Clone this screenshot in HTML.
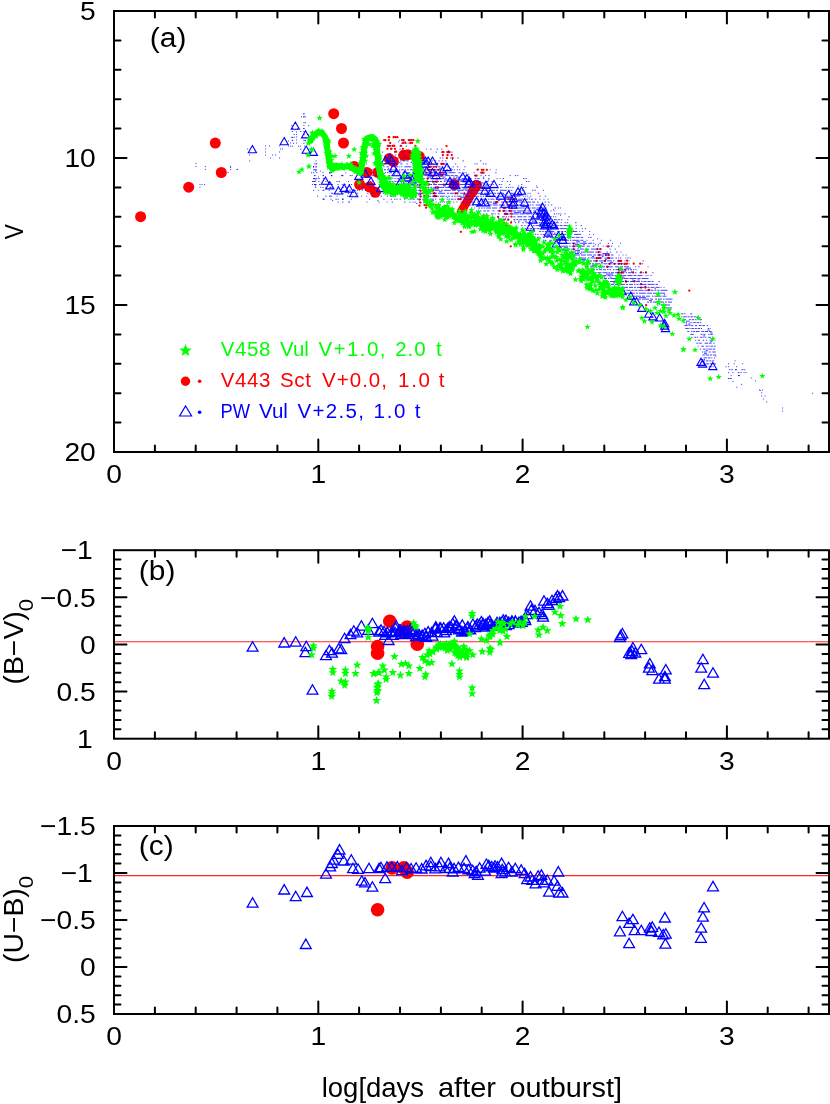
<!DOCTYPE html>
<html><head><meta charset="utf-8"><title>Nova light curves</title>
<style>html,body{margin:0;padding:0;background:#fff}svg{display:block;will-change:transform;transform:translateZ(0)}</style></head><body>
<svg width="830" height="1104" viewBox="0 0 830 1104">
<rect width="830" height="1104" fill="#fff"/>
<path d="M397.3 137.2h.1M410.2 142.9h.1M411.4 140.1h.1M392.6 145.8h.1M389.2 137.2h.1M412 142.9h.1M402 140.1h.1M403.6 140.1h.1M395.4 137.2h.1M401 145.8h.1M402.7 140.1h.1M388.7 137.2h.1M390.1 142.9h.1M394.3 145.8h.1M394.9 148.8h.1M415.3 145.8h.1M384.1 140.1h.1M408.7 140.1h.1M393.2 145.8h.1M387.4 148.8h.1M389.8 145.8h.1M391.4 148.8h.1M403.1 142.9h.1M409.8 140.1h.1M387.8 145.8h.1M390.9 148.8h.1M405.4 142.9h.1M402.8 148.8h.1M413.3 140.1h.1M385.3 140.1h.1M393.6 137.2h.1M388.8 140.1h.1M401.6 151.7h.1M401.5 151.7h.1M402.3 151.7h.1M395.2 151.7h.1M396.2 151.7h.1M403.5 151.7h.1M402.4 151.7h.1M410.2 151.7h.1M443.2 152.1h.1M449.5 152.1h.1M447.2 152.1h.1M448.5 152.1h.1M446.9 158h.1M452.6 158h.1M447.6 155.1h.1M449 152.1h.1M442.8 155.1h.1M451.7 155.1h.1M443.4 152.1h.1M442.8 152.1h.1M446.5 146h.1M420.3 179h.1M419.5 181.9h.1M420.2 184.9h.1M420.5 187.8h.1M420.5 190.8h.1M420.6 193.7h.1M420.5 196.6h.1M419.7 199.6h.1M420.4 202.5h.1M419.4 205.5h.1M426 207.7h.1M440.8 172.7h.1M428.8 184.5h.1M428.9 169.8h.1M428.7 166.8h.1M437 181.5h.1M443.8 184.5h.1M435.8 172.7h.1M427.5 178.6h.1M440.6 175.6h.1M437 178.6h.1M436.2 166.8h.1M436.9 163.9h.1M435.7 181.5h.1M443.7 163.9h.1M441.3 163.9h.1M441.8 175.6h.1M427.3 181.5h.1M428.3 184.5h.1M438.3 169.8h.1M434.3 169.8h.1M431.5 175.6h.1M431.5 172.7h.1M426.1 172.7h.1M429.6 163.9h.1M425 184.5h.1M441.9 163.9h.1M427.3 181.5h.1M443.1 172.7h.1M430.7 166.8h.1M431.3 169.8h.1M433.2 175.6h.1M432.7 181.5h.1M433.8 166.8h.1M428 169.8h.1M429.3 190.3h.1M426.4 205h.1M424.5 205h.1M430.3 202.1h.1M427.9 196.2h.1M433.3 190.3h.1M432.5 190.3h.1M435.9 187.4h.1M437.9 187.4h.1M427.3 196.2h.1M439.4 205h.1M424.2 196.2h.1M433.4 193.3h.1M436.2 205h.1M435.2 196.2h.1M434.6 193.3h.1M434.7 196.2h.1M435.8 196.2h.1M434.2 196.2h.1M434.2 193.3h.1M434.1 193.3h.1M483.5 172.7h.1M481.8 169.8h.1M483.4 169.8h.1M476.6 175.6h.1M482.3 172.7h.1M481.6 172.7h.1M486.8 169.8h.1M477.8 169.5h.1M482 172.8h.1M475.4 175.5h.1M511.8 208h.1M506 225.6h.1M509.5 210.9h.1M497.3 202.1h.1M506.8 213.9h.1M498.1 216.8h.1M503.9 219.7h.1M508.6 199.2h.1M514.6 199.2h.1M512.4 199.2h.1M506.6 202.1h.1M499.7 210.9h.1M510.6 210.9h.1M502.7 205h.1M503.8 222.7h.1M505.1 213.9h.1M505.3 213.9h.1M509.3 205h.1M504.8 199.2h.1M504.2 208h.1M503.7 210.9h.1M496 202.1h.1M507.8 225.6h.1M499.3 222.7h.1M511.7 202.1h.1M493.1 219.7h.1M499.6 219.7h.1M504.5 208h.1M508.1 219.7h.1M500.3 219.7h.1M460.5 199.2h.1M469.8 190.3h.1M468.8 187.4h.1M468.8 187.4h.1M457.3 193.3h.1M468.9 187.4h.1M458.2 199.2h.1M464.3 193.3h.1M455.4 193.3h.1M468.8 193.3h.1M511.4 213.7h.1M511.4 216.6h.1M511 222.5h.1M510.7 246.3h.1M510.7 246.3h.1M460.8 231.8h.1M510.7 246.3h.1M573.7 243.5h.1M573.7 246.4h.1M573.7 249.3h.1M600 258h.1M599.3 255h.1M598.8 252.1h.1M597.4 249.1h.1M598.4 258h.1M598.4 258h.1M600.5 249.1h.1M596.5 260.9h.1M596.6 258h.1M607.7 246.4h.1M608.3 246.3h.1M609.4 263.8h.1M607.4 266.8h.1M608.4 255h.1M607.2 266.8h.1M605 260.9h.1M608.1 258h.1M609.2 258h.1M605.7 255h.1M618.8 263.8h.1M620.4 260.9h.1M624.4 263.8h.1M614.4 263.8h.1M621.5 263.8h.1M625.5 263.8h.1M626.5 263.8h.1M618.5 260.9h.1M621.5 263.8h.1M621 260.9h.1M620.7 275.6h.1M622.6 272.7h.1M619.7 281.5h.1M619.1 272.7h.1M625.2 269.7h.1M621.8 278.5h.1M625.9 281.5h.1M618.1 272.7h.1M620.3 269.7h.1M618.9 269.7h.1M619.3 272.7h.1M621.8 272.7h.1M633.7 263.7h.1M640.2 263.7h.1M633 272.4h.1M641 272.4h.1M646 272.4h.1M625.8 281h.1M634.5 281h.1M641 284h.1M645.3 286.9h.1M649 289.8h.1M646 305h.1M626 281.7h.1M634.3 281.3h.1M641 284h.1M641 287.6h.1M645.3 287.6h.1M648.7 290h.1M689.2 290.5h.1M627 260.7h.1M627 263.6h.1" stroke="#f00" stroke-width="2.25" stroke-linecap="round" fill="none"/>
<g fill="#f00"><circle cx="140.6" cy="216.7" r="5.5"/><circle cx="188.7" cy="187.2" r="5.5"/><circle cx="215.3" cy="143.1" r="5.5"/><circle cx="221.3" cy="172.5" r="5.5"/><circle cx="333.7" cy="113.7" r="5.5"/><circle cx="341.5" cy="128.5" r="5.5"/><circle cx="343.5" cy="143" r="5.5"/><circle cx="354.2" cy="166.4" r="5.5"/><circle cx="366.9" cy="172.4" r="5.5"/><circle cx="377.7" cy="172.4" r="5.5"/><circle cx="359.6" cy="184.5" r="5.5"/><circle cx="369.3" cy="186.9" r="5.5"/><circle cx="375.3" cy="192.3" r="5.5"/><circle cx="389.2" cy="158.6" r="5.5"/><circle cx="393.4" cy="161.5" r="5.5"/><circle cx="403.7" cy="155.3" r="5.5"/><circle cx="407.9" cy="154.7" r="5.5"/><circle cx="419.3" cy="156.5" r="5.5"/><circle cx="454.3" cy="184.5" r="5.5"/></g>
<g fill="#f00"><circle cx="476.3" cy="185.4" r="5.6"/><circle cx="474.8" cy="188" r="5.3"/><circle cx="473.3" cy="190.6" r="5"/><circle cx="471.8" cy="193.2" r="4.7"/><circle cx="470.3" cy="195.8" r="4.4"/><circle cx="468.8" cy="198.4" r="4.4"/><circle cx="467.2" cy="201.1" r="4.4"/><circle cx="465.7" cy="203.7" r="4.4"/><circle cx="464.2" cy="206.3" r="4.4"/><circle cx="462.7" cy="208.9" r="4.4"/><circle cx="461.2" cy="211.5" r="4.4"/></g>
<path d="M301 116.8h1M305 116.8h1M308 125.7h1.2M297 128.6h1.4M303.4 128.6h1M300 131.5h1.2M296 134.5h1M303 134.5h1.4M307.4 134.5h1.2M305 137.4h1.2M309.2 137.4h1.4M309 140.4h1.2M399.2 140.4h1M398 141.8h1.2M404.2 141.8h1.2M293 143.3h1.2M401.2 143.3h1.4M407.6 143.3h1M298 146.2h1.2M300.2 146.2h1M304.2 146.2h1M388.2 146.2h1M390.2 146.2h1.2M399.4 146.2h1.2M405.6 146.2h1.4M300 149.2h1.4M399.4 149.2h1.4M411.8 149.2h1M415.8 149.2h1.4M426.2 149.2h1M430.2 149.2h1.4M436.6 149.2h1.4M441 149.2h1.4M448 150.7h1M382 152.1h1.2M394.2 152.1h1.2M401.4 152.1h1.4M404.8 152.1h1M408.8 152.1h1.4M415.2 152.1h1.4M417.6 152.1h1M435.6 152.1h1.2M440.8 152.1h1.4M448.2 152.1h1.2M451.4 152.1h1.2M310 155.1h1M388 155.1h1M395 155.1h1.2M398.2 155.1h1M403.2 155.1h1.2M417.4 155.1h1M446.4 155.1h1M405 156.5h1.2M388 158h1.2M390.2 158h1M397.2 158h1.4M400.6 158h1.2M402.8 158h1M404.8 158h1.4M407.2 158h1.4M410.6 158h1M412.6 158h1.2M416.8 158h1.2M423 158h1.2M425.2 158h1.4M427.6 158h1M431.6 158h1M439.6 158h1.4M442 158h1.4M450.4 158h1M457.4 158h1.2M452 159.5h1M390 160.9h1.2M393.2 160.9h2M396.2 160.9h1M400.2 160.9h1.5M402.7 160.9h2.5M406.2 160.9h2.5M414.7 160.9h1M416.7 160.9h1.4M421.1 160.9h1.4M431.5 160.9h1.4M434.9 160.9h1.4M438.3 160.9h1.4M441.7 160.9h1.4M445.1 160.9h1.4M462.5 160.9h1.4M479.9 160.9h1.4M399 162.4h1.5M410.5 162.4h1.5M366 163.9h1M384 163.9h1.4M388.4 163.9h2.5M392.9 163.9h2M395.9 163.9h2.5M400.4 163.9h2M406.4 163.9h1.5M411.9 163.9h2M416.9 163.9h1.2M419.1 163.9h1.5M422.6 163.9h2.5M431.1 163.9h1.2M433.3 163.9h1M437.3 163.9h1.2M441.5 163.9h1.4M444.9 163.9h1M446.9 163.9h1M454.9 163.9h1.4M474.3 163.9h1M476.3 163.9h1.4M482.7 163.9h1.4M485.1 163.9h1.4M383 165.3h1.2M427.2 165.3h1.5M436.7 165.3h1M313 166.8h1M327 166.8h1.4M377.4 166.8h1.2M383.6 166.8h1M386.6 166.8h2M391.6 166.8h1.5M394.1 166.8h1.2M396.3 166.8h2M399.3 166.8h1M401.3 166.8h1M404.3 166.8h7M415.3 166.8h7M424.3 166.8h2M429.3 166.8h1.2M431.5 166.8h1M435.5 166.8h1.5M438 166.8h2.5M441.5 166.8h1.5M445 166.8h1.2M447.2 166.8h2.5M452.7 166.8h1.2M456.9 166.8h1.4M464.3 166.8h1.4M388 168.3h1.2M422.2 168.3h2M439.2 168.3h2M449.2 168.3h2.5M313 169.8h1.2M315.2 169.8h1.4M343.6 169.8h1.4M354 169.8h1.2M371.2 169.8h1.2M376.4 169.8h1.4M380.8 169.8h1.2M384 169.8h2M387 169.8h2.5M390.5 169.8h2M393.5 169.8h1M395.5 169.8h1.5M399 169.8h1.2M401.2 169.8h2.5M404.7 169.8h1.5M407.2 169.8h1.5M409.7 169.8h4M414.7 169.8h7M422.7 169.8h4M427.7 169.8h5M433.7 169.8h7M442.7 169.8h1.5M446.2 169.8h2M450.2 169.8h2.5M453.7 169.8h1.2M456.9 169.8h1.2M459.1 169.8h1.2M463.3 169.8h1.2M476.5 169.8h1.2M489.7 169.8h1M495.7 169.8h1M315 171.2h1.2M320.2 171.2h1M397.2 171.2h2.5M422.7 171.2h3M311 172.7h1.2M345.2 172.7h1M354.2 172.7h1.2M371.4 172.7h1.4M375.8 172.7h1M378.8 172.7h1M384.8 172.7h1.2M387 172.7h1.5M389.5 172.7h2.5M394 172.7h2M397 172.7h1.5M399.5 172.7h1M402.5 172.7h2.5M406 172.7h4M412 172.7h2M415 172.7h1.5M417.5 172.7h7M425.5 172.7h7M433.5 172.7h4M438.5 172.7h3M443.5 172.7h4M448.5 172.7h7M458.5 172.7h2M463.5 172.7h1M465.5 172.7h1.2M473.7 172.7h1.2M479.9 172.7h1.4M495.3 172.7h1.2M394 174.2h1.2M439.2 174.2h2M468.2 174.2h1M323 175.6h1M331 175.6h1.4M351.4 175.6h1.4M359.8 175.6h1.2M372 175.6h1.2M375.2 175.6h1.4M381.6 175.6h1.2M383.8 175.6h1.5M388.3 175.6h2M391.3 175.6h1.2M393.5 175.6h1M396.5 175.6h2.5M400 175.6h1.5M402.5 175.6h1.2M404.7 175.6h3M408.7 175.6h4M413.7 175.6h3M417.7 175.6h1.5M420.2 175.6h3M424.2 175.6h4M430.2 175.6h1.5M432.7 175.6h7M441.7 175.6h2M444.7 175.6h5M450.7 175.6h3M454.7 175.6h3M460.7 175.6h2M465.7 175.6h1.5M474.2 175.6h1.4M480.6 175.6h1.2M484.8 175.6h1.4M488.2 175.6h1.4M509.6 175.6h1.2M514.8 175.6h1.4M517.2 175.6h1.2M318 177.1h1M377 177.1h1.4M408.4 177.1h3M427.4 177.1h4M442.4 177.1h3M453.4 177.1h1.5M455.9 177.1h4M482.9 177.1h1.4M313 178.6h1.4M318.4 178.6h1.4M322.8 178.6h1.4M377.2 178.6h1.2M380.4 178.6h1.2M382.6 178.6h1.4M386 178.6h1M388 178.6h2.5M391.5 178.6h1M393.5 178.6h1M395.5 178.6h1M397.5 178.6h1.5M400 178.6h1.2M402.2 178.6h2M405.2 178.6h7M413.2 178.6h2M416.2 178.6h3M420.2 178.6h5M427.2 178.6h2M430.2 178.6h4M435.2 178.6h3M439.2 178.6h5M445.2 178.6h1.5M449.7 178.6h2M452.7 178.6h4M457.7 178.6h2M461.7 178.6h5M467.7 178.6h1.5M470.2 178.6h1.5M474.7 178.6h1.5M477.2 178.6h2.5M482.7 178.6h1.5M488.2 178.6h1.4M496.6 178.6h1M499.6 178.6h1M502.6 178.6h1.4M523 178.6h1.4M525.4 178.6h1.4M315 180h1.4M381.4 180h1M398.4 180h2.5M443.9 180h7M456.9 180h2M487.9 180h1.2M312 181.5h1.2M318.2 181.5h1.2M325.4 181.5h1M336.4 181.5h1.2M338.6 181.5h1.4M348 181.5h1M357 181.5h1M363 181.5h1M370 181.5h1.4M372.4 181.5h1.4M379.8 181.5h1.4M383.2 181.5h1M385.2 181.5h2.5M388.7 181.5h2.5M392.2 181.5h1.2M394.4 181.5h2M397.4 181.5h1M399.4 181.5h2M402.4 181.5h1.5M404.9 181.5h3M408.9 181.5h7M416.9 181.5h2M419.9 181.5h3M423.9 181.5h1.5M426.4 181.5h5M432.4 181.5h4M437.4 181.5h1.5M439.9 181.5h2M443.9 181.5h1.5M447.4 181.5h7M456.4 181.5h3M460.4 181.5h2M463.4 181.5h3M467.4 181.5h5M473.4 181.5h1.5M475.9 181.5h5M485.9 181.5h2.5M491.4 181.5h1.2M501.6 181.5h1.2M506.8 181.5h1.2M510 181.5h1M526 181.5h1.2M528.2 181.5h1.2M414 183h2M420 183h5M433 183h2M472 183h3M478 183h7M312 184.5h1M319 184.5h1.4M325.4 184.5h1M328.4 184.5h1.2M331.6 184.5h1.2M341.8 184.5h1M344.8 184.5h1M348.8 184.5h1.2M351 184.5h1.2M357.2 184.5h1M360.2 184.5h1M367.2 184.5h1.4M378.6 184.5h1M380.6 184.5h1.4M383 184.5h1.4M385.4 184.5h2.5M388.9 184.5h1.2M391.1 184.5h2M395.1 184.5h2.5M399.6 184.5h1M401.6 184.5h2M404.6 184.5h5M410.6 184.5h5M416.6 184.5h2M419.6 184.5h1.5M422.1 184.5h4M427.1 184.5h2M430.1 184.5h2M433.1 184.5h4M438.1 184.5h5M444.1 184.5h3M448.1 184.5h3M452.1 184.5h7M460.1 184.5h7M468.1 184.5h2M471.1 184.5h5M477.1 184.5h2M480.1 184.5h1.5M483.6 184.5h1.5M486.1 184.5h1.5M488.6 184.5h1M490.6 184.5h1M492.6 184.5h1.2M498.8 184.5h1.4M501.2 184.5h1M509.2 184.5h1M521.2 184.5h1M315 185.9h1M390 185.9h1M415 185.9h5M443 185.9h3M469 185.9h7M485 185.9h4M518 185.9h1.2M536.2 185.9h1M315 187.4h1.2M320.2 187.4h1.2M325.4 187.4h1M332.4 187.4h1M342.4 187.4h1.4M346.8 187.4h1.4M358.2 187.4h1.2M362.4 187.4h1.2M369.6 187.4h1.2M373.8 187.4h1.4M379.2 187.4h1M381.2 187.4h1M384.2 187.4h2M387.2 187.4h2M391.2 187.4h2.5M395.7 187.4h1M398.7 187.4h1M400.7 187.4h2.5M404.2 187.4h1.5M407.7 187.4h2M410.7 187.4h5M416.7 187.4h7M424.7 187.4h1.5M427.2 187.4h2M430.2 187.4h2M433.2 187.4h3M437.2 187.4h7M445.2 187.4h3M449.2 187.4h4M454.2 187.4h4M459.2 187.4h1.5M461.7 187.4h7M469.7 187.4h1.5M473.2 187.4h3M477.2 187.4h7M485.2 187.4h4M491.2 187.4h5M500.2 187.4h1.5M505.7 187.4h1.4M508.1 187.4h1.2M510.3 187.4h1M512.3 187.4h1.2M520.5 187.4h1.4M522.9 187.4h1.4M525.3 187.4h1.2M536.5 187.4h1.4M362 188.9h1.4M373.4 188.9h1.2M384.6 188.9h2M393.6 188.9h1.5M400.1 188.9h1M404.1 188.9h3M428.1 188.9h1.5M431.6 188.9h7M462.6 188.9h5M519.6 188.9h1M313 190.3h1.2M318.2 190.3h1M322.2 190.3h1.4M328.6 190.3h1.2M345.8 190.3h1.4M349.2 190.3h1.4M354.6 190.3h1.2M356.8 190.3h1.2M359 190.3h1M362 190.3h1M365 190.3h1M377 190.3h1.2M384.2 190.3h1.2M386.4 190.3h2M389.4 190.3h1.5M392.9 190.3h2M397.9 190.3h1.5M401.4 190.3h2.5M405.9 190.3h7M413.9 190.3h3M417.9 190.3h3M421.9 190.3h4M426.9 190.3h7M434.9 190.3h5M440.9 190.3h2M443.9 190.3h7M451.9 190.3h4M456.9 190.3h7M464.9 190.3h5M470.9 190.3h7M478.9 190.3h7M486.9 190.3h2M491.9 190.3h3M495.9 190.3h2M499.9 190.3h7M508.9 190.3h1M510.9 190.3h1.5M519.4 190.3h1.4M521.8 190.3h1.2M532 190.3h1.4M534.4 190.3h1.4M542.8 190.3h1.2M439 191.8h3M458 191.8h1.5M467.5 191.8h3M332 193.3h1.4M342.4 193.3h1.4M347.8 193.3h1.4M357.2 193.3h1M367.2 193.3h1.2M372.4 193.3h1.2M379.6 193.3h1.2M382.8 193.3h1M385.8 193.3h2.5M389.3 193.3h1.5M391.8 193.3h1M393.8 193.3h1.5M397.3 193.3h1.2M399.5 193.3h1M403.5 193.3h5M411.5 193.3h3M416.5 193.3h4M421.5 193.3h1.5M425 193.3h7M433 193.3h4M438 193.3h7M447 193.3h2M450 193.3h4M455 193.3h2M460 193.3h3M464 193.3h1.5M466.5 193.3h3M470.5 193.3h1.5M473 193.3h1.5M476.5 193.3h4M481.5 193.3h1.5M484 193.3h4M489 193.3h7M497 193.3h2M500 193.3h4M506 193.3h2M511 193.3h2M514 193.3h2M517 193.3h2.5M523.5 193.3h1M527.5 193.3h1M529.5 193.3h1.2M537.7 193.3h1.4M400 194.8h2.5M403.5 194.8h1.5M412 194.8h5M418 194.8h3M463 194.8h5M485 194.8h5M502 194.8h4M517 194.8h5M317 196.2h1.2M325.2 196.2h1.4M336.6 196.2h1M351.6 196.2h1.4M355 196.2h1.2M361.2 196.2h1M366.2 196.2h1M372.2 196.2h1.4M380.6 196.2h1.4M387 196.2h1M390 196.2h2M393 196.2h1M403 196.2h2.5M407.5 196.2h1M411.5 196.2h1.2M413.7 196.2h2M419.7 196.2h2M423.7 196.2h7M431.7 196.2h7M439.7 196.2h5M445.7 196.2h1.5M448.2 196.2h1.5M451.7 196.2h1.5M454.2 196.2h1.5M456.7 196.2h5M462.7 196.2h2M465.7 196.2h5M471.7 196.2h1.5M474.2 196.2h5M480.2 196.2h1.5M482.7 196.2h1.5M485.2 196.2h1.5M488.7 196.2h5M494.7 196.2h1.5M497.2 196.2h7M505.2 196.2h7M513.2 196.2h7M523.2 196.2h1M525.2 196.2h1M527.2 196.2h1M530.2 196.2h1.2M539.4 196.2h1.4M544.8 196.2h1.4M415 197.7h1.2M447.2 197.7h1M460.2 197.7h5M495.2 197.7h4M510.2 197.7h1.5M528.7 197.7h1M323 199.2h1.4M335.4 199.2h1.4M350.8 199.2h1.2M369 199.2h1.2M383.2 199.2h1.4M390.6 199.2h1.4M394 199.2h1.4M396.4 199.2h1.2M399.6 199.2h1.4M404 199.2h1.4M408.4 199.2h1.2M410.6 199.2h1.2M412.8 199.2h2M416.8 199.2h2.5M420.3 199.2h1M422.3 199.2h2.5M425.8 199.2h1.5M428.3 199.2h1.2M431.5 199.2h2.5M435 199.2h1.2M439.2 199.2h1M442.2 199.2h1.5M446.7 199.2h1M448.7 199.2h1.2M450.9 199.2h2.5M454.4 199.2h1.5M458.9 199.2h2.5M464.4 199.2h3M468.4 199.2h5M474.4 199.2h2M477.4 199.2h1.5M479.9 199.2h7M487.9 199.2h1.5M490.4 199.2h4M496.4 199.2h1.5M498.9 199.2h4M503.9 199.2h4M508.9 199.2h3M512.9 199.2h4M517.9 199.2h5M523.9 199.2h4M528.9 199.2h1M530.9 199.2h2M534.9 199.2h1.4M539.3 199.2h1.2M543.5 199.2h1M547.5 199.2h1M332 200.6h1.2M377.2 200.6h1.2M423.4 200.6h1.5M431.9 200.6h2M497.9 200.6h2M517.9 200.6h4M342 202.1h1.4M366.4 202.1h1M378.4 202.1h1.2M386.6 202.1h1M391.6 202.1h1.4M404 202.1h1.4M409.4 202.1h1.2M412.6 202.1h1M414.6 202.1h1.2M418.8 202.1h1.2M423 202.1h1.4M425.4 202.1h1.2M431.6 202.1h1M435.6 202.1h1M439.6 202.1h1.4M442 202.1h1M444 202.1h1.2M446.2 202.1h1.2M453.4 202.1h1M456.4 202.1h1M460.4 202.1h1.2M462.6 202.1h1.5M465.1 202.1h1.5M467.6 202.1h1.5M470.1 202.1h5M477.1 202.1h3M481.1 202.1h5M487.1 202.1h5M493.1 202.1h4M501.1 202.1h3M505.1 202.1h7M513.1 202.1h5M519.1 202.1h3M523.1 202.1h2M526.1 202.1h5M532.1 202.1h3M537.1 202.1h1.5M544.6 202.1h1.4M548 202.1h1.4M416 203.6h1.4M486.4 203.6h1.5M492.9 203.6h4M510.9 203.6h1.5M465 205h1.2M469.2 205h1.5M471.7 205h2M475.7 205h2M478.7 205h3M484.7 205h2M487.7 205h4M492.7 205h5M498.7 205h4M503.7 205h1.5M506.2 205h3M510.2 205h4M515.2 205h2M518.2 205h7M527.2 205h1.5M529.7 205h1.5M532.2 205h1.5M535.7 205h7M544.7 205h1.4M548.1 205h1M551.1 205h1.2M476 206.5h1.5M507.5 206.5h2M510.5 206.5h5M521.5 206.5h7M471 208h1.2M474.2 208h1M478.2 208h2M481.2 208h1.5M483.7 208h1.5M486.2 208h5M492.2 208h5M499.2 208h2M502.2 208h5M508.2 208h2M511.2 208h1.5M513.7 208h3M517.7 208h7M526.7 208h4M531.7 208h4M536.7 208h5M542.7 208h2M545.7 208h1M554.7 208h1.4M558.1 208h1M560.1 208h1M536 209.4h2M553 209.4h1M476 210.9h1M478 210.9h1.2M480.2 210.9h1.2M483.4 210.9h2.5M486.9 210.9h2.5M492.4 210.9h2M497.4 210.9h2M502.4 210.9h5M508.4 210.9h1.5M510.9 210.9h5M516.9 210.9h7M524.9 210.9h1.5M527.4 210.9h4M533.4 210.9h3M537.4 210.9h2M540.4 210.9h2M543.4 210.9h4M550.4 210.9h1.2M553.6 210.9h1M514 212.4h7M533 212.4h2M480 213.9h1M486 213.9h1M491 213.9h2.5M494.5 213.9h1.2M497.7 213.9h2M503.7 213.9h7M511.7 213.9h7M519.7 213.9h5M525.7 213.9h4M530.7 213.9h2M534.7 213.9h7M542.7 213.9h5M553.7 213.9h1.4M556.1 213.9h1M558.1 213.9h1.4M560.5 213.9h1M564.5 213.9h1.2M538 215.3h4M560 215.3h1M497 216.8h1.2M502.2 216.8h2.5M505.7 216.8h1.5M508.2 216.8h1.2M513.4 216.8h2M517.4 216.8h5M523.4 216.8h3M528.4 216.8h3M532.4 216.8h1.5M536.9 216.8h4M541.9 216.8h2M544.9 216.8h7M552.9 216.8h1.2M555.1 216.8h1.2M568.3 216.8h1.4M498 218.3h1M505 218.3h1M505 219.7h1.2M508.2 219.7h1.2M513.4 219.7h2M516.4 219.7h2M519.4 219.7h2.5M522.9 219.7h4M527.9 219.7h2M530.9 219.7h3M535.9 219.7h5M541.9 219.7h2M544.9 219.7h2M547.9 219.7h5M553.9 219.7h3M557.9 219.7h2M560.9 219.7h1.4M567.3 219.7h1M511 221.2h1M514 221.2h1.2M518.2 221.2h1.5M524.7 221.2h2M531.7 221.2h5M556.7 221.2h1M515 222.7h1M518 222.7h1.2M522.2 222.7h1.5M525.7 222.7h7M533.7 222.7h4M538.7 222.7h2M541.7 222.7h4M546.7 222.7h4M552.7 222.7h2M555.7 222.7h3M560.7 222.7h1M564.7 222.7h1M566.7 222.7h1.4M575.1 222.7h1.4M539 224.2h4M521 225.6h1.4M524.4 225.6h1.2M527.6 225.6h2.5M533.1 225.6h1.5M535.6 225.6h7M543.6 225.6h7M551.6 225.6h7M559.6 225.6h3M563.6 225.6h4M568.6 225.6h1M575.6 225.6h1M580.6 225.6h1.4M544 227.1h2M525 228.6h1.2M527.2 228.6h1.4M529.6 228.6h2.5M534.1 228.6h1.5M536.6 228.6h3M540.6 228.6h1.5M543.1 228.6h1.5M545.6 228.6h3M549.6 228.6h4M554.6 228.6h4M559.6 228.6h7M567.6 228.6h5M575.6 228.6h1.2M581.8 228.6h1M584.8 228.6h1.2M550 230h1.5M572.5 230h1.2M532 231.5h1M534 231.5h1.2M539.2 231.5h2M542.2 231.5h1.5M544.7 231.5h1.5M547.2 231.5h7M557.2 231.5h3M561.2 231.5h2M564.2 231.5h2M567.2 231.5h2M570.2 231.5h7M579.2 231.5h1M582.2 231.5h1M589.2 231.5h1M546 233h7M554 233h1.5M570.5 233h2M535 234.4h1.2M537.2 234.4h1.2M540.4 234.4h1.2M542.6 234.4h3M546.6 234.4h4M552.6 234.4h5M558.6 234.4h1.5M561.1 234.4h5M567.1 234.4h5M574.1 234.4h7M589.1 234.4h1M593.1 234.4h1M547 235.9h3M537 237.4h1.2M539.2 237.4h1.4M542.6 237.4h2.5M546.1 237.4h2.5M549.6 237.4h5M555.6 237.4h7M563.6 237.4h2M566.6 237.4h4M571.6 237.4h3M575.6 237.4h4M580.6 237.4h2.5M588.1 237.4h1.2M590.3 237.4h1.4M597 238.8h1M543 240.3h1M545 240.3h1.4M549.4 240.3h2.5M552.9 240.3h2M555.9 240.3h5M561.9 240.3h3M565.9 240.3h3M569.9 240.3h1.5M572.4 240.3h7M580.4 240.3h3M586.4 240.3h1.2M592.6 240.3h1.2M600.8 240.3h1M609.8 240.3h1.4M549 241.8h2M555 241.8h2M576 241.8h4M583 241.8h3M547 243.3h1.2M552.2 243.3h1M555.2 243.3h1M557.2 243.3h1.5M559.7 243.3h3M563.7 243.3h7M571.7 243.3h4M576.7 243.3h1.5M580.2 243.3h7M588.2 243.3h4M593.2 243.3h1.2M599.4 243.3h1.4M607.8 243.3h1.2M612 243.3h1M620 243.3h1M575 244.7h5M583 244.7h2M595 244.7h1M598 244.7h1M557 246.2h1.2M561.2 246.2h7M569.2 246.2h1.5M571.7 246.2h7M579.7 246.2h5M586.7 246.2h3M592.7 246.2h2M597.7 246.2h1M602.7 246.2h1M605.7 246.2h1M608.7 246.2h1.2M610.9 246.2h1.4M618.3 246.2h1M560 247.7h2M564 247.7h4M559 249.1h1.4M561.4 249.1h1.5M563.9 249.1h1.5M566.4 249.1h4M571.4 249.1h4M577.4 249.1h1.5M579.9 249.1h4M584.9 249.1h4M590.9 249.1h7M598.9 249.1h1.5M609.4 249.1h1.2M614.6 249.1h1.2M562 250.6h5M575 250.6h5M564 252.1h4M569 252.1h7M577 252.1h3M581 252.1h5M587 252.1h7M595 252.1h4M600 252.1h1.5M606.5 252.1h1.4M609.9 252.1h1.2M616.1 252.1h1.4M620.5 252.1h1M575 253.5h4M580 253.5h1.5M602.5 253.5h7M568 255h4M573 255h7M581 255h5M587 255h5M593 255h3M597 255h7M605 255h5M611 255h2.5M618.5 255h1M622.5 255h1M625.5 255h1M592 256.5h2M602 256.5h1.5M573 258h4M579 258h7M588 258h1.5M590.5 258h5M596.5 258h2M599.5 258h3M604.5 258h5M610.5 258h3M615.5 258h1.5M618 258h1M620 258h1.4M625.4 258h1M627.4 258h1.2M629.6 258h1.2M581 259.4h5M605 259.4h2M578 260.9h2M582 260.9h3M586 260.9h3M590 260.9h2M593 260.9h5M599 260.9h7M607 260.9h5M613 260.9h1.5M617.5 260.9h3M624.5 260.9h1M628.5 260.9h1M642.5 260.9h1.4M601 262.4h2M610 262.4h3M582 263.8h3M586 263.8h5M592 263.8h2M595 263.8h5M601 263.8h1.5M603.5 263.8h4M608.5 263.8h4M613.5 263.8h3M617.5 263.8h5M628.5 263.8h1.2M641.7 263.8h1.4M585 265.3h1.5M591.5 265.3h5M586 266.8h2M590 266.8h4M595 266.8h2M598 266.8h7M606 266.8h7M615 266.8h4M620 266.8h3M624 266.8h5M635 266.8h1.2M638.2 266.8h1.4M647.6 266.8h1M618 268.2h2M626 268.2h5M591 269.7h4M596 269.7h2M599 269.7h3M603 269.7h3M607 269.7h1.5M609.5 269.7h1.5M613 269.7h1.5M615.5 269.7h4M620.5 269.7h3M624.5 269.7h2M627.5 269.7h1.5M630 269.7h2M633 269.7h1.4M635.4 269.7h1.2M621 271.2h5M631 271.2h1M595 272.7h1.5M597.5 272.7h4M602.5 272.7h5M608.5 272.7h1.5M611 272.7h3M615 272.7h4M620 272.7h2M623 272.7h1.5M625.5 272.7h1.5M628 272.7h4M633 272.7h1M635 272.7h1.5M639.5 272.7h1.2M642.7 272.7h1.4M645.1 272.7h1.2M652.3 272.7h1.2M606 274.1h7M600 275.6h1.5M602.5 275.6h4M607.5 275.6h3M611.5 275.6h2M614.5 275.6h2M617.5 275.6h4M622.5 275.6h4M627.5 275.6h5M633.5 275.6h3M637.5 275.6h5M645.5 275.6h1M647.5 275.6h1M650.5 275.6h1.2M604 277.1h1.5M609.5 277.1h2M616.5 277.1h3M621.5 277.1h3M604 278.5h3M608 278.5h1.5M610.5 278.5h7M618.5 278.5h4M623.5 278.5h5M629.5 278.5h7M637.5 278.5h3M641.5 278.5h7M632 280h1.5M637.5 280h2M607 281.5h2M610 281.5h5M616 281.5h2M620 281.5h4M625 281.5h4M630 281.5h5M636 281.5h4M641 281.5h1.5M643.5 281.5h3M647.5 281.5h3M651.5 281.5h2M658.5 281.5h1.4M613 282.9h2M611 284.4h3M615 284.4h3M620 284.4h5M626 284.4h2M629 284.4h4M634 284.4h1.5M636.5 284.4h2M639.5 284.4h7M647.5 284.4h7M655.5 284.4h2.5M615 287.4h5M621 287.4h7M629 287.4h4M634 287.4h2M637 287.4h7M645 287.4h1.5M647.5 287.4h2M650.5 287.4h4M655.5 287.4h4M660.5 287.4h1M663.5 287.4h1M623 288.8h1.5M654.5 288.8h1.5M618 290.3h2M621 290.3h1.5M623.5 290.3h2M626.5 290.3h4M631.5 290.3h2M634.5 290.3h3M638.5 290.3h5M644.5 290.3h5M650.5 290.3h3M654.5 290.3h2M657.5 290.3h2M660.5 290.3h7M624 293.2h5M630 293.2h5M636 293.2h2M639 293.2h7M647 293.2h5M653 293.2h4M658 293.2h7M664 294.7h1M631 296.2h2M634 296.2h7M642 296.2h3M646 296.2h4M652 296.2h1.5M654.5 296.2h7M662.5 296.2h4M639 297.6h7M638 299.1h3M642 299.1h7M650 299.1h3M655 299.1h2M658 299.1h4M663 299.1h1.5M665.5 299.1h7M649 300.6h3M647 302.1h2M650 302.1h2M653 302.1h4M658 302.1h2M661 302.1h3M665 302.1h2M668 302.1h4M657 305h1.5M660.5 305h1.5M663 305h7M665 307.9h7M670 309.4h1.2M681.3 313.8h2M684.1 313.8h1.3M690.2 313.8h2.1M681.5 316.8h1M683.3 316.8h3.5M687.6 316.8h2M690.4 316.8h2.6M693.8 316.8h2M696.6 316.8h2.2M698.1 318.2h2M683.5 319.7h2.6M688.9 319.7h2M691.7 319.7h2.6M695.1 319.7h1.3M698.2 319.7h1M700 319.7h2M686 321.2h3.5M683.4 322.6h1.3M685.5 322.6h1.3M689.6 322.6h1M691.4 322.6h1M693.2 322.6h2.6M696.6 322.6h2.6M700 322.6h1.3M685.8 324.1h1.3M687.9 324.1h2.6M684.3 325.6h3.5M688.6 325.6h1.3M690.7 325.6h2.6M695.1 325.6h2M698.9 325.6h2.6M702.3 325.6h2.6M706.7 325.6h1.3M685.3 328.5h3.5M689.6 328.5h1M691.4 328.5h2.6M694.8 328.5h2M697.6 328.5h2.6M701 328.5h1M707.8 328.5h1.3M709.9 328.5h.8M707.3 330h2.6M687.3 331.5h2M691.1 331.5h1.3M693.2 331.5h2M696 331.5h3.5M701.3 331.5h2.6M704.7 331.5h3.5M709 331.5h2.6M710.3 332.9h2.3M690.3 334.4h3.5M700.6 334.4h2M703.4 334.4h2M708.2 334.4h1.3M710.3 334.4h2.6M703.2 335.9h2M691.2 337.3h1.3M694.3 337.3h2M697.1 337.3h1M699.9 337.3h2.6M703.3 337.3h1M705.1 337.3h1.3M708.2 337.3h2.6M712.6 337.3h1M695.2 340.3h1M698 340.3h2M702.8 340.3h1.3M705.9 340.3h1M709.7 340.3h3.5M715 340.3h.5M710.3 341.8h2M696.4 343.2h2M699.2 343.2h2.6M704.6 343.2h3.5M708.9 343.2h2.6M713.3 343.2h1.3M697.6 346.2h1M701.4 346.2h2.6M705.8 346.2h2M708.6 346.2h1M710.4 346.2h2.6M713.8 346.2h1.9M699.8 349.1h1.3M702.9 349.1h2.6M706.3 349.1h1.3M708.4 349.1h3.5M712.7 349.1h2.6M705.9 350.6h2M702 352h1.3M704.1 352h2.6M708.5 352h2M712.3 352h3.5M704.2 353.5h2.6M702.3 355h2.6M705.7 355h3.5M710 355h2M712.8 355h3.4M715.4 356.4h.8M703.6 357.9h3.5M707.9 357.9h2.6M711.3 357.9h1M714.1 357.9h1M703.7 359.4h1.3M703.9 360.9h1.3M706 360.9h2.6M709.4 360.9h2M712.2 360.9h2M705.8 363.8h3.5M710.1 363.8h2.6M713.5 363.8h2.6M708.7 366.7h1.3M710.8 366.7h1M712.6 366.7h1M741.1 384.4h1.1M729.8 378.5h1.1M741.4 369.7h1.1M725.5 366.7h1.1M734.5 360.9h1.1M728 372.6h1.1M730.8 378.5h1.1M736 366.7h1.1M730.6 369.7h1.1M738.5 372.6h1.1M728 363.8h1.1M738.9 375.6h1.1M742.1 363.8h1.1M728.8 369.7h1.1M740.7 372.6h1.1M735.6 369.7h1.1M736.3 387.3h1.1M732.4 372.6h1.1M737.6 372.6h1.1M744.2 369.7h1.1M727.9 378.5h1.1M735.1 369.7h1.1M738 375.6h1.1M745.5 372.6h1.1M728.3 378.5h1.1M735.6 369.7h1.1M738.1 375.6h1.1M743.5 372.6h1.1M742.4 369.7h1.1M728.1 366.7h1.1M733.8 363.8h1.1M730.6 375.6h1.1M731.8 369.7h1.1M732.4 381.4h1.1M750.7 378h1.1M755 381h1.1M759.7 390.5h1.1M759 390h1.1M762 390h1.1M761 393h1.1M761 396h1.1M764.5 396h1.1M763 399h1.1M766 402h1.1M782 408h1.1M782 411h1.1M812 393.3h1.1M195.4 163.4h1.1M195.4 166.6h1.1M204.8 166.6h1.1M204.8 169.4h1.1M199.4 184.6h1.1M201.5 184.6h1.1M204 184.6h1.1M199.4 187.4h1.1M191.5 187.2h1.1M227.5 172.5h1.1M222 172.5h1.1M230 166.6h1.1M230 169.4h1.1M237 169.4h1.1M230 167.5h1.1M236.5 169.5h1.1M247 149h1.1M249 155h1.1M249 161h1.1M265 146h1.1M265 149h1.1M265 152h1.1M265 155h1.1M269 146h1.1M272 155h1.1M275 155h1.1M270 158h1.1M279 146h1.1M279 152h1.1M280 149h1.1M282 149h1.1M279 158h1.1M288 146h1.1M288 141h1.1M290 143h1.1M290 146h1.1M296 132h1.1M296 137h1.1M296 140h1.1M296 143h1.1M291.9 146.2h1.2M291.9 137.4h1.2M291.3 125.7h1.2M291.9 140.4h1.2M291.9 131.5h1.2M291.3 128.6h1.2M291.3 128.6h1.2M291.9 128.6h1.2M291.9 140.4h1.2M291.3 137.4h1.2M293.6 134.5h1.2M293.6 137.4h1.2M303.3 131.5h1.2M303.3 134.5h1.2M303.3 122.7h1.2M303.3 116.8h1.2M303.3 113.9h1.2M303.3 140.4h1.2M303.3 128.6h1.2M304.8 140.4h1.2M304.8 122.7h1.2M303.3 125.7h1.2M303.3 143.3h1.2M304.8 140.4h1.2M303.3 113.9h1.2M303.3 116.8h1.2M316.1 163.9h1.2M316.1 172.7h1.2M313 172.7h1.2M314.2 184.5h1.2M315.5 163.9h1.2M313 178.6h1.2M314.2 184.5h1.2M316.1 178.6h1.2M314.2 184.5h1.2M314.2 163.9h1.2M313 166.8h1.2M315.5 166.8h1.2M315.5 169.8h1.2M314.2 178.6h1.2M315.5 160.9h1.2M314.2 181.5h1.2M314.2 169.8h1.2M314.2 184.5h1.2M313 166.8h1.2M315.5 184.5h1.2M314.2 181.5h1.2M315.5 166.8h1.2M314.2 175.6h1.2M313 181.5h1.2M314.2 175.6h1.2M314.2 178.6h1.2M323.3 184.5h1.2M329.7 172.7h1.2M329.7 184.5h1.2M329 172.7h1.2M329.7 187.4h1.2M330.4 169.8h1.2M330.9 196.2h1.2M330.9 175.6h1.2M330.4 172.7h1.2M330.4 172.7h1.2M330.9 184.5h1.2M330.9 193.3h1.2M322.5 187.4h1.2M329.7 187.4h1.2M323.3 190.3h1.2M330.9 175.6h1.2M330.4 187.4h1.2M329.7 196.2h1.2M329 196.2h1.2M323.3 199.2h1.2M322.5 199.2h1.2M330.4 169.8h1.2M322.5 172.7h1.2M330.4 199.2h1.2M322.5 175.6h1.2M329 172.7h1.2M347 196.2h1.2M342.2 175.6h1.2M342.2 199.2h1.2M341.5 175.6h1.2M337.5 199.2h1.2M349.7 175.6h1.2M342.2 199.2h1.2M337.5 193.3h1.2M348.5 202.1h1.2M341.5 175.6h1.2M348.5 196.2h1.2M337.5 202.1h1.2M342.2 199.2h1.2M341.5 175.6h1.2M348.5 202.1h1.2M337.5 184.5h1.2" stroke="#00f" stroke-width=".95" stroke-opacity=".78" fill="none"/>
<path d="M252.4 145.6l4.1 7.2h-8.2zM284.2 137.6l4.1 7.2h-8.2zM295.3 122.1l4.1 7.2h-8.2zM305.6 130.7l4.1 7.2h-8.2zM306.2 146l4.1 7.2h-8.2zM313.4 148.2l4.1 7.2h-8.2zM325.4 177.1l4.1 7.2h-8.2zM329.8 181.7l4.1 7.2h-8.2zM338.4 186.8l4.1 7.2h-8.2zM344.2 184.2l4.1 7.2h-8.2zM349.3 184.9l4.1 7.2h-8.2zM353.7 189.5l4.1 7.2h-8.2zM358.8 172.2l4.1 7.2h-8.2zM365.3 170l4.1 7.2h-8.2zM371 177.2l4.1 7.2h-8.2zM380.5 184.4l4.1 7.2h-8.2zM385.5 156.4l4.1 7.2h-8.2zM390 154.1l4.1 7.2h-8.2zM393.5 164.2l4.1 7.2h-8.2zM396.4 168.6l4.1 7.2h-8.2zM400.7 177.2l4.1 7.2h-8.2zM405 170.7l4.1 7.2h-8.2zM408 173.6l4.1 7.2h-8.2zM412.3 175.8l4.1 7.2h-8.2zM425.3 159.9l4.1 7.2h-8.2zM428.2 157l4.1 7.2h-8.2zM432.5 157l4.1 7.2h-8.2zM426.7 167.1l4.1 7.2h-8.2zM432.5 168.6l4.1 7.2h-8.2zM436.1 171.4l4.1 7.2h-8.2zM442.6 167.1l4.1 7.2h-8.2zM447 163.4l4.1 7.2h-8.2zM449.9 177.2l4.1 7.2h-8.2zM452.8 180.1l4.1 7.2h-8.2zM455.7 181.6l4.1 7.2h-8.2zM391.6 156.4l4.1 7.2h-8.2zM413.9 172.8l4.1 7.2h-8.2zM425.4 157.1l4.1 7.2h-8.2zM462.7 172.8l4.1 7.2h-8.2zM466.9 174.6l4.1 7.2h-8.2zM469.3 177l4.1 7.2h-8.2zM476.6 197.5l4.1 7.2h-8.2zM481.4 198.7l4.1 7.2h-8.2zM485.5 198.7l4.1 7.2h-8.2zM468.8 179.8l4.1 7.2h-8.2zM486 181.2l4.1 7.2h-8.2zM494 180.4l4.1 7.2h-8.2zM484.7 187l4.1 7.2h-8.2zM490.5 189.2l4.1 7.2h-8.2zM500.6 192.1l4.1 7.2h-8.2zM508.6 190.6l4.1 7.2h-8.2zM513.6 194.2l4.1 7.2h-8.2zM518 187.7l4.1 7.2h-8.2zM521.6 187l4.1 7.2h-8.2zM505 200l4.1 7.2h-8.2zM513.6 198.6l4.1 7.2h-8.2zM524.5 198.6l4.1 7.2h-8.2zM527.3 205.8l4.1 7.2h-8.2zM535.3 211.6l4.1 7.2h-8.2zM542.5 202.9l4.1 7.2h-8.2zM544 208.7l4.1 7.2h-8.2zM546.9 211.6l4.1 7.2h-8.2zM544 218.8l4.1 7.2h-8.2zM546.9 220.3l4.1 7.2h-8.2zM530.2 223.1l4.1 7.2h-8.2zM554.1 221.7l4.1 7.2h-8.2zM548.3 228.9l4.1 7.2h-8.2zM558.4 231.8l4.1 7.2h-8.2zM562.8 236.2l4.1 7.2h-8.2zM513 200.9l4.1 7.2h-8.2zM541.3 206.8l4.1 7.2h-8.2zM532.9 216l4.1 7.2h-8.2zM547.2 216.4l4.1 7.2h-8.2zM552.3 220.2l4.1 7.2h-8.2zM541 210.1l4.1 7.2h-8.2zM544.7 213l4.1 7.2h-8.2zM544.7 221.7l4.1 7.2h-8.2zM556.3 239.8l4.1 7.2h-8.2zM562.2 232.7l4.1 7.2h-8.2zM622.2 287.6l4.1 7.2h-8.2zM630.8 291.9l4.1 7.2h-8.2zM633.7 297.7l4.1 7.2h-8.2zM636.6 297.7l4.1 7.2h-8.2zM641.7 304.2l4.1 7.2h-8.2zM648.7 310.1l4.1 7.2h-8.2zM652.9 312.7l4.1 7.2h-8.2zM659.6 313.8l4.1 7.2h-8.2zM664.7 319.4l4.1 7.2h-8.2zM664.7 321.9l4.1 7.2h-8.2zM665.5 324.4l4.1 7.2h-8.2zM701 358.2l4.1 7.2h-8.2zM702.6 359.9l4.1 7.2h-8.2zM712.8 362.4l4.1 7.2h-8.2z" fill="none" stroke="#00f" stroke-width="1.1"/>
<polyline points="310.6,141 313.5,135.5 318,132.2 322.3,133.2 325.3,137.5 327.1,146.5 328.3,156.1 330.1,165.8 332.5,169.4 336.1,165.5 339.8,166.4 343.4,167 348.2,166 351.8,168.2 356.6,170.6 360.2,173 362,165.8 363.3,156.1 365.1,144.1 367.5,138.1 372.3,136.9 375.3,139.3 377.1,150.1 378.3,162.2 380.1,174.2 383.1,182.7 386.7,187.5 394,190.5 400,190.3 409,192 413.5,192" fill="none" stroke="#0f0" stroke-width="5.8" stroke-linejoin="round" stroke-linecap="round"/>
<polyline points="415.5,152 416.5,160 417.5,168 419,176" fill="none" stroke="#0f0" stroke-width="7" stroke-linejoin="round" stroke-linecap="round"/>
<path d="M308.3 140.1l.8 2.2l2.3 .1l-1.8 1.4l.6 2.2l-1.9 -1.3l-1.9 1.3l.6 -2.2l-1.8 -1.4l2.3 -.1zM309.1 135.3l.8 2.2l2.3 .1l-1.8 1.4l.6 2.2l-1.9 -1.3l-1.9 1.3l.6 -2.2l-1.8 -1.4l2.3 -.1zM311.3 136.4l.8 2.2l2.3 .1l-1.8 1.4l.6 2.2l-1.9 -1.3l-1.9 1.3l.6 -2.2l-1.8 -1.4l2.3 -.1zM312.6 134.8l.8 2.2l2.3 .1l-1.8 1.4l.6 2.2l-1.9 -1.3l-1.9 1.3l.6 -2.2l-1.8 -1.4l2.3 -.1zM309.9 136.6l.8 2.2l2.3 .1l-1.8 1.4l.6 2.2l-1.9 -1.3l-1.9 1.3l.6 -2.2l-1.8 -1.4l2.3 -.1zM316.2 133.2l.8 2.2l2.3 .1l-1.8 1.4l.6 2.2l-1.9 -1.3l-1.9 1.3l.6 -2.2l-1.8 -1.4l2.3 -.1zM313.7 134.5l.8 2.2l2.3 .1l-1.8 1.4l.6 2.2l-1.9 -1.3l-1.9 1.3l.6 -2.2l-1.8 -1.4l2.3 -.1zM312.3 130.2l.8 2.2l2.3 .1l-1.8 1.4l.6 2.2l-1.9 -1.3l-1.9 1.3l.6 -2.2l-1.8 -1.4l2.3 -.1zM315.6 130.7l.8 2.2l2.3 .1l-1.8 1.4l.6 2.2l-1.9 -1.3l-1.9 1.3l.6 -2.2l-1.8 -1.4l2.3 -.1zM312.5 129.4l.8 2.2l2.3 .1l-1.8 1.4l.6 2.2l-1.9 -1.3l-1.9 1.3l.6 -2.2l-1.8 -1.4l2.3 -.1zM317.1 130.2l.8 2.2l2.3 .1l-1.8 1.4l.6 2.2l-1.9 -1.3l-1.9 1.3l.6 -2.2l-1.8 -1.4l2.3 -.1zM318.6 127.2l.8 2.2l2.3 .1l-1.8 1.4l.6 2.2l-1.9 -1.3l-1.9 1.3l.6 -2.2l-1.8 -1.4l2.3 -.1zM316.6 131.2l.8 2.2l2.3 .1l-1.8 1.4l.6 2.2l-1.9 -1.3l-1.9 1.3l.6 -2.2l-1.8 -1.4l2.3 -.1zM322.7 130.8l.8 2.2l2.3 .1l-1.8 1.4l.6 2.2l-1.9 -1.3l-1.9 1.3l.6 -2.2l-1.8 -1.4l2.3 -.1zM319.4 128.3l.8 2.2l2.3 .1l-1.8 1.4l.6 2.2l-1.9 -1.3l-1.9 1.3l.6 -2.2l-1.8 -1.4l2.3 -.1zM321.3 130.5l.8 2.2l2.3 .1l-1.8 1.4l.6 2.2l-1.9 -1.3l-1.9 1.3l.6 -2.2l-1.8 -1.4l2.3 -.1zM322.1 127.7l.8 2.2l2.3 .1l-1.8 1.4l.6 2.2l-1.9 -1.3l-1.9 1.3l.6 -2.2l-1.8 -1.4l2.3 -.1zM321.4 129.8l.8 2.2l2.3 .1l-1.8 1.4l.6 2.2l-1.9 -1.3l-1.9 1.3l.6 -2.2l-1.8 -1.4l2.3 -.1zM324.6 132.7l.8 2.2l2.3 .1l-1.8 1.4l.6 2.2l-1.9 -1.3l-1.9 1.3l.6 -2.2l-1.8 -1.4l2.3 -.1zM323.8 132.6l.8 2.2l2.3 .1l-1.8 1.4l.6 2.2l-1.9 -1.3l-1.9 1.3l.6 -2.2l-1.8 -1.4l2.3 -.1zM324.8 134.5l.8 2.2l2.3 .1l-1.8 1.4l.6 2.2l-1.9 -1.3l-1.9 1.3l.6 -2.2l-1.8 -1.4l2.3 -.1zM324.4 132.1l.8 2.2l2.3 .1l-1.8 1.4l.6 2.2l-1.9 -1.3l-1.9 1.3l.6 -2.2l-1.8 -1.4l2.3 -.1zM326.4 135.4l.8 2.2l2.3 .1l-1.8 1.4l.6 2.2l-1.9 -1.3l-1.9 1.3l.6 -2.2l-1.8 -1.4l2.3 -.1zM326.6 137.1l.8 2.2l2.3 .1l-1.8 1.4l.6 2.2l-1.9 -1.3l-1.9 1.3l.6 -2.2l-1.8 -1.4l2.3 -.1zM324.9 135.2l.8 2.2l2.3 .1l-1.8 1.4l.6 2.2l-1.9 -1.3l-1.9 1.3l.6 -2.2l-1.8 -1.4l2.3 -.1zM324.6 137.4l.8 2.2l2.3 .1l-1.8 1.4l.6 2.2l-1.9 -1.3l-1.9 1.3l.6 -2.2l-1.8 -1.4l2.3 -.1zM328.8 137.4l.8 2.2l2.3 .1l-1.8 1.4l.6 2.2l-1.9 -1.3l-1.9 1.3l.6 -2.2l-1.8 -1.4l2.3 -.1zM327.7 139.9l.8 2.2l2.3 .1l-1.8 1.4l.6 2.2l-1.9 -1.3l-1.9 1.3l.6 -2.2l-1.8 -1.4l2.3 -.1zM326.8 141.1l.8 2.2l2.3 .1l-1.8 1.4l.6 2.2l-1.9 -1.3l-1.9 1.3l.6 -2.2l-1.8 -1.4l2.3 -.1zM326.5 142.1l.8 2.2l2.3 .1l-1.8 1.4l.6 2.2l-1.9 -1.3l-1.9 1.3l.6 -2.2l-1.8 -1.4l2.3 -.1zM328.3 139.8l.8 2.2l2.3 .1l-1.8 1.4l.6 2.2l-1.9 -1.3l-1.9 1.3l.6 -2.2l-1.8 -1.4l2.3 -.1zM326 144.4l.8 2.2l2.3 .1l-1.8 1.4l.6 2.2l-1.9 -1.3l-1.9 1.3l.6 -2.2l-1.8 -1.4l2.3 -.1zM325.7 142.6l.8 2.2l2.3 .1l-1.8 1.4l.6 2.2l-1.9 -1.3l-1.9 1.3l.6 -2.2l-1.8 -1.4l2.3 -.1zM327.9 145l.8 2.2l2.3 .1l-1.8 1.4l.6 2.2l-1.9 -1.3l-1.9 1.3l.6 -2.2l-1.8 -1.4l2.3 -.1zM329.8 148.2l.8 2.2l2.3 .1l-1.8 1.4l.6 2.2l-1.9 -1.3l-1.9 1.3l.6 -2.2l-1.8 -1.4l2.3 -.1zM329.1 148.2l.8 2.2l2.3 .1l-1.8 1.4l.6 2.2l-1.9 -1.3l-1.9 1.3l.6 -2.2l-1.8 -1.4l2.3 -.1zM327.3 146.2l.8 2.2l2.3 .1l-1.8 1.4l.6 2.2l-1.9 -1.3l-1.9 1.3l.6 -2.2l-1.8 -1.4l2.3 -.1zM328.4 150.5l.8 2.2l2.3 .1l-1.8 1.4l.6 2.2l-1.9 -1.3l-1.9 1.3l.6 -2.2l-1.8 -1.4l2.3 -.1zM326.4 149.6l.8 2.2l2.3 .1l-1.8 1.4l.6 2.2l-1.9 -1.3l-1.9 1.3l.6 -2.2l-1.8 -1.4l2.3 -.1zM327.4 152l.8 2.2l2.3 .1l-1.8 1.4l.6 2.2l-1.9 -1.3l-1.9 1.3l.6 -2.2l-1.8 -1.4l2.3 -.1zM328.5 152.5l.8 2.2l2.3 .1l-1.8 1.4l.6 2.2l-1.9 -1.3l-1.9 1.3l.6 -2.2l-1.8 -1.4l2.3 -.1zM329.8 154.1l.8 2.2l2.3 .1l-1.8 1.4l.6 2.2l-1.9 -1.3l-1.9 1.3l.6 -2.2l-1.8 -1.4l2.3 -.1zM332 153l.8 2.2l2.3 .1l-1.8 1.4l.6 2.2l-1.9 -1.3l-1.9 1.3l.6 -2.2l-1.8 -1.4l2.3 -.1zM329.5 152.5l.8 2.2l2.3 .1l-1.8 1.4l.6 2.2l-1.9 -1.3l-1.9 1.3l.6 -2.2l-1.8 -1.4l2.3 -.1zM329 154.9l.8 2.2l2.3 .1l-1.8 1.4l.6 2.2l-1.9 -1.3l-1.9 1.3l.6 -2.2l-1.8 -1.4l2.3 -.1zM327.7 155.6l.8 2.2l2.3 .1l-1.8 1.4l.6 2.2l-1.9 -1.3l-1.9 1.3l.6 -2.2l-1.8 -1.4l2.3 -.1zM329.4 159.5l.8 2.2l2.3 .1l-1.8 1.4l.6 2.2l-1.9 -1.3l-1.9 1.3l.6 -2.2l-1.8 -1.4l2.3 -.1zM329.2 159l.8 2.2l2.3 .1l-1.8 1.4l.6 2.2l-1.9 -1.3l-1.9 1.3l.6 -2.2l-1.8 -1.4l2.3 -.1zM331.3 156.9l.8 2.2l2.3 .1l-1.8 1.4l.6 2.2l-1.9 -1.3l-1.9 1.3l.6 -2.2l-1.8 -1.4l2.3 -.1zM330.9 161.3l.8 2.2l2.3 .1l-1.8 1.4l.6 2.2l-1.9 -1.3l-1.9 1.3l.6 -2.2l-1.8 -1.4l2.3 -.1zM328.4 159.7l.8 2.2l2.3 .1l-1.8 1.4l.6 2.2l-1.9 -1.3l-1.9 1.3l.6 -2.2l-1.8 -1.4l2.3 -.1zM328.9 160.9l.8 2.2l2.3 .1l-1.8 1.4l.6 2.2l-1.9 -1.3l-1.9 1.3l.6 -2.2l-1.8 -1.4l2.3 -.1zM331.1 161.8l.8 2.2l2.3 .1l-1.8 1.4l.6 2.2l-1.9 -1.3l-1.9 1.3l.6 -2.2l-1.8 -1.4l2.3 -.1zM328.9 164.1l.8 2.2l2.3 .1l-1.8 1.4l.6 2.2l-1.9 -1.3l-1.9 1.3l.6 -2.2l-1.8 -1.4l2.3 -.1zM329.5 162.9l.8 2.2l2.3 .1l-1.8 1.4l.6 2.2l-1.9 -1.3l-1.9 1.3l.6 -2.2l-1.8 -1.4l2.3 -.1zM331.8 167.2l.8 2.2l2.3 .1l-1.8 1.4l.6 2.2l-1.9 -1.3l-1.9 1.3l.6 -2.2l-1.8 -1.4l2.3 -.1zM332.6 165.4l.8 2.2l2.3 .1l-1.8 1.4l.6 2.2l-1.9 -1.3l-1.9 1.3l.6 -2.2l-1.8 -1.4l2.3 -.1zM333.9 164.9l.8 2.2l2.3 .1l-1.8 1.4l.6 2.2l-1.9 -1.3l-1.9 1.3l.6 -2.2l-1.8 -1.4l2.3 -.1zM335 164.5l.8 2.2l2.3 .1l-1.8 1.4l.6 2.2l-1.9 -1.3l-1.9 1.3l.6 -2.2l-1.8 -1.4l2.3 -.1zM336 162.2l.8 2.2l2.3 .1l-1.8 1.4l.6 2.2l-1.9 -1.3l-1.9 1.3l.6 -2.2l-1.8 -1.4l2.3 -.1zM333.3 161.4l.8 2.2l2.3 .1l-1.8 1.4l.6 2.2l-1.9 -1.3l-1.9 1.3l.6 -2.2l-1.8 -1.4l2.3 -.1zM337.2 165.4l.8 2.2l2.3 .1l-1.8 1.4l.6 2.2l-1.9 -1.3l-1.9 1.3l.6 -2.2l-1.8 -1.4l2.3 -.1zM338.9 165.2l.8 2.2l2.3 .1l-1.8 1.4l.6 2.2l-1.9 -1.3l-1.9 1.3l.6 -2.2l-1.8 -1.4l2.3 -.1zM340.2 163.5l.8 2.2l2.3 .1l-1.8 1.4l.6 2.2l-1.9 -1.3l-1.9 1.3l.6 -2.2l-1.8 -1.4l2.3 -.1zM340.9 161.9l.8 2.2l2.3 .1l-1.8 1.4l.6 2.2l-1.9 -1.3l-1.9 1.3l.6 -2.2l-1.8 -1.4l2.3 -.1zM342 163.9l.8 2.2l2.3 .1l-1.8 1.4l.6 2.2l-1.9 -1.3l-1.9 1.3l.6 -2.2l-1.8 -1.4l2.3 -.1zM340.2 163.1l.8 2.2l2.3 .1l-1.8 1.4l.6 2.2l-1.9 -1.3l-1.9 1.3l.6 -2.2l-1.8 -1.4l2.3 -.1zM343.4 164.9l.8 2.2l2.3 .1l-1.8 1.4l.6 2.2l-1.9 -1.3l-1.9 1.3l.6 -2.2l-1.8 -1.4l2.3 -.1zM346.4 161.8l.8 2.2l2.3 .1l-1.8 1.4l.6 2.2l-1.9 -1.3l-1.9 1.3l.6 -2.2l-1.8 -1.4l2.3 -.1zM342.2 161.3l.8 2.2l2.3 .1l-1.8 1.4l.6 2.2l-1.9 -1.3l-1.9 1.3l.6 -2.2l-1.8 -1.4l2.3 -.1zM345.6 163.9l.8 2.2l2.3 .1l-1.8 1.4l.6 2.2l-1.9 -1.3l-1.9 1.3l.6 -2.2l-1.8 -1.4l2.3 -.1zM345.7 162.8l.8 2.2l2.3 .1l-1.8 1.4l.6 2.2l-1.9 -1.3l-1.9 1.3l.6 -2.2l-1.8 -1.4l2.3 -.1zM346.8 162.2l.8 2.2l2.3 .1l-1.8 1.4l.6 2.2l-1.9 -1.3l-1.9 1.3l.6 -2.2l-1.8 -1.4l2.3 -.1zM347.2 161.6l.8 2.2l2.3 .1l-1.8 1.4l.6 2.2l-1.9 -1.3l-1.9 1.3l.6 -2.2l-1.8 -1.4l2.3 -.1zM347.6 162.9l.8 2.2l2.3 .1l-1.8 1.4l.6 2.2l-1.9 -1.3l-1.9 1.3l.6 -2.2l-1.8 -1.4l2.3 -.1zM350.7 160.7l.8 2.2l2.3 .1l-1.8 1.4l.6 2.2l-1.9 -1.3l-1.9 1.3l.6 -2.2l-1.8 -1.4l2.3 -.1zM352 162.7l.8 2.2l2.3 .1l-1.8 1.4l.6 2.2l-1.9 -1.3l-1.9 1.3l.6 -2.2l-1.8 -1.4l2.3 -.1zM350.8 165.1l.8 2.2l2.3 .1l-1.8 1.4l.6 2.2l-1.9 -1.3l-1.9 1.3l.6 -2.2l-1.8 -1.4l2.3 -.1zM352.8 164.7l.8 2.2l2.3 .1l-1.8 1.4l.6 2.2l-1.9 -1.3l-1.9 1.3l.6 -2.2l-1.8 -1.4l2.3 -.1zM354 166l.8 2.2l2.3 .1l-1.8 1.4l.6 2.2l-1.9 -1.3l-1.9 1.3l.6 -2.2l-1.8 -1.4l2.3 -.1zM355.2 168.5l.8 2.2l2.3 .1l-1.8 1.4l.6 2.2l-1.9 -1.3l-1.9 1.3l.6 -2.2l-1.8 -1.4l2.3 -.1zM355.5 167l.8 2.2l2.3 .1l-1.8 1.4l.6 2.2l-1.9 -1.3l-1.9 1.3l.6 -2.2l-1.8 -1.4l2.3 -.1zM358.6 167l.8 2.2l2.3 .1l-1.8 1.4l.6 2.2l-1.9 -1.3l-1.9 1.3l.6 -2.2l-1.8 -1.4l2.3 -.1zM356 164.9l.8 2.2l2.3 .1l-1.8 1.4l.6 2.2l-1.9 -1.3l-1.9 1.3l.6 -2.2l-1.8 -1.4l2.3 -.1zM359.1 169.3l.8 2.2l2.3 .1l-1.8 1.4l.6 2.2l-1.9 -1.3l-1.9 1.3l.6 -2.2l-1.8 -1.4l2.3 -.1zM358.4 168l.8 2.2l2.3 .1l-1.8 1.4l.6 2.2l-1.9 -1.3l-1.9 1.3l.6 -2.2l-1.8 -1.4l2.3 -.1zM361.3 164.9l.8 2.2l2.3 .1l-1.8 1.4l.6 2.2l-1.9 -1.3l-1.9 1.3l.6 -2.2l-1.8 -1.4l2.3 -.1zM362 169.4l.8 2.2l2.3 .1l-1.8 1.4l.6 2.2l-1.9 -1.3l-1.9 1.3l.6 -2.2l-1.8 -1.4l2.3 -.1zM356.7 166.1l.8 2.2l2.3 .1l-1.8 1.4l.6 2.2l-1.9 -1.3l-1.9 1.3l.6 -2.2l-1.8 -1.4l2.3 -.1zM361.7 167l.8 2.2l2.3 .1l-1.8 1.4l.6 2.2l-1.9 -1.3l-1.9 1.3l.6 -2.2l-1.8 -1.4l2.3 -.1zM361.3 167.4l.8 2.2l2.3 .1l-1.8 1.4l.6 2.2l-1.9 -1.3l-1.9 1.3l.6 -2.2l-1.8 -1.4l2.3 -.1zM360.3 166l.8 2.2l2.3 .1l-1.8 1.4l.6 2.2l-1.9 -1.3l-1.9 1.3l.6 -2.2l-1.8 -1.4l2.3 -.1zM362 166l.8 2.2l2.3 .1l-1.8 1.4l.6 2.2l-1.9 -1.3l-1.9 1.3l.6 -2.2l-1.8 -1.4l2.3 -.1zM362.2 164.3l.8 2.2l2.3 .1l-1.8 1.4l.6 2.2l-1.9 -1.3l-1.9 1.3l.6 -2.2l-1.8 -1.4l2.3 -.1zM360.7 161.1l.8 2.2l2.3 .1l-1.8 1.4l.6 2.2l-1.9 -1.3l-1.9 1.3l.6 -2.2l-1.8 -1.4l2.3 -.1zM361.7 161l.8 2.2l2.3 .1l-1.8 1.4l.6 2.2l-1.9 -1.3l-1.9 1.3l.6 -2.2l-1.8 -1.4l2.3 -.1zM360.5 161.1l.8 2.2l2.3 .1l-1.8 1.4l.6 2.2l-1.9 -1.3l-1.9 1.3l.6 -2.2l-1.8 -1.4l2.3 -.1zM362 158.7l.8 2.2l2.3 .1l-1.8 1.4l.6 2.2l-1.9 -1.3l-1.9 1.3l.6 -2.2l-1.8 -1.4l2.3 -.1zM360.7 159.4l.8 2.2l2.3 .1l-1.8 1.4l.6 2.2l-1.9 -1.3l-1.9 1.3l.6 -2.2l-1.8 -1.4l2.3 -.1zM365.3 157.5l.8 2.2l2.3 .1l-1.8 1.4l.6 2.2l-1.9 -1.3l-1.9 1.3l.6 -2.2l-1.8 -1.4l2.3 -.1zM362.8 157.8l.8 2.2l2.3 .1l-1.8 1.4l.6 2.2l-1.9 -1.3l-1.9 1.3l.6 -2.2l-1.8 -1.4l2.3 -.1zM361.8 157.8l.8 2.2l2.3 .1l-1.8 1.4l.6 2.2l-1.9 -1.3l-1.9 1.3l.6 -2.2l-1.8 -1.4l2.3 -.1zM361.7 155.1l.8 2.2l2.3 .1l-1.8 1.4l.6 2.2l-1.9 -1.3l-1.9 1.3l.6 -2.2l-1.8 -1.4l2.3 -.1zM363 152.9l.8 2.2l2.3 .1l-1.8 1.4l.6 2.2l-1.9 -1.3l-1.9 1.3l.6 -2.2l-1.8 -1.4l2.3 -.1zM364.4 154.5l.8 2.2l2.3 .1l-1.8 1.4l.6 2.2l-1.9 -1.3l-1.9 1.3l.6 -2.2l-1.8 -1.4l2.3 -.1zM362.3 151.7l.8 2.2l2.3 .1l-1.8 1.4l.6 2.2l-1.9 -1.3l-1.9 1.3l.6 -2.2l-1.8 -1.4l2.3 -.1zM363.9 152.6l.8 2.2l2.3 .1l-1.8 1.4l.6 2.2l-1.9 -1.3l-1.9 1.3l.6 -2.2l-1.8 -1.4l2.3 -.1zM366.2 152.6l.8 2.2l2.3 .1l-1.8 1.4l.6 2.2l-1.9 -1.3l-1.9 1.3l.6 -2.2l-1.8 -1.4l2.3 -.1zM363.5 148l.8 2.2l2.3 .1l-1.8 1.4l.6 2.2l-1.9 -1.3l-1.9 1.3l.6 -2.2l-1.8 -1.4l2.3 -.1zM365.3 149.5l.8 2.2l2.3 .1l-1.8 1.4l.6 2.2l-1.9 -1.3l-1.9 1.3l.6 -2.2l-1.8 -1.4l2.3 -.1zM361.4 149.6l.8 2.2l2.3 .1l-1.8 1.4l.6 2.2l-1.9 -1.3l-1.9 1.3l.6 -2.2l-1.8 -1.4l2.3 -.1zM362.7 146.2l.8 2.2l2.3 .1l-1.8 1.4l.6 2.2l-1.9 -1.3l-1.9 1.3l.6 -2.2l-1.8 -1.4l2.3 -.1zM362.6 143.6l.8 2.2l2.3 .1l-1.8 1.4l.6 2.2l-1.9 -1.3l-1.9 1.3l.6 -2.2l-1.8 -1.4l2.3 -.1zM364.8 144.7l.8 2.2l2.3 .1l-1.8 1.4l.6 2.2l-1.9 -1.3l-1.9 1.3l.6 -2.2l-1.8 -1.4l2.3 -.1zM364.2 146.3l.8 2.2l2.3 .1l-1.8 1.4l.6 2.2l-1.9 -1.3l-1.9 1.3l.6 -2.2l-1.8 -1.4l2.3 -.1zM364.8 140l.8 2.2l2.3 .1l-1.8 1.4l.6 2.2l-1.9 -1.3l-1.9 1.3l.6 -2.2l-1.8 -1.4l2.3 -.1zM366.3 142.1l.8 2.2l2.3 .1l-1.8 1.4l.6 2.2l-1.9 -1.3l-1.9 1.3l.6 -2.2l-1.8 -1.4l2.3 -.1zM363.3 144.5l.8 2.2l2.3 .1l-1.8 1.4l.6 2.2l-1.9 -1.3l-1.9 1.3l.6 -2.2l-1.8 -1.4l2.3 -.1zM364.2 141.6l.8 2.2l2.3 .1l-1.8 1.4l.6 2.2l-1.9 -1.3l-1.9 1.3l.6 -2.2l-1.8 -1.4l2.3 -.1zM368.9 141l.8 2.2l2.3 .1l-1.8 1.4l.6 2.2l-1.9 -1.3l-1.9 1.3l.6 -2.2l-1.8 -1.4l2.3 -.1zM365.4 137.2l.8 2.2l2.3 .1l-1.8 1.4l.6 2.2l-1.9 -1.3l-1.9 1.3l.6 -2.2l-1.8 -1.4l2.3 -.1zM366.6 140.1l.8 2.2l2.3 .1l-1.8 1.4l.6 2.2l-1.9 -1.3l-1.9 1.3l.6 -2.2l-1.8 -1.4l2.3 -.1zM364.4 135.7l.8 2.2l2.3 .1l-1.8 1.4l.6 2.2l-1.9 -1.3l-1.9 1.3l.6 -2.2l-1.8 -1.4l2.3 -.1zM366.2 136l.8 2.2l2.3 .1l-1.8 1.4l.6 2.2l-1.9 -1.3l-1.9 1.3l.6 -2.2l-1.8 -1.4l2.3 -.1zM364.4 137.5l.8 2.2l2.3 .1l-1.8 1.4l.6 2.2l-1.9 -1.3l-1.9 1.3l.6 -2.2l-1.8 -1.4l2.3 -.1zM367.6 135.5l.8 2.2l2.3 .1l-1.8 1.4l.6 2.2l-1.9 -1.3l-1.9 1.3l.6 -2.2l-1.8 -1.4l2.3 -.1zM370.3 134.8l.8 2.2l2.3 .1l-1.8 1.4l.6 2.2l-1.9 -1.3l-1.9 1.3l.6 -2.2l-1.8 -1.4l2.3 -.1zM369.6 135.2l.8 2.2l2.3 .1l-1.8 1.4l.6 2.2l-1.9 -1.3l-1.9 1.3l.6 -2.2l-1.8 -1.4l2.3 -.1zM373.4 134.2l.8 2.2l2.3 .1l-1.8 1.4l.6 2.2l-1.9 -1.3l-1.9 1.3l.6 -2.2l-1.8 -1.4l2.3 -.1zM369.2 133.5l.8 2.2l2.3 .1l-1.8 1.4l.6 2.2l-1.9 -1.3l-1.9 1.3l.6 -2.2l-1.8 -1.4l2.3 -.1zM373.8 135.7l.8 2.2l2.3 .1l-1.8 1.4l.6 2.2l-1.9 -1.3l-1.9 1.3l.6 -2.2l-1.8 -1.4l2.3 -.1zM372.7 136.9l.8 2.2l2.3 .1l-1.8 1.4l.6 2.2l-1.9 -1.3l-1.9 1.3l.6 -2.2l-1.8 -1.4l2.3 -.1zM375.4 135.6l.8 2.2l2.3 .1l-1.8 1.4l.6 2.2l-1.9 -1.3l-1.9 1.3l.6 -2.2l-1.8 -1.4l2.3 -.1zM374.1 134.6l.8 2.2l2.3 .1l-1.8 1.4l.6 2.2l-1.9 -1.3l-1.9 1.3l.6 -2.2l-1.8 -1.4l2.3 -.1zM377.4 138.2l.8 2.2l2.3 .1l-1.8 1.4l.6 2.2l-1.9 -1.3l-1.9 1.3l.6 -2.2l-1.8 -1.4l2.3 -.1zM376.6 139.2l.8 2.2l2.3 .1l-1.8 1.4l.6 2.2l-1.9 -1.3l-1.9 1.3l.6 -2.2l-1.8 -1.4l2.3 -.1zM376.3 137.4l.8 2.2l2.3 .1l-1.8 1.4l.6 2.2l-1.9 -1.3l-1.9 1.3l.6 -2.2l-1.8 -1.4l2.3 -.1zM379.1 140.6l.8 2.2l2.3 .1l-1.8 1.4l.6 2.2l-1.9 -1.3l-1.9 1.3l.6 -2.2l-1.8 -1.4l2.3 -.1zM375.7 141.9l.8 2.2l2.3 .1l-1.8 1.4l.6 2.2l-1.9 -1.3l-1.9 1.3l.6 -2.2l-1.8 -1.4l2.3 -.1zM373.5 140.8l.8 2.2l2.3 .1l-1.8 1.4l.6 2.2l-1.9 -1.3l-1.9 1.3l.6 -2.2l-1.8 -1.4l2.3 -.1zM375 140l.8 2.2l2.3 .1l-1.8 1.4l.6 2.2l-1.9 -1.3l-1.9 1.3l.6 -2.2l-1.8 -1.4l2.3 -.1zM372.6 142.4l.8 2.2l2.3 .1l-1.8 1.4l.6 2.2l-1.9 -1.3l-1.9 1.3l.6 -2.2l-1.8 -1.4l2.3 -.1zM375.4 144.3l.8 2.2l2.3 .1l-1.8 1.4l.6 2.2l-1.9 -1.3l-1.9 1.3l.6 -2.2l-1.8 -1.4l2.3 -.1zM378.5 142.8l.8 2.2l2.3 .1l-1.8 1.4l.6 2.2l-1.9 -1.3l-1.9 1.3l.6 -2.2l-1.8 -1.4l2.3 -.1zM377.2 145.2l.8 2.2l2.3 .1l-1.8 1.4l.6 2.2l-1.9 -1.3l-1.9 1.3l.6 -2.2l-1.8 -1.4l2.3 -.1zM374.8 144.8l.8 2.2l2.3 .1l-1.8 1.4l.6 2.2l-1.9 -1.3l-1.9 1.3l.6 -2.2l-1.8 -1.4l2.3 -.1zM376.5 150.2l.8 2.2l2.3 .1l-1.8 1.4l.6 2.2l-1.9 -1.3l-1.9 1.3l.6 -2.2l-1.8 -1.4l2.3 -.1zM375.9 150.2l.8 2.2l2.3 .1l-1.8 1.4l.6 2.2l-1.9 -1.3l-1.9 1.3l.6 -2.2l-1.8 -1.4l2.3 -.1zM375.7 147.3l.8 2.2l2.3 .1l-1.8 1.4l.6 2.2l-1.9 -1.3l-1.9 1.3l.6 -2.2l-1.8 -1.4l2.3 -.1zM374.1 150.2l.8 2.2l2.3 .1l-1.8 1.4l.6 2.2l-1.9 -1.3l-1.9 1.3l.6 -2.2l-1.8 -1.4l2.3 -.1zM376.7 151.7l.8 2.2l2.3 .1l-1.8 1.4l.6 2.2l-1.9 -1.3l-1.9 1.3l.6 -2.2l-1.8 -1.4l2.3 -.1zM379.9 153.1l.8 2.2l2.3 .1l-1.8 1.4l.6 2.2l-1.9 -1.3l-1.9 1.3l.6 -2.2l-1.8 -1.4l2.3 -.1zM379.3 152.9l.8 2.2l2.3 .1l-1.8 1.4l.6 2.2l-1.9 -1.3l-1.9 1.3l.6 -2.2l-1.8 -1.4l2.3 -.1zM378.7 154.8l.8 2.2l2.3 .1l-1.8 1.4l.6 2.2l-1.9 -1.3l-1.9 1.3l.6 -2.2l-1.8 -1.4l2.3 -.1zM378.9 155.8l.8 2.2l2.3 .1l-1.8 1.4l.6 2.2l-1.9 -1.3l-1.9 1.3l.6 -2.2l-1.8 -1.4l2.3 -.1zM377.7 156.8l.8 2.2l2.3 .1l-1.8 1.4l.6 2.2l-1.9 -1.3l-1.9 1.3l.6 -2.2l-1.8 -1.4l2.3 -.1zM377.4 154.5l.8 2.2l2.3 .1l-1.8 1.4l.6 2.2l-1.9 -1.3l-1.9 1.3l.6 -2.2l-1.8 -1.4l2.3 -.1zM379.6 156.3l.8 2.2l2.3 .1l-1.8 1.4l.6 2.2l-1.9 -1.3l-1.9 1.3l.6 -2.2l-1.8 -1.4l2.3 -.1zM377.2 160.4l.8 2.2l2.3 .1l-1.8 1.4l.6 2.2l-1.9 -1.3l-1.9 1.3l.6 -2.2l-1.8 -1.4l2.3 -.1zM376.8 158.9l.8 2.2l2.3 .1l-1.8 1.4l.6 2.2l-1.9 -1.3l-1.9 1.3l.6 -2.2l-1.8 -1.4l2.3 -.1zM376.9 162.2l.8 2.2l2.3 .1l-1.8 1.4l.6 2.2l-1.9 -1.3l-1.9 1.3l.6 -2.2l-1.8 -1.4l2.3 -.1zM375 159.9l.8 2.2l2.3 .1l-1.8 1.4l.6 2.2l-1.9 -1.3l-1.9 1.3l.6 -2.2l-1.8 -1.4l2.3 -.1zM378.4 159.5l.8 2.2l2.3 .1l-1.8 1.4l.6 2.2l-1.9 -1.3l-1.9 1.3l.6 -2.2l-1.8 -1.4l2.3 -.1zM381.9 160.9l.8 2.2l2.3 .1l-1.8 1.4l.6 2.2l-1.9 -1.3l-1.9 1.3l.6 -2.2l-1.8 -1.4l2.3 -.1zM380.2 167.4l.8 2.2l2.3 .1l-1.8 1.4l.6 2.2l-1.9 -1.3l-1.9 1.3l.6 -2.2l-1.8 -1.4l2.3 -.1zM377.7 164.4l.8 2.2l2.3 .1l-1.8 1.4l.6 2.2l-1.9 -1.3l-1.9 1.3l.6 -2.2l-1.8 -1.4l2.3 -.1zM378.7 166.4l.8 2.2l2.3 .1l-1.8 1.4l.6 2.2l-1.9 -1.3l-1.9 1.3l.6 -2.2l-1.8 -1.4l2.3 -.1zM380.4 165.6l.8 2.2l2.3 .1l-1.8 1.4l.6 2.2l-1.9 -1.3l-1.9 1.3l.6 -2.2l-1.8 -1.4l2.3 -.1zM378.3 166.3l.8 2.2l2.3 .1l-1.8 1.4l.6 2.2l-1.9 -1.3l-1.9 1.3l.6 -2.2l-1.8 -1.4l2.3 -.1zM379.5 168.1l.8 2.2l2.3 .1l-1.8 1.4l.6 2.2l-1.9 -1.3l-1.9 1.3l.6 -2.2l-1.8 -1.4l2.3 -.1zM382.7 170.9l.8 2.2l2.3 .1l-1.8 1.4l.6 2.2l-1.9 -1.3l-1.9 1.3l.6 -2.2l-1.8 -1.4l2.3 -.1zM379.7 171.3l.8 2.2l2.3 .1l-1.8 1.4l.6 2.2l-1.9 -1.3l-1.9 1.3l.6 -2.2l-1.8 -1.4l2.3 -.1zM379.8 172.9l.8 2.2l2.3 .1l-1.8 1.4l.6 2.2l-1.9 -1.3l-1.9 1.3l.6 -2.2l-1.8 -1.4l2.3 -.1zM380.7 171.6l.8 2.2l2.3 .1l-1.8 1.4l.6 2.2l-1.9 -1.3l-1.9 1.3l.6 -2.2l-1.8 -1.4l2.3 -.1zM379.6 174.7l.8 2.2l2.3 .1l-1.8 1.4l.6 2.2l-1.9 -1.3l-1.9 1.3l.6 -2.2l-1.8 -1.4l2.3 -.1zM380.6 173.7l.8 2.2l2.3 .1l-1.8 1.4l.6 2.2l-1.9 -1.3l-1.9 1.3l.6 -2.2l-1.8 -1.4l2.3 -.1zM380.5 173.5l.8 2.2l2.3 .1l-1.8 1.4l.6 2.2l-1.9 -1.3l-1.9 1.3l.6 -2.2l-1.8 -1.4l2.3 -.1zM380.8 176.4l.8 2.2l2.3 .1l-1.8 1.4l.6 2.2l-1.9 -1.3l-1.9 1.3l.6 -2.2l-1.8 -1.4l2.3 -.1zM382.1 174.9l.8 2.2l2.3 .1l-1.8 1.4l.6 2.2l-1.9 -1.3l-1.9 1.3l.6 -2.2l-1.8 -1.4l2.3 -.1zM381.9 177.2l.8 2.2l2.3 .1l-1.8 1.4l.6 2.2l-1.9 -1.3l-1.9 1.3l.6 -2.2l-1.8 -1.4l2.3 -.1zM382.5 181.5l.8 2.2l2.3 .1l-1.8 1.4l.6 2.2l-1.9 -1.3l-1.9 1.3l.6 -2.2l-1.8 -1.4l2.3 -.1zM381.2 179.8l.8 2.2l2.3 .1l-1.8 1.4l.6 2.2l-1.9 -1.3l-1.9 1.3l.6 -2.2l-1.8 -1.4l2.3 -.1zM384.3 174.4l.8 2.2l2.3 .1l-1.8 1.4l.6 2.2l-1.9 -1.3l-1.9 1.3l.6 -2.2l-1.8 -1.4l2.3 -.1zM382.8 178.5l.8 2.2l2.3 .1l-1.8 1.4l.6 2.2l-1.9 -1.3l-1.9 1.3l.6 -2.2l-1.8 -1.4l2.3 -.1zM384.6 181.2l.8 2.2l2.3 .1l-1.8 1.4l.6 2.2l-1.9 -1.3l-1.9 1.3l.6 -2.2l-1.8 -1.4l2.3 -.1zM383.7 180.3l.8 2.2l2.3 .1l-1.8 1.4l.6 2.2l-1.9 -1.3l-1.9 1.3l.6 -2.2l-1.8 -1.4l2.3 -.1zM383.8 183l.8 2.2l2.3 .1l-1.8 1.4l.6 2.2l-1.9 -1.3l-1.9 1.3l.6 -2.2l-1.8 -1.4l2.3 -.1zM383.9 175l.8 2.2l2.3 .1l-1.8 1.4l.6 2.2l-1.9 -1.3l-1.9 1.3l.6 -2.2l-1.8 -1.4l2.3 -.1zM382.3 177.6l.8 2.2l2.3 .1l-1.8 1.4l.6 2.2l-1.9 -1.3l-1.9 1.3l.6 -2.2l-1.8 -1.4l2.3 -.1zM381.5 182.2l.8 2.2l2.3 .1l-1.8 1.4l.6 2.2l-1.9 -1.3l-1.9 1.3l.6 -2.2l-1.8 -1.4l2.3 -.1zM386.5 183l.8 2.2l2.3 .1l-1.8 1.4l.6 2.2l-1.9 -1.3l-1.9 1.3l.6 -2.2l-1.8 -1.4l2.3 -.1zM385.2 175.1l.8 2.2l2.3 .1l-1.8 1.4l.6 2.2l-1.9 -1.3l-1.9 1.3l.6 -2.2l-1.8 -1.4l2.3 -.1zM384.1 179l.8 2.2l2.3 .1l-1.8 1.4l.6 2.2l-1.9 -1.3l-1.9 1.3l.6 -2.2l-1.8 -1.4l2.3 -.1zM382 181.5l.8 2.2l2.3 .1l-1.8 1.4l.6 2.2l-1.9 -1.3l-1.9 1.3l.6 -2.2l-1.8 -1.4l2.3 -.1zM385 180.1l.8 2.2l2.3 .1l-1.8 1.4l.6 2.2l-1.9 -1.3l-1.9 1.3l.6 -2.2l-1.8 -1.4l2.3 -.1zM385.1 177.6l.8 2.2l2.3 .1l-1.8 1.4l.6 2.2l-1.9 -1.3l-1.9 1.3l.6 -2.2l-1.8 -1.4l2.3 -.1zM385.8 177.4l.8 2.2l2.3 .1l-1.8 1.4l.6 2.2l-1.9 -1.3l-1.9 1.3l.6 -2.2l-1.8 -1.4l2.3 -.1zM385.9 184.7l.8 2.2l2.3 .1l-1.8 1.4l.6 2.2l-1.9 -1.3l-1.9 1.3l.6 -2.2l-1.8 -1.4l2.3 -.1zM383.1 185l.8 2.2l2.3 .1l-1.8 1.4l.6 2.2l-1.9 -1.3l-1.9 1.3l.6 -2.2l-1.8 -1.4l2.3 -.1zM389.7 184.5l.8 2.2l2.3 .1l-1.8 1.4l.6 2.2l-1.9 -1.3l-1.9 1.3l.6 -2.2l-1.8 -1.4l2.3 -.1zM386.3 181.3l.8 2.2l2.3 .1l-1.8 1.4l.6 2.2l-1.9 -1.3l-1.9 1.3l.6 -2.2l-1.8 -1.4l2.3 -.1zM387.3 181.8l.8 2.2l2.3 .1l-1.8 1.4l.6 2.2l-1.9 -1.3l-1.9 1.3l.6 -2.2l-1.8 -1.4l2.3 -.1zM385.2 188.3l.8 2.2l2.3 .1l-1.8 1.4l.6 2.2l-1.9 -1.3l-1.9 1.3l.6 -2.2l-1.8 -1.4l2.3 -.1zM387.3 188.8l.8 2.2l2.3 .1l-1.8 1.4l.6 2.2l-1.9 -1.3l-1.9 1.3l.6 -2.2l-1.8 -1.4l2.3 -.1zM385.8 179.9l.8 2.2l2.3 .1l-1.8 1.4l.6 2.2l-1.9 -1.3l-1.9 1.3l.6 -2.2l-1.8 -1.4l2.3 -.1zM387.7 188l.8 2.2l2.3 .1l-1.8 1.4l.6 2.2l-1.9 -1.3l-1.9 1.3l.6 -2.2l-1.8 -1.4l2.3 -.1zM384.9 185.1l.8 2.2l2.3 .1l-1.8 1.4l.6 2.2l-1.9 -1.3l-1.9 1.3l.6 -2.2l-1.8 -1.4l2.3 -.1zM386.5 179.8l.8 2.2l2.3 .1l-1.8 1.4l.6 2.2l-1.9 -1.3l-1.9 1.3l.6 -2.2l-1.8 -1.4l2.3 -.1zM383.6 178.4l.8 2.2l2.3 .1l-1.8 1.4l.6 2.2l-1.9 -1.3l-1.9 1.3l.6 -2.2l-1.8 -1.4l2.3 -.1zM387.7 183.7l.8 2.2l2.3 .1l-1.8 1.4l.6 2.2l-1.9 -1.3l-1.9 1.3l.6 -2.2l-1.8 -1.4l2.3 -.1zM386.7 186.3l.8 2.2l2.3 .1l-1.8 1.4l.6 2.2l-1.9 -1.3l-1.9 1.3l.6 -2.2l-1.8 -1.4l2.3 -.1zM389.8 184.5l.8 2.2l2.3 .1l-1.8 1.4l.6 2.2l-1.9 -1.3l-1.9 1.3l.6 -2.2l-1.8 -1.4l2.3 -.1zM386.3 189.5l.8 2.2l2.3 .1l-1.8 1.4l.6 2.2l-1.9 -1.3l-1.9 1.3l.6 -2.2l-1.8 -1.4l2.3 -.1zM386 182.5l.8 2.2l2.3 .1l-1.8 1.4l.6 2.2l-1.9 -1.3l-1.9 1.3l.6 -2.2l-1.8 -1.4l2.3 -.1zM389.1 180.8l.8 2.2l2.3 .1l-1.8 1.4l.6 2.2l-1.9 -1.3l-1.9 1.3l.6 -2.2l-1.8 -1.4l2.3 -.1zM389.6 182.4l.8 2.2l2.3 .1l-1.8 1.4l.6 2.2l-1.9 -1.3l-1.9 1.3l.6 -2.2l-1.8 -1.4l2.3 -.1zM390.2 183.7l.8 2.2l2.3 .1l-1.8 1.4l.6 2.2l-1.9 -1.3l-1.9 1.3l.6 -2.2l-1.8 -1.4l2.3 -.1zM390.1 184.4l.8 2.2l2.3 .1l-1.8 1.4l.6 2.2l-1.9 -1.3l-1.9 1.3l.6 -2.2l-1.8 -1.4l2.3 -.1zM388.3 184.2l.8 2.2l2.3 .1l-1.8 1.4l.6 2.2l-1.9 -1.3l-1.9 1.3l.6 -2.2l-1.8 -1.4l2.3 -.1zM391.9 183.6l.8 2.2l2.3 .1l-1.8 1.4l.6 2.2l-1.9 -1.3l-1.9 1.3l.6 -2.2l-1.8 -1.4l2.3 -.1zM390.8 188.4l.8 2.2l2.3 .1l-1.8 1.4l.6 2.2l-1.9 -1.3l-1.9 1.3l.6 -2.2l-1.8 -1.4l2.3 -.1zM391.6 182.4l.8 2.2l2.3 .1l-1.8 1.4l.6 2.2l-1.9 -1.3l-1.9 1.3l.6 -2.2l-1.8 -1.4l2.3 -.1zM393.1 180.9l.8 2.2l2.3 .1l-1.8 1.4l.6 2.2l-1.9 -1.3l-1.9 1.3l.6 -2.2l-1.8 -1.4l2.3 -.1zM393.9 186.5l.8 2.2l2.3 .1l-1.8 1.4l.6 2.2l-1.9 -1.3l-1.9 1.3l.6 -2.2l-1.8 -1.4l2.3 -.1zM390.5 187.3l.8 2.2l2.3 .1l-1.8 1.4l.6 2.2l-1.9 -1.3l-1.9 1.3l.6 -2.2l-1.8 -1.4l2.3 -.1zM386.8 185.8l.8 2.2l2.3 .1l-1.8 1.4l.6 2.2l-1.9 -1.3l-1.9 1.3l.6 -2.2l-1.8 -1.4l2.3 -.1zM390.6 180.7l.8 2.2l2.3 .1l-1.8 1.4l.6 2.2l-1.9 -1.3l-1.9 1.3l.6 -2.2l-1.8 -1.4l2.3 -.1zM391.2 190.6l.8 2.2l2.3 .1l-1.8 1.4l.6 2.2l-1.9 -1.3l-1.9 1.3l.6 -2.2l-1.8 -1.4l2.3 -.1zM390.8 182.2l.8 2.2l2.3 .1l-1.8 1.4l.6 2.2l-1.9 -1.3l-1.9 1.3l.6 -2.2l-1.8 -1.4l2.3 -.1zM391 188.3l.8 2.2l2.3 .1l-1.8 1.4l.6 2.2l-1.9 -1.3l-1.9 1.3l.6 -2.2l-1.8 -1.4l2.3 -.1zM392.4 186.5l.8 2.2l2.3 .1l-1.8 1.4l.6 2.2l-1.9 -1.3l-1.9 1.3l.6 -2.2l-1.8 -1.4l2.3 -.1zM392.6 190.1l.8 2.2l2.3 .1l-1.8 1.4l.6 2.2l-1.9 -1.3l-1.9 1.3l.6 -2.2l-1.8 -1.4l2.3 -.1zM393.5 183.4l.8 2.2l2.3 .1l-1.8 1.4l.6 2.2l-1.9 -1.3l-1.9 1.3l.6 -2.2l-1.8 -1.4l2.3 -.1zM390.4 188.6l.8 2.2l2.3 .1l-1.8 1.4l.6 2.2l-1.9 -1.3l-1.9 1.3l.6 -2.2l-1.8 -1.4l2.3 -.1zM394.1 191.9l.8 2.2l2.3 .1l-1.8 1.4l.6 2.2l-1.9 -1.3l-1.9 1.3l.6 -2.2l-1.8 -1.4l2.3 -.1zM395 185.1l.8 2.2l2.3 .1l-1.8 1.4l.6 2.2l-1.9 -1.3l-1.9 1.3l.6 -2.2l-1.8 -1.4l2.3 -.1zM391.7 185.6l.8 2.2l2.3 .1l-1.8 1.4l.6 2.2l-1.9 -1.3l-1.9 1.3l.6 -2.2l-1.8 -1.4l2.3 -.1zM394.2 189.7l.8 2.2l2.3 .1l-1.8 1.4l.6 2.2l-1.9 -1.3l-1.9 1.3l.6 -2.2l-1.8 -1.4l2.3 -.1zM393.5 182.7l.8 2.2l2.3 .1l-1.8 1.4l.6 2.2l-1.9 -1.3l-1.9 1.3l.6 -2.2l-1.8 -1.4l2.3 -.1zM393.2 182.5l.8 2.2l2.3 .1l-1.8 1.4l.6 2.2l-1.9 -1.3l-1.9 1.3l.6 -2.2l-1.8 -1.4l2.3 -.1zM394 190.5l.8 2.2l2.3 .1l-1.8 1.4l.6 2.2l-1.9 -1.3l-1.9 1.3l.6 -2.2l-1.8 -1.4l2.3 -.1zM394 186.8l.8 2.2l2.3 .1l-1.8 1.4l.6 2.2l-1.9 -1.3l-1.9 1.3l.6 -2.2l-1.8 -1.4l2.3 -.1zM393.7 189.6l.8 2.2l2.3 .1l-1.8 1.4l.6 2.2l-1.9 -1.3l-1.9 1.3l.6 -2.2l-1.8 -1.4l2.3 -.1zM395.5 183.5l.8 2.2l2.3 .1l-1.8 1.4l.6 2.2l-1.9 -1.3l-1.9 1.3l.6 -2.2l-1.8 -1.4l2.3 -.1zM394.3 191.4l.8 2.2l2.3 .1l-1.8 1.4l.6 2.2l-1.9 -1.3l-1.9 1.3l.6 -2.2l-1.8 -1.4l2.3 -.1zM395.6 188.3l.8 2.2l2.3 .1l-1.8 1.4l.6 2.2l-1.9 -1.3l-1.9 1.3l.6 -2.2l-1.8 -1.4l2.3 -.1zM394.6 187.5l.8 2.2l2.3 .1l-1.8 1.4l.6 2.2l-1.9 -1.3l-1.9 1.3l.6 -2.2l-1.8 -1.4l2.3 -.1zM396.3 189.9l.8 2.2l2.3 .1l-1.8 1.4l.6 2.2l-1.9 -1.3l-1.9 1.3l.6 -2.2l-1.8 -1.4l2.3 -.1zM396.7 186.4l.8 2.2l2.3 .1l-1.8 1.4l.6 2.2l-1.9 -1.3l-1.9 1.3l.6 -2.2l-1.8 -1.4l2.3 -.1zM394.2 189l.8 2.2l2.3 .1l-1.8 1.4l.6 2.2l-1.9 -1.3l-1.9 1.3l.6 -2.2l-1.8 -1.4l2.3 -.1zM394.7 188.1l.8 2.2l2.3 .1l-1.8 1.4l.6 2.2l-1.9 -1.3l-1.9 1.3l.6 -2.2l-1.8 -1.4l2.3 -.1zM397.6 182.8l.8 2.2l2.3 .1l-1.8 1.4l.6 2.2l-1.9 -1.3l-1.9 1.3l.6 -2.2l-1.8 -1.4l2.3 -.1zM398.3 188.2l.8 2.2l2.3 .1l-1.8 1.4l.6 2.2l-1.9 -1.3l-1.9 1.3l.6 -2.2l-1.8 -1.4l2.3 -.1zM399.4 186.6l.8 2.2l2.3 .1l-1.8 1.4l.6 2.2l-1.9 -1.3l-1.9 1.3l.6 -2.2l-1.8 -1.4l2.3 -.1zM395.6 185.3l.8 2.2l2.3 .1l-1.8 1.4l.6 2.2l-1.9 -1.3l-1.9 1.3l.6 -2.2l-1.8 -1.4l2.3 -.1zM399.5 182.9l.8 2.2l2.3 .1l-1.8 1.4l.6 2.2l-1.9 -1.3l-1.9 1.3l.6 -2.2l-1.8 -1.4l2.3 -.1zM398.5 186.7l.8 2.2l2.3 .1l-1.8 1.4l.6 2.2l-1.9 -1.3l-1.9 1.3l.6 -2.2l-1.8 -1.4l2.3 -.1zM403.3 188l.8 2.2l2.3 .1l-1.8 1.4l.6 2.2l-1.9 -1.3l-1.9 1.3l.6 -2.2l-1.8 -1.4l2.3 -.1zM398.4 185.6l.8 2.2l2.3 .1l-1.8 1.4l.6 2.2l-1.9 -1.3l-1.9 1.3l.6 -2.2l-1.8 -1.4l2.3 -.1zM397.8 187.9l.8 2.2l2.3 .1l-1.8 1.4l.6 2.2l-1.9 -1.3l-1.9 1.3l.6 -2.2l-1.8 -1.4l2.3 -.1zM398.7 188.3l.8 2.2l2.3 .1l-1.8 1.4l.6 2.2l-1.9 -1.3l-1.9 1.3l.6 -2.2l-1.8 -1.4l2.3 -.1zM402 191.3l.8 2.2l2.3 .1l-1.8 1.4l.6 2.2l-1.9 -1.3l-1.9 1.3l.6 -2.2l-1.8 -1.4l2.3 -.1zM398.6 189.6l.8 2.2l2.3 .1l-1.8 1.4l.6 2.2l-1.9 -1.3l-1.9 1.3l.6 -2.2l-1.8 -1.4l2.3 -.1zM401.5 183.5l.8 2.2l2.3 .1l-1.8 1.4l.6 2.2l-1.9 -1.3l-1.9 1.3l.6 -2.2l-1.8 -1.4l2.3 -.1zM399.7 187.4l.8 2.2l2.3 .1l-1.8 1.4l.6 2.2l-1.9 -1.3l-1.9 1.3l.6 -2.2l-1.8 -1.4l2.3 -.1zM400.3 186.3l.8 2.2l2.3 .1l-1.8 1.4l.6 2.2l-1.9 -1.3l-1.9 1.3l.6 -2.2l-1.8 -1.4l2.3 -.1zM400.2 186.8l.8 2.2l2.3 .1l-1.8 1.4l.6 2.2l-1.9 -1.3l-1.9 1.3l.6 -2.2l-1.8 -1.4l2.3 -.1zM401.6 189l.8 2.2l2.3 .1l-1.8 1.4l.6 2.2l-1.9 -1.3l-1.9 1.3l.6 -2.2l-1.8 -1.4l2.3 -.1zM400.7 185.4l.8 2.2l2.3 .1l-1.8 1.4l.6 2.2l-1.9 -1.3l-1.9 1.3l.6 -2.2l-1.8 -1.4l2.3 -.1zM401.8 186l.8 2.2l2.3 .1l-1.8 1.4l.6 2.2l-1.9 -1.3l-1.9 1.3l.6 -2.2l-1.8 -1.4l2.3 -.1zM402.4 183.6l.8 2.2l2.3 .1l-1.8 1.4l.6 2.2l-1.9 -1.3l-1.9 1.3l.6 -2.2l-1.8 -1.4l2.3 -.1zM404.3 182.9l.8 2.2l2.3 .1l-1.8 1.4l.6 2.2l-1.9 -1.3l-1.9 1.3l.6 -2.2l-1.8 -1.4l2.3 -.1zM402.3 186.7l.8 2.2l2.3 .1l-1.8 1.4l.6 2.2l-1.9 -1.3l-1.9 1.3l.6 -2.2l-1.8 -1.4l2.3 -.1zM403.8 191l.8 2.2l2.3 .1l-1.8 1.4l.6 2.2l-1.9 -1.3l-1.9 1.3l.6 -2.2l-1.8 -1.4l2.3 -.1zM401.8 181.9l.8 2.2l2.3 .1l-1.8 1.4l.6 2.2l-1.9 -1.3l-1.9 1.3l.6 -2.2l-1.8 -1.4l2.3 -.1zM402.2 183.4l.8 2.2l2.3 .1l-1.8 1.4l.6 2.2l-1.9 -1.3l-1.9 1.3l.6 -2.2l-1.8 -1.4l2.3 -.1zM404.5 182.1l.8 2.2l2.3 .1l-1.8 1.4l.6 2.2l-1.9 -1.3l-1.9 1.3l.6 -2.2l-1.8 -1.4l2.3 -.1zM406.8 189.4l.8 2.2l2.3 .1l-1.8 1.4l.6 2.2l-1.9 -1.3l-1.9 1.3l.6 -2.2l-1.8 -1.4l2.3 -.1zM406.2 182.1l.8 2.2l2.3 .1l-1.8 1.4l.6 2.2l-1.9 -1.3l-1.9 1.3l.6 -2.2l-1.8 -1.4l2.3 -.1zM405 182.1l.8 2.2l2.3 .1l-1.8 1.4l.6 2.2l-1.9 -1.3l-1.9 1.3l.6 -2.2l-1.8 -1.4l2.3 -.1zM406.4 191.4l.8 2.2l2.3 .1l-1.8 1.4l.6 2.2l-1.9 -1.3l-1.9 1.3l.6 -2.2l-1.8 -1.4l2.3 -.1zM404.9 187.4l.8 2.2l2.3 .1l-1.8 1.4l.6 2.2l-1.9 -1.3l-1.9 1.3l.6 -2.2l-1.8 -1.4l2.3 -.1zM404.5 185l.8 2.2l2.3 .1l-1.8 1.4l.6 2.2l-1.9 -1.3l-1.9 1.3l.6 -2.2l-1.8 -1.4l2.3 -.1zM402.8 186.3l.8 2.2l2.3 .1l-1.8 1.4l.6 2.2l-1.9 -1.3l-1.9 1.3l.6 -2.2l-1.8 -1.4l2.3 -.1zM405.7 193l.8 2.2l2.3 .1l-1.8 1.4l.6 2.2l-1.9 -1.3l-1.9 1.3l.6 -2.2l-1.8 -1.4l2.3 -.1zM406.6 189.2l.8 2.2l2.3 .1l-1.8 1.4l.6 2.2l-1.9 -1.3l-1.9 1.3l.6 -2.2l-1.8 -1.4l2.3 -.1zM405.5 184l.8 2.2l2.3 .1l-1.8 1.4l.6 2.2l-1.9 -1.3l-1.9 1.3l.6 -2.2l-1.8 -1.4l2.3 -.1zM404.9 192.5l.8 2.2l2.3 .1l-1.8 1.4l.6 2.2l-1.9 -1.3l-1.9 1.3l.6 -2.2l-1.8 -1.4l2.3 -.1zM407.1 182.1l.8 2.2l2.3 .1l-1.8 1.4l.6 2.2l-1.9 -1.3l-1.9 1.3l.6 -2.2l-1.8 -1.4l2.3 -.1zM405.1 185.8l.8 2.2l2.3 .1l-1.8 1.4l.6 2.2l-1.9 -1.3l-1.9 1.3l.6 -2.2l-1.8 -1.4l2.3 -.1zM405.1 192.1l.8 2.2l2.3 .1l-1.8 1.4l.6 2.2l-1.9 -1.3l-1.9 1.3l.6 -2.2l-1.8 -1.4l2.3 -.1zM407.5 189.3l.8 2.2l2.3 .1l-1.8 1.4l.6 2.2l-1.9 -1.3l-1.9 1.3l.6 -2.2l-1.8 -1.4l2.3 -.1zM405.2 185.7l.8 2.2l2.3 .1l-1.8 1.4l.6 2.2l-1.9 -1.3l-1.9 1.3l.6 -2.2l-1.8 -1.4l2.3 -.1zM408.4 186.7l.8 2.2l2.3 .1l-1.8 1.4l.6 2.2l-1.9 -1.3l-1.9 1.3l.6 -2.2l-1.8 -1.4l2.3 -.1zM405.4 185.1l.8 2.2l2.3 .1l-1.8 1.4l.6 2.2l-1.9 -1.3l-1.9 1.3l.6 -2.2l-1.8 -1.4l2.3 -.1zM407.4 191.3l.8 2.2l2.3 .1l-1.8 1.4l.6 2.2l-1.9 -1.3l-1.9 1.3l.6 -2.2l-1.8 -1.4l2.3 -.1zM406.4 193.8l.8 2.2l2.3 .1l-1.8 1.4l.6 2.2l-1.9 -1.3l-1.9 1.3l.6 -2.2l-1.8 -1.4l2.3 -.1zM410.9 188.2l.8 2.2l2.3 .1l-1.8 1.4l.6 2.2l-1.9 -1.3l-1.9 1.3l.6 -2.2l-1.8 -1.4l2.3 -.1zM408.5 186.8l.8 2.2l2.3 .1l-1.8 1.4l.6 2.2l-1.9 -1.3l-1.9 1.3l.6 -2.2l-1.8 -1.4l2.3 -.1zM409.6 187.3l.8 2.2l2.3 .1l-1.8 1.4l.6 2.2l-1.9 -1.3l-1.9 1.3l.6 -2.2l-1.8 -1.4l2.3 -.1zM408 188.9l.8 2.2l2.3 .1l-1.8 1.4l.6 2.2l-1.9 -1.3l-1.9 1.3l.6 -2.2l-1.8 -1.4l2.3 -.1zM410.2 190l.8 2.2l2.3 .1l-1.8 1.4l.6 2.2l-1.9 -1.3l-1.9 1.3l.6 -2.2l-1.8 -1.4l2.3 -.1zM408.3 187.7l.8 2.2l2.3 .1l-1.8 1.4l.6 2.2l-1.9 -1.3l-1.9 1.3l.6 -2.2l-1.8 -1.4l2.3 -.1zM409.7 186.5l.8 2.2l2.3 .1l-1.8 1.4l.6 2.2l-1.9 -1.3l-1.9 1.3l.6 -2.2l-1.8 -1.4l2.3 -.1zM409.7 184.6l.8 2.2l2.3 .1l-1.8 1.4l.6 2.2l-1.9 -1.3l-1.9 1.3l.6 -2.2l-1.8 -1.4l2.3 -.1zM410 188.9l.8 2.2l2.3 .1l-1.8 1.4l.6 2.2l-1.9 -1.3l-1.9 1.3l.6 -2.2l-1.8 -1.4l2.3 -.1zM411.9 194.2l.8 2.2l2.3 .1l-1.8 1.4l.6 2.2l-1.9 -1.3l-1.9 1.3l.6 -2.2l-1.8 -1.4l2.3 -.1zM408.3 188l.8 2.2l2.3 .1l-1.8 1.4l.6 2.2l-1.9 -1.3l-1.9 1.3l.6 -2.2l-1.8 -1.4l2.3 -.1zM406.3 193.4l.8 2.2l2.3 .1l-1.8 1.4l.6 2.2l-1.9 -1.3l-1.9 1.3l.6 -2.2l-1.8 -1.4l2.3 -.1zM411.1 187.3l.8 2.2l2.3 .1l-1.8 1.4l.6 2.2l-1.9 -1.3l-1.9 1.3l.6 -2.2l-1.8 -1.4l2.3 -.1zM412.3 193.6l.8 2.2l2.3 .1l-1.8 1.4l.6 2.2l-1.9 -1.3l-1.9 1.3l.6 -2.2l-1.8 -1.4l2.3 -.1zM411.4 189.8l.8 2.2l2.3 .1l-1.8 1.4l.6 2.2l-1.9 -1.3l-1.9 1.3l.6 -2.2l-1.8 -1.4l2.3 -.1zM409.6 182.8l.8 2.2l2.3 .1l-1.8 1.4l.6 2.2l-1.9 -1.3l-1.9 1.3l.6 -2.2l-1.8 -1.4l2.3 -.1zM414.6 190.9l.8 2.2l2.3 .1l-1.8 1.4l.6 2.2l-1.9 -1.3l-1.9 1.3l.6 -2.2l-1.8 -1.4l2.3 -.1zM414.5 182.9l.8 2.2l2.3 .1l-1.8 1.4l.6 2.2l-1.9 -1.3l-1.9 1.3l.6 -2.2l-1.8 -1.4l2.3 -.1zM411.8 189.5l.8 2.2l2.3 .1l-1.8 1.4l.6 2.2l-1.9 -1.3l-1.9 1.3l.6 -2.2l-1.8 -1.4l2.3 -.1zM412.2 192.7l.8 2.2l2.3 .1l-1.8 1.4l.6 2.2l-1.9 -1.3l-1.9 1.3l.6 -2.2l-1.8 -1.4l2.3 -.1zM415 184.7l.8 2.2l2.3 .1l-1.8 1.4l.6 2.2l-1.9 -1.3l-1.9 1.3l.6 -2.2l-1.8 -1.4l2.3 -.1zM411.3 193.3l.8 2.2l2.3 .1l-1.8 1.4l.6 2.2l-1.9 -1.3l-1.9 1.3l.6 -2.2l-1.8 -1.4l2.3 -.1zM413.5 186.6l.8 2.2l2.3 .1l-1.8 1.4l.6 2.2l-1.9 -1.3l-1.9 1.3l.6 -2.2l-1.8 -1.4l2.3 -.1zM414.9 192.6l.8 2.2l2.3 .1l-1.8 1.4l.6 2.2l-1.9 -1.3l-1.9 1.3l.6 -2.2l-1.8 -1.4l2.3 -.1zM414.9 189.6l.8 2.2l2.3 .1l-1.8 1.4l.6 2.2l-1.9 -1.3l-1.9 1.3l.6 -2.2l-1.8 -1.4l2.3 -.1zM413.2 187.6l.8 2.2l2.3 .1l-1.8 1.4l.6 2.2l-1.9 -1.3l-1.9 1.3l.6 -2.2l-1.8 -1.4l2.3 -.1zM414.3 192.1l.8 2.2l2.3 .1l-1.8 1.4l.6 2.2l-1.9 -1.3l-1.9 1.3l.6 -2.2l-1.8 -1.4l2.3 -.1zM415.1 190.5l.8 2.2l2.3 .1l-1.8 1.4l.6 2.2l-1.9 -1.3l-1.9 1.3l.6 -2.2l-1.8 -1.4l2.3 -.1zM415.4 145.2l.8 2.2l2.3 .1l-1.8 1.4l.6 2.2l-1.9 -1.3l-1.9 1.3l.6 -2.2l-1.8 -1.4l2.3 -.1zM417 146.1l.8 2.2l2.3 .1l-1.8 1.4l.6 2.2l-1.9 -1.3l-1.9 1.3l.6 -2.2l-1.8 -1.4l2.3 -.1zM414.1 150.1l.8 2.2l2.3 .1l-1.8 1.4l.6 2.2l-1.9 -1.3l-1.9 1.3l.6 -2.2l-1.8 -1.4l2.3 -.1zM413.3 149l.8 2.2l2.3 .1l-1.8 1.4l.6 2.2l-1.9 -1.3l-1.9 1.3l.6 -2.2l-1.8 -1.4l2.3 -.1zM418.8 149.5l.8 2.2l2.3 .1l-1.8 1.4l.6 2.2l-1.9 -1.3l-1.9 1.3l.6 -2.2l-1.8 -1.4l2.3 -.1zM419.3 149.4l.8 2.2l2.3 .1l-1.8 1.4l.6 2.2l-1.9 -1.3l-1.9 1.3l.6 -2.2l-1.8 -1.4l2.3 -.1zM418.2 150.7l.8 2.2l2.3 .1l-1.8 1.4l.6 2.2l-1.9 -1.3l-1.9 1.3l.6 -2.2l-1.8 -1.4l2.3 -.1zM417.8 149.6l.8 2.2l2.3 .1l-1.8 1.4l.6 2.2l-1.9 -1.3l-1.9 1.3l.6 -2.2l-1.8 -1.4l2.3 -.1zM417.9 151.5l.8 2.2l2.3 .1l-1.8 1.4l.6 2.2l-1.9 -1.3l-1.9 1.3l.6 -2.2l-1.8 -1.4l2.3 -.1zM412.5 151.8l.8 2.2l2.3 .1l-1.8 1.4l.6 2.2l-1.9 -1.3l-1.9 1.3l.6 -2.2l-1.8 -1.4l2.3 -.1zM417.5 150.8l.8 2.2l2.3 .1l-1.8 1.4l.6 2.2l-1.9 -1.3l-1.9 1.3l.6 -2.2l-1.8 -1.4l2.3 -.1zM413.6 149.5l.8 2.2l2.3 .1l-1.8 1.4l.6 2.2l-1.9 -1.3l-1.9 1.3l.6 -2.2l-1.8 -1.4l2.3 -.1zM414.9 153.4l.8 2.2l2.3 .1l-1.8 1.4l.6 2.2l-1.9 -1.3l-1.9 1.3l.6 -2.2l-1.8 -1.4l2.3 -.1zM412.6 154.9l.8 2.2l2.3 .1l-1.8 1.4l.6 2.2l-1.9 -1.3l-1.9 1.3l.6 -2.2l-1.8 -1.4l2.3 -.1zM418.2 153.3l.8 2.2l2.3 .1l-1.8 1.4l.6 2.2l-1.9 -1.3l-1.9 1.3l.6 -2.2l-1.8 -1.4l2.3 -.1zM412.5 154l.8 2.2l2.3 .1l-1.8 1.4l.6 2.2l-1.9 -1.3l-1.9 1.3l.6 -2.2l-1.8 -1.4l2.3 -.1zM414.2 156.2l.8 2.2l2.3 .1l-1.8 1.4l.6 2.2l-1.9 -1.3l-1.9 1.3l.6 -2.2l-1.8 -1.4l2.3 -.1zM413 154l.8 2.2l2.3 .1l-1.8 1.4l.6 2.2l-1.9 -1.3l-1.9 1.3l.6 -2.2l-1.8 -1.4l2.3 -.1zM419.1 153.7l.8 2.2l2.3 .1l-1.8 1.4l.6 2.2l-1.9 -1.3l-1.9 1.3l.6 -2.2l-1.8 -1.4l2.3 -.1zM419.4 157l.8 2.2l2.3 .1l-1.8 1.4l.6 2.2l-1.9 -1.3l-1.9 1.3l.6 -2.2l-1.8 -1.4l2.3 -.1zM414.5 154.6l.8 2.2l2.3 .1l-1.8 1.4l.6 2.2l-1.9 -1.3l-1.9 1.3l.6 -2.2l-1.8 -1.4l2.3 -.1zM415.7 153.4l.8 2.2l2.3 .1l-1.8 1.4l.6 2.2l-1.9 -1.3l-1.9 1.3l.6 -2.2l-1.8 -1.4l2.3 -.1zM419.3 156.7l.8 2.2l2.3 .1l-1.8 1.4l.6 2.2l-1.9 -1.3l-1.9 1.3l.6 -2.2l-1.8 -1.4l2.3 -.1zM413.5 156.5l.8 2.2l2.3 .1l-1.8 1.4l.6 2.2l-1.9 -1.3l-1.9 1.3l.6 -2.2l-1.8 -1.4l2.3 -.1zM417.7 155.8l.8 2.2l2.3 .1l-1.8 1.4l.6 2.2l-1.9 -1.3l-1.9 1.3l.6 -2.2l-1.8 -1.4l2.3 -.1zM416.3 156.8l.8 2.2l2.3 .1l-1.8 1.4l.6 2.2l-1.9 -1.3l-1.9 1.3l.6 -2.2l-1.8 -1.4l2.3 -.1zM414.2 158.6l.8 2.2l2.3 .1l-1.8 1.4l.6 2.2l-1.9 -1.3l-1.9 1.3l.6 -2.2l-1.8 -1.4l2.3 -.1zM415.7 154.7l.8 2.2l2.3 .1l-1.8 1.4l.6 2.2l-1.9 -1.3l-1.9 1.3l.6 -2.2l-1.8 -1.4l2.3 -.1zM416.3 155.7l.8 2.2l2.3 .1l-1.8 1.4l.6 2.2l-1.9 -1.3l-1.9 1.3l.6 -2.2l-1.8 -1.4l2.3 -.1zM414.3 156.8l.8 2.2l2.3 .1l-1.8 1.4l.6 2.2l-1.9 -1.3l-1.9 1.3l.6 -2.2l-1.8 -1.4l2.3 -.1zM419.8 156.6l.8 2.2l2.3 .1l-1.8 1.4l.6 2.2l-1.9 -1.3l-1.9 1.3l.6 -2.2l-1.8 -1.4l2.3 -.1zM420 159.5l.8 2.2l2.3 .1l-1.8 1.4l.6 2.2l-1.9 -1.3l-1.9 1.3l.6 -2.2l-1.8 -1.4l2.3 -.1zM418.9 159.8l.8 2.2l2.3 .1l-1.8 1.4l.6 2.2l-1.9 -1.3l-1.9 1.3l.6 -2.2l-1.8 -1.4l2.3 -.1zM416.3 159.1l.8 2.2l2.3 .1l-1.8 1.4l.6 2.2l-1.9 -1.3l-1.9 1.3l.6 -2.2l-1.8 -1.4l2.3 -.1zM419.4 158.1l.8 2.2l2.3 .1l-1.8 1.4l.6 2.2l-1.9 -1.3l-1.9 1.3l.6 -2.2l-1.8 -1.4l2.3 -.1zM420.2 158.8l.8 2.2l2.3 .1l-1.8 1.4l.6 2.2l-1.9 -1.3l-1.9 1.3l.6 -2.2l-1.8 -1.4l2.3 -.1zM419.8 163.1l.8 2.2l2.3 .1l-1.8 1.4l.6 2.2l-1.9 -1.3l-1.9 1.3l.6 -2.2l-1.8 -1.4l2.3 -.1zM417.3 159.5l.8 2.2l2.3 .1l-1.8 1.4l.6 2.2l-1.9 -1.3l-1.9 1.3l.6 -2.2l-1.8 -1.4l2.3 -.1zM415 161.5l.8 2.2l2.3 .1l-1.8 1.4l.6 2.2l-1.9 -1.3l-1.9 1.3l.6 -2.2l-1.8 -1.4l2.3 -.1zM420 162.5l.8 2.2l2.3 .1l-1.8 1.4l.6 2.2l-1.9 -1.3l-1.9 1.3l.6 -2.2l-1.8 -1.4l2.3 -.1zM419.5 163.4l.8 2.2l2.3 .1l-1.8 1.4l.6 2.2l-1.9 -1.3l-1.9 1.3l.6 -2.2l-1.8 -1.4l2.3 -.1zM414.9 162.9l.8 2.2l2.3 .1l-1.8 1.4l.6 2.2l-1.9 -1.3l-1.9 1.3l.6 -2.2l-1.8 -1.4l2.3 -.1zM415.5 164.1l.8 2.2l2.3 .1l-1.8 1.4l.6 2.2l-1.9 -1.3l-1.9 1.3l.6 -2.2l-1.8 -1.4l2.3 -.1zM416.5 165l.8 2.2l2.3 .1l-1.8 1.4l.6 2.2l-1.9 -1.3l-1.9 1.3l.6 -2.2l-1.8 -1.4l2.3 -.1zM415.8 162.4l.8 2.2l2.3 .1l-1.8 1.4l.6 2.2l-1.9 -1.3l-1.9 1.3l.6 -2.2l-1.8 -1.4l2.3 -.1zM414.7 164.9l.8 2.2l2.3 .1l-1.8 1.4l.6 2.2l-1.9 -1.3l-1.9 1.3l.6 -2.2l-1.8 -1.4l2.3 -.1zM417.8 162.1l.8 2.2l2.3 .1l-1.8 1.4l.6 2.2l-1.9 -1.3l-1.9 1.3l.6 -2.2l-1.8 -1.4l2.3 -.1zM419.3 161.6l.8 2.2l2.3 .1l-1.8 1.4l.6 2.2l-1.9 -1.3l-1.9 1.3l.6 -2.2l-1.8 -1.4l2.3 -.1zM417.6 165.3l.8 2.2l2.3 .1l-1.8 1.4l.6 2.2l-1.9 -1.3l-1.9 1.3l.6 -2.2l-1.8 -1.4l2.3 -.1zM420.3 164.1l.8 2.2l2.3 .1l-1.8 1.4l.6 2.2l-1.9 -1.3l-1.9 1.3l.6 -2.2l-1.8 -1.4l2.3 -.1zM415.7 165.1l.8 2.2l2.3 .1l-1.8 1.4l.6 2.2l-1.9 -1.3l-1.9 1.3l.6 -2.2l-1.8 -1.4l2.3 -.1zM416.2 166.1l.8 2.2l2.3 .1l-1.8 1.4l.6 2.2l-1.9 -1.3l-1.9 1.3l.6 -2.2l-1.8 -1.4l2.3 -.1zM418.2 166l.8 2.2l2.3 .1l-1.8 1.4l.6 2.2l-1.9 -1.3l-1.9 1.3l.6 -2.2l-1.8 -1.4l2.3 -.1zM415.3 165.2l.8 2.2l2.3 .1l-1.8 1.4l.6 2.2l-1.9 -1.3l-1.9 1.3l.6 -2.2l-1.8 -1.4l2.3 -.1zM418.4 167.2l.8 2.2l2.3 .1l-1.8 1.4l.6 2.2l-1.9 -1.3l-1.9 1.3l.6 -2.2l-1.8 -1.4l2.3 -.1zM414.3 166.6l.8 2.2l2.3 .1l-1.8 1.4l.6 2.2l-1.9 -1.3l-1.9 1.3l.6 -2.2l-1.8 -1.4l2.3 -.1zM417.2 166.1l.8 2.2l2.3 .1l-1.8 1.4l.6 2.2l-1.9 -1.3l-1.9 1.3l.6 -2.2l-1.8 -1.4l2.3 -.1zM421.3 165.7l.8 2.2l2.3 .1l-1.8 1.4l.6 2.2l-1.9 -1.3l-1.9 1.3l.6 -2.2l-1.8 -1.4l2.3 -.1zM419.8 168.3l.8 2.2l2.3 .1l-1.8 1.4l.6 2.2l-1.9 -1.3l-1.9 1.3l.6 -2.2l-1.8 -1.4l2.3 -.1zM421 165.7l.8 2.2l2.3 .1l-1.8 1.4l.6 2.2l-1.9 -1.3l-1.9 1.3l.6 -2.2l-1.8 -1.4l2.3 -.1zM419 171l.8 2.2l2.3 .1l-1.8 1.4l.6 2.2l-1.9 -1.3l-1.9 1.3l.6 -2.2l-1.8 -1.4l2.3 -.1zM419 168.6l.8 2.2l2.3 .1l-1.8 1.4l.6 2.2l-1.9 -1.3l-1.9 1.3l.6 -2.2l-1.8 -1.4l2.3 -.1zM419.6 168.2l.8 2.2l2.3 .1l-1.8 1.4l.6 2.2l-1.9 -1.3l-1.9 1.3l.6 -2.2l-1.8 -1.4l2.3 -.1zM417.6 168.6l.8 2.2l2.3 .1l-1.8 1.4l.6 2.2l-1.9 -1.3l-1.9 1.3l.6 -2.2l-1.8 -1.4l2.3 -.1zM415.2 167.9l.8 2.2l2.3 .1l-1.8 1.4l.6 2.2l-1.9 -1.3l-1.9 1.3l.6 -2.2l-1.8 -1.4l2.3 -.1zM415.9 171.6l.8 2.2l2.3 .1l-1.8 1.4l.6 2.2l-1.9 -1.3l-1.9 1.3l.6 -2.2l-1.8 -1.4l2.3 -.1zM421.6 168.8l.8 2.2l2.3 .1l-1.8 1.4l.6 2.2l-1.9 -1.3l-1.9 1.3l.6 -2.2l-1.8 -1.4l2.3 -.1zM420.7 169.5l.8 2.2l2.3 .1l-1.8 1.4l.6 2.2l-1.9 -1.3l-1.9 1.3l.6 -2.2l-1.8 -1.4l2.3 -.1zM418.6 173.2l.8 2.2l2.3 .1l-1.8 1.4l.6 2.2l-1.9 -1.3l-1.9 1.3l.6 -2.2l-1.8 -1.4l2.3 -.1zM418.8 171.3l.8 2.2l2.3 .1l-1.8 1.4l.6 2.2l-1.9 -1.3l-1.9 1.3l.6 -2.2l-1.8 -1.4l2.3 -.1zM418.8 173.1l.8 2.2l2.3 .1l-1.8 1.4l.6 2.2l-1.9 -1.3l-1.9 1.3l.6 -2.2l-1.8 -1.4l2.3 -.1zM417 169.7l.8 2.2l2.3 .1l-1.8 1.4l.6 2.2l-1.9 -1.3l-1.9 1.3l.6 -2.2l-1.8 -1.4l2.3 -.1zM421.6 172.5l.8 2.2l2.3 .1l-1.8 1.4l.6 2.2l-1.9 -1.3l-1.9 1.3l.6 -2.2l-1.8 -1.4l2.3 -.1zM415.2 172.4l.8 2.2l2.3 .1l-1.8 1.4l.6 2.2l-1.9 -1.3l-1.9 1.3l.6 -2.2l-1.8 -1.4l2.3 -.1zM419.6 171.8l.8 2.2l2.3 .1l-1.8 1.4l.6 2.2l-1.9 -1.3l-1.9 1.3l.6 -2.2l-1.8 -1.4l2.3 -.1zM419.8 172.9l.8 2.2l2.3 .1l-1.8 1.4l.6 2.2l-1.9 -1.3l-1.9 1.3l.6 -2.2l-1.8 -1.4l2.3 -.1zM416.8 173.2l.8 2.2l2.3 .1l-1.8 1.4l.6 2.2l-1.9 -1.3l-1.9 1.3l.6 -2.2l-1.8 -1.4l2.3 -.1zM417.8 173.4l.8 2.2l2.3 .1l-1.8 1.4l.6 2.2l-1.9 -1.3l-1.9 1.3l.6 -2.2l-1.8 -1.4l2.3 -.1zM416 174.1l.8 2.2l2.3 .1l-1.8 1.4l.6 2.2l-1.9 -1.3l-1.9 1.3l.6 -2.2l-1.8 -1.4l2.3 -.1zM423 178.6l.8 2.2l2.3 .1l-1.8 1.4l.6 2.2l-1.9 -1.3l-1.9 1.3l.6 -2.2l-1.8 -1.4l2.3 -.1zM418.6 173.2l.8 2.2l2.3 .1l-1.8 1.4l.6 2.2l-1.9 -1.3l-1.9 1.3l.6 -2.2l-1.8 -1.4l2.3 -.1zM416.9 174.7l.8 2.2l2.3 .1l-1.8 1.4l.6 2.2l-1.9 -1.3l-1.9 1.3l.6 -2.2l-1.8 -1.4l2.3 -.1zM422 176.3l.8 2.2l2.3 .1l-1.8 1.4l.6 2.2l-1.9 -1.3l-1.9 1.3l.6 -2.2l-1.8 -1.4l2.3 -.1zM417.2 174.5l.8 2.2l2.3 .1l-1.8 1.4l.6 2.2l-1.9 -1.3l-1.9 1.3l.6 -2.2l-1.8 -1.4l2.3 -.1zM419.2 173l.8 2.2l2.3 .1l-1.8 1.4l.6 2.2l-1.9 -1.3l-1.9 1.3l.6 -2.2l-1.8 -1.4l2.3 -.1zM416.3 176.8l.8 2.2l2.3 .1l-1.8 1.4l.6 2.2l-1.9 -1.3l-1.9 1.3l.6 -2.2l-1.8 -1.4l2.3 -.1zM418.2 176l.8 2.2l2.3 .1l-1.8 1.4l.6 2.2l-1.9 -1.3l-1.9 1.3l.6 -2.2l-1.8 -1.4l2.3 -.1zM422.5 179.9l.8 2.2l2.3 .1l-1.8 1.4l.6 2.2l-1.9 -1.3l-1.9 1.3l.6 -2.2l-1.8 -1.4l2.3 -.1zM417.3 177.8l.8 2.2l2.3 .1l-1.8 1.4l.6 2.2l-1.9 -1.3l-1.9 1.3l.6 -2.2l-1.8 -1.4l2.3 -.1zM420.9 178.6l.8 2.2l2.3 .1l-1.8 1.4l.6 2.2l-1.9 -1.3l-1.9 1.3l.6 -2.2l-1.8 -1.4l2.3 -.1zM421.9 180l.8 2.2l2.3 .1l-1.8 1.4l.6 2.2l-1.9 -1.3l-1.9 1.3l.6 -2.2l-1.8 -1.4l2.3 -.1zM426 179.8l.8 2.2l2.3 .1l-1.8 1.4l.6 2.2l-1.9 -1.3l-1.9 1.3l.6 -2.2l-1.8 -1.4l2.3 -.1zM421.6 183.6l.8 2.2l2.3 .1l-1.8 1.4l.6 2.2l-1.9 -1.3l-1.9 1.3l.6 -2.2l-1.8 -1.4l2.3 -.1zM421.2 183.8l.8 2.2l2.3 .1l-1.8 1.4l.6 2.2l-1.9 -1.3l-1.9 1.3l.6 -2.2l-1.8 -1.4l2.3 -.1zM423.6 184.9l.8 2.2l2.3 .1l-1.8 1.4l.6 2.2l-1.9 -1.3l-1.9 1.3l.6 -2.2l-1.8 -1.4l2.3 -.1zM425.3 184.7l.8 2.2l2.3 .1l-1.8 1.4l.6 2.2l-1.9 -1.3l-1.9 1.3l.6 -2.2l-1.8 -1.4l2.3 -.1zM424.4 186.4l.8 2.2l2.3 .1l-1.8 1.4l.6 2.2l-1.9 -1.3l-1.9 1.3l.6 -2.2l-1.8 -1.4l2.3 -.1zM425.3 187.2l.8 2.2l2.3 .1l-1.8 1.4l.6 2.2l-1.9 -1.3l-1.9 1.3l.6 -2.2l-1.8 -1.4l2.3 -.1zM423.6 185.6l.8 2.2l2.3 .1l-1.8 1.4l.6 2.2l-1.9 -1.3l-1.9 1.3l.6 -2.2l-1.8 -1.4l2.3 -.1zM427.9 187.8l.8 2.2l2.3 .1l-1.8 1.4l.6 2.2l-1.9 -1.3l-1.9 1.3l.6 -2.2l-1.8 -1.4l2.3 -.1zM429.2 189l.8 2.2l2.3 .1l-1.8 1.4l.6 2.2l-1.9 -1.3l-1.9 1.3l.6 -2.2l-1.8 -1.4l2.3 -.1zM424.3 189.5l.8 2.2l2.3 .1l-1.8 1.4l.6 2.2l-1.9 -1.3l-1.9 1.3l.6 -2.2l-1.8 -1.4l2.3 -.1zM428 187.7l.8 2.2l2.3 .1l-1.8 1.4l.6 2.2l-1.9 -1.3l-1.9 1.3l.6 -2.2l-1.8 -1.4l2.3 -.1zM425.3 195l.8 2.2l2.3 .1l-1.8 1.4l.6 2.2l-1.9 -1.3l-1.9 1.3l.6 -2.2l-1.8 -1.4l2.3 -.1zM426.8 194.4l.8 2.2l2.3 .1l-1.8 1.4l.6 2.2l-1.9 -1.3l-1.9 1.3l.6 -2.2l-1.8 -1.4l2.3 -.1zM425.7 194l.8 2.2l2.3 .1l-1.8 1.4l.6 2.2l-1.9 -1.3l-1.9 1.3l.6 -2.2l-1.8 -1.4l2.3 -.1zM427.1 191.3l.8 2.2l2.3 .1l-1.8 1.4l.6 2.2l-1.9 -1.3l-1.9 1.3l.6 -2.2l-1.8 -1.4l2.3 -.1zM425.8 194.6l.8 2.2l2.3 .1l-1.8 1.4l.6 2.2l-1.9 -1.3l-1.9 1.3l.6 -2.2l-1.8 -1.4l2.3 -.1zM425.3 198l.8 2.2l2.3 .1l-1.8 1.4l.6 2.2l-1.9 -1.3l-1.9 1.3l.6 -2.2l-1.8 -1.4l2.3 -.1zM426.8 197.4l.8 2.2l2.3 .1l-1.8 1.4l.6 2.2l-1.9 -1.3l-1.9 1.3l.6 -2.2l-1.8 -1.4l2.3 -.1zM430.9 197.2l.8 2.2l2.3 .1l-1.8 1.4l.6 2.2l-1.9 -1.3l-1.9 1.3l.6 -2.2l-1.8 -1.4l2.3 -.1zM429.9 199l.8 2.2l2.3 .1l-1.8 1.4l.6 2.2l-1.9 -1.3l-1.9 1.3l.6 -2.2l-1.8 -1.4l2.3 -.1zM426.7 199.4l.8 2.2l2.3 .1l-1.8 1.4l.6 2.2l-1.9 -1.3l-1.9 1.3l.6 -2.2l-1.8 -1.4l2.3 -.1zM431 201.5l.8 2.2l2.3 .1l-1.8 1.4l.6 2.2l-1.9 -1.3l-1.9 1.3l.6 -2.2l-1.8 -1.4l2.3 -.1zM433.2 201.2l.8 2.2l2.3 .1l-1.8 1.4l.6 2.2l-1.9 -1.3l-1.9 1.3l.6 -2.2l-1.8 -1.4l2.3 -.1zM432.1 205.3l.8 2.2l2.3 .1l-1.8 1.4l.6 2.2l-1.9 -1.3l-1.9 1.3l.6 -2.2l-1.8 -1.4l2.3 -.1zM430.6 202.3l.8 2.2l2.3 .1l-1.8 1.4l.6 2.2l-1.9 -1.3l-1.9 1.3l.6 -2.2l-1.8 -1.4l2.3 -.1zM429.1 202.2l.8 2.2l2.3 .1l-1.8 1.4l.6 2.2l-1.9 -1.3l-1.9 1.3l.6 -2.2l-1.8 -1.4l2.3 -.1zM433.1 201.9l.8 2.2l2.3 .1l-1.8 1.4l.6 2.2l-1.9 -1.3l-1.9 1.3l.6 -2.2l-1.8 -1.4l2.3 -.1zM438 205.1l.8 2.2l2.3 .1l-1.8 1.4l.6 2.2l-1.9 -1.3l-1.9 1.3l.6 -2.2l-1.8 -1.4l2.3 -.1zM432.7 209l.8 2.2l2.3 .1l-1.8 1.4l.6 2.2l-1.9 -1.3l-1.9 1.3l.6 -2.2l-1.8 -1.4l2.3 -.1zM434.1 209.2l.8 2.2l2.3 .1l-1.8 1.4l.6 2.2l-1.9 -1.3l-1.9 1.3l.6 -2.2l-1.8 -1.4l2.3 -.1zM440.2 205.9l.8 2.2l2.3 .1l-1.8 1.4l.6 2.2l-1.9 -1.3l-1.9 1.3l.6 -2.2l-1.8 -1.4l2.3 -.1zM436.7 209.5l.8 2.2l2.3 .1l-1.8 1.4l.6 2.2l-1.9 -1.3l-1.9 1.3l.6 -2.2l-1.8 -1.4l2.3 -.1zM439.3 207.8l.8 2.2l2.3 .1l-1.8 1.4l.6 2.2l-1.9 -1.3l-1.9 1.3l.6 -2.2l-1.8 -1.4l2.3 -.1zM438.2 210.6l.8 2.2l2.3 .1l-1.8 1.4l.6 2.2l-1.9 -1.3l-1.9 1.3l.6 -2.2l-1.8 -1.4l2.3 -.1zM438.9 208.4l.8 2.2l2.3 .1l-1.8 1.4l.6 2.2l-1.9 -1.3l-1.9 1.3l.6 -2.2l-1.8 -1.4l2.3 -.1zM440.4 210.5l.8 2.2l2.3 .1l-1.8 1.4l.6 2.2l-1.9 -1.3l-1.9 1.3l.6 -2.2l-1.8 -1.4l2.3 -.1zM442 206.5l.8 2.2l2.3 .1l-1.8 1.4l.6 2.2l-1.9 -1.3l-1.9 1.3l.6 -2.2l-1.8 -1.4l2.3 -.1zM442.4 210.5l.8 2.2l2.3 .1l-1.8 1.4l.6 2.2l-1.9 -1.3l-1.9 1.3l.6 -2.2l-1.8 -1.4l2.3 -.1zM445.1 207.1l.8 2.2l2.3 .1l-1.8 1.4l.6 2.2l-1.9 -1.3l-1.9 1.3l.6 -2.2l-1.8 -1.4l2.3 -.1zM443.9 209.6l.8 2.2l2.3 .1l-1.8 1.4l.6 2.2l-1.9 -1.3l-1.9 1.3l.6 -2.2l-1.8 -1.4l2.3 -.1zM446.9 208.2l.8 2.2l2.3 .1l-1.8 1.4l.6 2.2l-1.9 -1.3l-1.9 1.3l.6 -2.2l-1.8 -1.4l2.3 -.1zM511.9 229.9l.8 2.2l2.3 .1l-1.8 1.4l.6 2.2l-1.9 -1.3l-1.9 1.3l.6 -2.2l-1.8 -1.4l2.3 -.1zM445.3 206.3l.8 2.2l2.3 .1l-1.8 1.4l.6 2.2l-1.9 -1.3l-1.9 1.3l.6 -2.2l-1.8 -1.4l2.3 -.1zM498.8 229.7l.8 2.2l2.3 .1l-1.8 1.4l.6 2.2l-1.9 -1.3l-1.9 1.3l.6 -2.2l-1.8 -1.4l2.3 -.1zM493.1 219.8l.8 2.2l2.3 .1l-1.8 1.4l.6 2.2l-1.9 -1.3l-1.9 1.3l.6 -2.2l-1.8 -1.4l2.3 -.1zM503.2 220.6l.8 2.2l2.3 .1l-1.8 1.4l.6 2.2l-1.9 -1.3l-1.9 1.3l.6 -2.2l-1.8 -1.4l2.3 -.1zM448.1 208.9l.8 2.2l2.3 .1l-1.8 1.4l.6 2.2l-1.9 -1.3l-1.9 1.3l.6 -2.2l-1.8 -1.4l2.3 -.1zM511.2 229.5l.8 2.2l2.3 .1l-1.8 1.4l.6 2.2l-1.9 -1.3l-1.9 1.3l.6 -2.2l-1.8 -1.4l2.3 -.1zM492 225.1l.8 2.2l2.3 .1l-1.8 1.4l.6 2.2l-1.9 -1.3l-1.9 1.3l.6 -2.2l-1.8 -1.4l2.3 -.1zM483.7 223.5l.8 2.2l2.3 .1l-1.8 1.4l.6 2.2l-1.9 -1.3l-1.9 1.3l.6 -2.2l-1.8 -1.4l2.3 -.1zM515.7 241.8l.8 2.2l2.3 .1l-1.8 1.4l.6 2.2l-1.9 -1.3l-1.9 1.3l.6 -2.2l-1.8 -1.4l2.3 -.1zM527.7 242.5l.8 2.2l2.3 .1l-1.8 1.4l.6 2.2l-1.9 -1.3l-1.9 1.3l.6 -2.2l-1.8 -1.4l2.3 -.1zM524.2 239.7l.8 2.2l2.3 .1l-1.8 1.4l.6 2.2l-1.9 -1.3l-1.9 1.3l.6 -2.2l-1.8 -1.4l2.3 -.1zM457.5 216.3l.8 2.2l2.3 .1l-1.8 1.4l.6 2.2l-1.9 -1.3l-1.9 1.3l.6 -2.2l-1.8 -1.4l2.3 -.1zM495.9 220.9l.8 2.2l2.3 .1l-1.8 1.4l.6 2.2l-1.9 -1.3l-1.9 1.3l.6 -2.2l-1.8 -1.4l2.3 -.1zM516.1 230.4l.8 2.2l2.3 .1l-1.8 1.4l.6 2.2l-1.9 -1.3l-1.9 1.3l.6 -2.2l-1.8 -1.4l2.3 -.1zM438.9 209.2l.8 2.2l2.3 .1l-1.8 1.4l.6 2.2l-1.9 -1.3l-1.9 1.3l.6 -2.2l-1.8 -1.4l2.3 -.1zM461.5 214.5l.8 2.2l2.3 .1l-1.8 1.4l.6 2.2l-1.9 -1.3l-1.9 1.3l.6 -2.2l-1.8 -1.4l2.3 -.1zM508.3 230.1l.8 2.2l2.3 .1l-1.8 1.4l.6 2.2l-1.9 -1.3l-1.9 1.3l.6 -2.2l-1.8 -1.4l2.3 -.1zM447.3 210.1l.8 2.2l2.3 .1l-1.8 1.4l.6 2.2l-1.9 -1.3l-1.9 1.3l.6 -2.2l-1.8 -1.4l2.3 -.1zM499.2 230l.8 2.2l2.3 .1l-1.8 1.4l.6 2.2l-1.9 -1.3l-1.9 1.3l.6 -2.2l-1.8 -1.4l2.3 -.1zM529.5 239.6l.8 2.2l2.3 .1l-1.8 1.4l.6 2.2l-1.9 -1.3l-1.9 1.3l.6 -2.2l-1.8 -1.4l2.3 -.1zM535.1 244l.8 2.2l2.3 .1l-1.8 1.4l.6 2.2l-1.9 -1.3l-1.9 1.3l.6 -2.2l-1.8 -1.4l2.3 -.1zM527.5 232.1l.8 2.2l2.3 .1l-1.8 1.4l.6 2.2l-1.9 -1.3l-1.9 1.3l.6 -2.2l-1.8 -1.4l2.3 -.1zM516.2 224.4l.8 2.2l2.3 .1l-1.8 1.4l.6 2.2l-1.9 -1.3l-1.9 1.3l.6 -2.2l-1.8 -1.4l2.3 -.1zM438.8 212.4l.8 2.2l2.3 .1l-1.8 1.4l.6 2.2l-1.9 -1.3l-1.9 1.3l.6 -2.2l-1.8 -1.4l2.3 -.1zM493.3 225.3l.8 2.2l2.3 .1l-1.8 1.4l.6 2.2l-1.9 -1.3l-1.9 1.3l.6 -2.2l-1.8 -1.4l2.3 -.1zM488.6 222.2l.8 2.2l2.3 .1l-1.8 1.4l.6 2.2l-1.9 -1.3l-1.9 1.3l.6 -2.2l-1.8 -1.4l2.3 -.1zM439.2 212.7l.8 2.2l2.3 .1l-1.8 1.4l.6 2.2l-1.9 -1.3l-1.9 1.3l.6 -2.2l-1.8 -1.4l2.3 -.1zM464.9 209.3l.8 2.2l2.3 .1l-1.8 1.4l.6 2.2l-1.9 -1.3l-1.9 1.3l.6 -2.2l-1.8 -1.4l2.3 -.1zM495.9 221.6l.8 2.2l2.3 .1l-1.8 1.4l.6 2.2l-1.9 -1.3l-1.9 1.3l.6 -2.2l-1.8 -1.4l2.3 -.1zM483.5 215.4l.8 2.2l2.3 .1l-1.8 1.4l.6 2.2l-1.9 -1.3l-1.9 1.3l.6 -2.2l-1.8 -1.4l2.3 -.1zM523.4 243.6l.8 2.2l2.3 .1l-1.8 1.4l.6 2.2l-1.9 -1.3l-1.9 1.3l.6 -2.2l-1.8 -1.4l2.3 -.1zM491.7 223l.8 2.2l2.3 .1l-1.8 1.4l.6 2.2l-1.9 -1.3l-1.9 1.3l.6 -2.2l-1.8 -1.4l2.3 -.1zM453.8 212.4l.8 2.2l2.3 .1l-1.8 1.4l.6 2.2l-1.9 -1.3l-1.9 1.3l.6 -2.2l-1.8 -1.4l2.3 -.1zM512.7 230.5l.8 2.2l2.3 .1l-1.8 1.4l.6 2.2l-1.9 -1.3l-1.9 1.3l.6 -2.2l-1.8 -1.4l2.3 -.1zM456.7 216l.8 2.2l2.3 .1l-1.8 1.4l.6 2.2l-1.9 -1.3l-1.9 1.3l.6 -2.2l-1.8 -1.4l2.3 -.1zM436.8 210.9l.8 2.2l2.3 .1l-1.8 1.4l.6 2.2l-1.9 -1.3l-1.9 1.3l.6 -2.2l-1.8 -1.4l2.3 -.1zM451.6 211.2l.8 2.2l2.3 .1l-1.8 1.4l.6 2.2l-1.9 -1.3l-1.9 1.3l.6 -2.2l-1.8 -1.4l2.3 -.1zM437.2 213.8l.8 2.2l2.3 .1l-1.8 1.4l.6 2.2l-1.9 -1.3l-1.9 1.3l.6 -2.2l-1.8 -1.4l2.3 -.1zM498.8 223.9l.8 2.2l2.3 .1l-1.8 1.4l.6 2.2l-1.9 -1.3l-1.9 1.3l.6 -2.2l-1.8 -1.4l2.3 -.1zM447.8 209.6l.8 2.2l2.3 .1l-1.8 1.4l.6 2.2l-1.9 -1.3l-1.9 1.3l.6 -2.2l-1.8 -1.4l2.3 -.1zM523.4 237.4l.8 2.2l2.3 .1l-1.8 1.4l.6 2.2l-1.9 -1.3l-1.9 1.3l.6 -2.2l-1.8 -1.4l2.3 -.1zM474.3 228.1l.8 2.2l2.3 .1l-1.8 1.4l.6 2.2l-1.9 -1.3l-1.9 1.3l.6 -2.2l-1.8 -1.4l2.3 -.1zM509.9 224.4l.8 2.2l2.3 .1l-1.8 1.4l.6 2.2l-1.9 -1.3l-1.9 1.3l.6 -2.2l-1.8 -1.4l2.3 -.1zM497.2 222.9l.8 2.2l2.3 .1l-1.8 1.4l.6 2.2l-1.9 -1.3l-1.9 1.3l.6 -2.2l-1.8 -1.4l2.3 -.1zM530.9 236.8l.8 2.2l2.3 .1l-1.8 1.4l.6 2.2l-1.9 -1.3l-1.9 1.3l.6 -2.2l-1.8 -1.4l2.3 -.1zM522.2 237.3l.8 2.2l2.3 .1l-1.8 1.4l.6 2.2l-1.9 -1.3l-1.9 1.3l.6 -2.2l-1.8 -1.4l2.3 -.1zM519.5 235.6l.8 2.2l2.3 .1l-1.8 1.4l.6 2.2l-1.9 -1.3l-1.9 1.3l.6 -2.2l-1.8 -1.4l2.3 -.1zM522.5 226.4l.8 2.2l2.3 .1l-1.8 1.4l.6 2.2l-1.9 -1.3l-1.9 1.3l.6 -2.2l-1.8 -1.4l2.3 -.1zM444.9 208.4l.8 2.2l2.3 .1l-1.8 1.4l.6 2.2l-1.9 -1.3l-1.9 1.3l.6 -2.2l-1.8 -1.4l2.3 -.1zM509.3 228.7l.8 2.2l2.3 .1l-1.8 1.4l.6 2.2l-1.9 -1.3l-1.9 1.3l.6 -2.2l-1.8 -1.4l2.3 -.1zM451.3 211.4l.8 2.2l2.3 .1l-1.8 1.4l.6 2.2l-1.9 -1.3l-1.9 1.3l.6 -2.2l-1.8 -1.4l2.3 -.1zM444.8 204.4l.8 2.2l2.3 .1l-1.8 1.4l.6 2.2l-1.9 -1.3l-1.9 1.3l.6 -2.2l-1.8 -1.4l2.3 -.1zM534.4 237.7l.8 2.2l2.3 .1l-1.8 1.4l.6 2.2l-1.9 -1.3l-1.9 1.3l.6 -2.2l-1.8 -1.4l2.3 -.1zM516.8 230.5l.8 2.2l2.3 .1l-1.8 1.4l.6 2.2l-1.9 -1.3l-1.9 1.3l.6 -2.2l-1.8 -1.4l2.3 -.1zM507.2 228.3l.8 2.2l2.3 .1l-1.8 1.4l.6 2.2l-1.9 -1.3l-1.9 1.3l.6 -2.2l-1.8 -1.4l2.3 -.1zM498.4 219.6l.8 2.2l2.3 .1l-1.8 1.4l.6 2.2l-1.9 -1.3l-1.9 1.3l.6 -2.2l-1.8 -1.4l2.3 -.1zM533.2 245.3l.8 2.2l2.3 .1l-1.8 1.4l.6 2.2l-1.9 -1.3l-1.9 1.3l.6 -2.2l-1.8 -1.4l2.3 -.1zM512 228l.8 2.2l2.3 .1l-1.8 1.4l.6 2.2l-1.9 -1.3l-1.9 1.3l.6 -2.2l-1.8 -1.4l2.3 -.1zM471.3 206.9l.8 2.2l2.3 .1l-1.8 1.4l.6 2.2l-1.9 -1.3l-1.9 1.3l.6 -2.2l-1.8 -1.4l2.3 -.1zM515.5 225.8l.8 2.2l2.3 .1l-1.8 1.4l.6 2.2l-1.9 -1.3l-1.9 1.3l.6 -2.2l-1.8 -1.4l2.3 -.1zM515.5 240.7l.8 2.2l2.3 .1l-1.8 1.4l.6 2.2l-1.9 -1.3l-1.9 1.3l.6 -2.2l-1.8 -1.4l2.3 -.1zM534.5 242l.8 2.2l2.3 .1l-1.8 1.4l.6 2.2l-1.9 -1.3l-1.9 1.3l.6 -2.2l-1.8 -1.4l2.3 -.1zM438 203.4l.8 2.2l2.3 .1l-1.8 1.4l.6 2.2l-1.9 -1.3l-1.9 1.3l.6 -2.2l-1.8 -1.4l2.3 -.1zM508.7 228.2l.8 2.2l2.3 .1l-1.8 1.4l.6 2.2l-1.9 -1.3l-1.9 1.3l.6 -2.2l-1.8 -1.4l2.3 -.1zM474.9 211.3l.8 2.2l2.3 .1l-1.8 1.4l.6 2.2l-1.9 -1.3l-1.9 1.3l.6 -2.2l-1.8 -1.4l2.3 -.1zM447.1 202.7l.8 2.2l2.3 .1l-1.8 1.4l.6 2.2l-1.9 -1.3l-1.9 1.3l.6 -2.2l-1.8 -1.4l2.3 -.1zM471.4 218.6l.8 2.2l2.3 .1l-1.8 1.4l.6 2.2l-1.9 -1.3l-1.9 1.3l.6 -2.2l-1.8 -1.4l2.3 -.1zM518.7 231.8l.8 2.2l2.3 .1l-1.8 1.4l.6 2.2l-1.9 -1.3l-1.9 1.3l.6 -2.2l-1.8 -1.4l2.3 -.1zM484.3 216.3l.8 2.2l2.3 .1l-1.8 1.4l.6 2.2l-1.9 -1.3l-1.9 1.3l.6 -2.2l-1.8 -1.4l2.3 -.1zM535.1 243.5l.8 2.2l2.3 .1l-1.8 1.4l.6 2.2l-1.9 -1.3l-1.9 1.3l.6 -2.2l-1.8 -1.4l2.3 -.1zM468.1 220.8l.8 2.2l2.3 .1l-1.8 1.4l.6 2.2l-1.9 -1.3l-1.9 1.3l.6 -2.2l-1.8 -1.4l2.3 -.1zM481.2 222.3l.8 2.2l2.3 .1l-1.8 1.4l.6 2.2l-1.9 -1.3l-1.9 1.3l.6 -2.2l-1.8 -1.4l2.3 -.1zM457 216.4l.8 2.2l2.3 .1l-1.8 1.4l.6 2.2l-1.9 -1.3l-1.9 1.3l.6 -2.2l-1.8 -1.4l2.3 -.1zM535.9 244.2l.8 2.2l2.3 .1l-1.8 1.4l.6 2.2l-1.9 -1.3l-1.9 1.3l.6 -2.2l-1.8 -1.4l2.3 -.1zM495.5 220.6l.8 2.2l2.3 .1l-1.8 1.4l.6 2.2l-1.9 -1.3l-1.9 1.3l.6 -2.2l-1.8 -1.4l2.3 -.1zM485.8 226.2l.8 2.2l2.3 .1l-1.8 1.4l.6 2.2l-1.9 -1.3l-1.9 1.3l.6 -2.2l-1.8 -1.4l2.3 -.1zM449 208.7l.8 2.2l2.3 .1l-1.8 1.4l.6 2.2l-1.9 -1.3l-1.9 1.3l.6 -2.2l-1.8 -1.4l2.3 -.1zM476.9 220.5l.8 2.2l2.3 .1l-1.8 1.4l.6 2.2l-1.9 -1.3l-1.9 1.3l.6 -2.2l-1.8 -1.4l2.3 -.1zM450.5 210.6l.8 2.2l2.3 .1l-1.8 1.4l.6 2.2l-1.9 -1.3l-1.9 1.3l.6 -2.2l-1.8 -1.4l2.3 -.1zM508.9 224.5l.8 2.2l2.3 .1l-1.8 1.4l.6 2.2l-1.9 -1.3l-1.9 1.3l.6 -2.2l-1.8 -1.4l2.3 -.1zM529.2 232.5l.8 2.2l2.3 .1l-1.8 1.4l.6 2.2l-1.9 -1.3l-1.9 1.3l.6 -2.2l-1.8 -1.4l2.3 -.1zM517.6 233.3l.8 2.2l2.3 .1l-1.8 1.4l.6 2.2l-1.9 -1.3l-1.9 1.3l.6 -2.2l-1.8 -1.4l2.3 -.1zM442.3 208.4l.8 2.2l2.3 .1l-1.8 1.4l.6 2.2l-1.9 -1.3l-1.9 1.3l.6 -2.2l-1.8 -1.4l2.3 -.1zM516.4 234.3l.8 2.2l2.3 .1l-1.8 1.4l.6 2.2l-1.9 -1.3l-1.9 1.3l.6 -2.2l-1.8 -1.4l2.3 -.1zM442.3 206.2l.8 2.2l2.3 .1l-1.8 1.4l.6 2.2l-1.9 -1.3l-1.9 1.3l.6 -2.2l-1.8 -1.4l2.3 -.1zM474.6 211.5l.8 2.2l2.3 .1l-1.8 1.4l.6 2.2l-1.9 -1.3l-1.9 1.3l.6 -2.2l-1.8 -1.4l2.3 -.1zM448.6 206.5l.8 2.2l2.3 .1l-1.8 1.4l.6 2.2l-1.9 -1.3l-1.9 1.3l.6 -2.2l-1.8 -1.4l2.3 -.1zM481.5 215.7l.8 2.2l2.3 .1l-1.8 1.4l.6 2.2l-1.9 -1.3l-1.9 1.3l.6 -2.2l-1.8 -1.4l2.3 -.1zM461.8 213.5l.8 2.2l2.3 .1l-1.8 1.4l.6 2.2l-1.9 -1.3l-1.9 1.3l.6 -2.2l-1.8 -1.4l2.3 -.1zM530.8 238l.8 2.2l2.3 .1l-1.8 1.4l.6 2.2l-1.9 -1.3l-1.9 1.3l.6 -2.2l-1.8 -1.4l2.3 -.1zM513.4 234.7l.8 2.2l2.3 .1l-1.8 1.4l.6 2.2l-1.9 -1.3l-1.9 1.3l.6 -2.2l-1.8 -1.4l2.3 -.1zM519.1 231.4l.8 2.2l2.3 .1l-1.8 1.4l.6 2.2l-1.9 -1.3l-1.9 1.3l.6 -2.2l-1.8 -1.4l2.3 -.1zM440.6 213.3l.8 2.2l2.3 .1l-1.8 1.4l.6 2.2l-1.9 -1.3l-1.9 1.3l.6 -2.2l-1.8 -1.4l2.3 -.1zM511.1 236.7l.8 2.2l2.3 .1l-1.8 1.4l.6 2.2l-1.9 -1.3l-1.9 1.3l.6 -2.2l-1.8 -1.4l2.3 -.1zM530.5 237.6l.8 2.2l2.3 .1l-1.8 1.4l.6 2.2l-1.9 -1.3l-1.9 1.3l.6 -2.2l-1.8 -1.4l2.3 -.1zM491.4 217.1l.8 2.2l2.3 .1l-1.8 1.4l.6 2.2l-1.9 -1.3l-1.9 1.3l.6 -2.2l-1.8 -1.4l2.3 -.1zM530.2 238.5l.8 2.2l2.3 .1l-1.8 1.4l.6 2.2l-1.9 -1.3l-1.9 1.3l.6 -2.2l-1.8 -1.4l2.3 -.1zM467.7 213.1l.8 2.2l2.3 .1l-1.8 1.4l.6 2.2l-1.9 -1.3l-1.9 1.3l.6 -2.2l-1.8 -1.4l2.3 -.1zM517.1 230.5l.8 2.2l2.3 .1l-1.8 1.4l.6 2.2l-1.9 -1.3l-1.9 1.3l.6 -2.2l-1.8 -1.4l2.3 -.1zM438.6 201.6l.8 2.2l2.3 .1l-1.8 1.4l.6 2.2l-1.9 -1.3l-1.9 1.3l.6 -2.2l-1.8 -1.4l2.3 -.1zM439 206l.8 2.2l2.3 .1l-1.8 1.4l.6 2.2l-1.9 -1.3l-1.9 1.3l.6 -2.2l-1.8 -1.4l2.3 -.1zM490.3 219.8l.8 2.2l2.3 .1l-1.8 1.4l.6 2.2l-1.9 -1.3l-1.9 1.3l.6 -2.2l-1.8 -1.4l2.3 -.1zM495.8 227.2l.8 2.2l2.3 .1l-1.8 1.4l.6 2.2l-1.9 -1.3l-1.9 1.3l.6 -2.2l-1.8 -1.4l2.3 -.1zM511.4 227.2l.8 2.2l2.3 .1l-1.8 1.4l.6 2.2l-1.9 -1.3l-1.9 1.3l.6 -2.2l-1.8 -1.4l2.3 -.1zM495.5 221.9l.8 2.2l2.3 .1l-1.8 1.4l.6 2.2l-1.9 -1.3l-1.9 1.3l.6 -2.2l-1.8 -1.4l2.3 -.1zM509.7 230l.8 2.2l2.3 .1l-1.8 1.4l.6 2.2l-1.9 -1.3l-1.9 1.3l.6 -2.2l-1.8 -1.4l2.3 -.1zM478.9 221.4l.8 2.2l2.3 .1l-1.8 1.4l.6 2.2l-1.9 -1.3l-1.9 1.3l.6 -2.2l-1.8 -1.4l2.3 -.1zM438.6 210.8l.8 2.2l2.3 .1l-1.8 1.4l.6 2.2l-1.9 -1.3l-1.9 1.3l.6 -2.2l-1.8 -1.4l2.3 -.1zM508.6 233.8l.8 2.2l2.3 .1l-1.8 1.4l.6 2.2l-1.9 -1.3l-1.9 1.3l.6 -2.2l-1.8 -1.4l2.3 -.1zM506.7 224.8l.8 2.2l2.3 .1l-1.8 1.4l.6 2.2l-1.9 -1.3l-1.9 1.3l.6 -2.2l-1.8 -1.4l2.3 -.1zM481 216.9l.8 2.2l2.3 .1l-1.8 1.4l.6 2.2l-1.9 -1.3l-1.9 1.3l.6 -2.2l-1.8 -1.4l2.3 -.1zM479.6 219.5l.8 2.2l2.3 .1l-1.8 1.4l.6 2.2l-1.9 -1.3l-1.9 1.3l.6 -2.2l-1.8 -1.4l2.3 -.1zM490.6 218.9l.8 2.2l2.3 .1l-1.8 1.4l.6 2.2l-1.9 -1.3l-1.9 1.3l.6 -2.2l-1.8 -1.4l2.3 -.1zM441.5 212.1l.8 2.2l2.3 .1l-1.8 1.4l.6 2.2l-1.9 -1.3l-1.9 1.3l.6 -2.2l-1.8 -1.4l2.3 -.1zM448.1 210.6l.8 2.2l2.3 .1l-1.8 1.4l.6 2.2l-1.9 -1.3l-1.9 1.3l.6 -2.2l-1.8 -1.4l2.3 -.1zM521.6 234.9l.8 2.2l2.3 .1l-1.8 1.4l.6 2.2l-1.9 -1.3l-1.9 1.3l.6 -2.2l-1.8 -1.4l2.3 -.1zM491.3 222.7l.8 2.2l2.3 .1l-1.8 1.4l.6 2.2l-1.9 -1.3l-1.9 1.3l.6 -2.2l-1.8 -1.4l2.3 -.1zM446.5 213.2l.8 2.2l2.3 .1l-1.8 1.4l.6 2.2l-1.9 -1.3l-1.9 1.3l.6 -2.2l-1.8 -1.4l2.3 -.1zM504.1 229.5l.8 2.2l2.3 .1l-1.8 1.4l.6 2.2l-1.9 -1.3l-1.9 1.3l.6 -2.2l-1.8 -1.4l2.3 -.1zM535.5 247.3l.8 2.2l2.3 .1l-1.8 1.4l.6 2.2l-1.9 -1.3l-1.9 1.3l.6 -2.2l-1.8 -1.4l2.3 -.1zM509.5 228.6l.8 2.2l2.3 .1l-1.8 1.4l.6 2.2l-1.9 -1.3l-1.9 1.3l.6 -2.2l-1.8 -1.4l2.3 -.1zM450.8 211.8l.8 2.2l2.3 .1l-1.8 1.4l.6 2.2l-1.9 -1.3l-1.9 1.3l.6 -2.2l-1.8 -1.4l2.3 -.1zM521.6 235.1l.8 2.2l2.3 .1l-1.8 1.4l.6 2.2l-1.9 -1.3l-1.9 1.3l.6 -2.2l-1.8 -1.4l2.3 -.1zM459.3 207.8l.8 2.2l2.3 .1l-1.8 1.4l.6 2.2l-1.9 -1.3l-1.9 1.3l.6 -2.2l-1.8 -1.4l2.3 -.1zM507.5 227.5l.8 2.2l2.3 .1l-1.8 1.4l.6 2.2l-1.9 -1.3l-1.9 1.3l.6 -2.2l-1.8 -1.4l2.3 -.1zM458.5 214.6l.8 2.2l2.3 .1l-1.8 1.4l.6 2.2l-1.9 -1.3l-1.9 1.3l.6 -2.2l-1.8 -1.4l2.3 -.1zM443 206l.8 2.2l2.3 .1l-1.8 1.4l.6 2.2l-1.9 -1.3l-1.9 1.3l.6 -2.2l-1.8 -1.4l2.3 -.1zM486 218.7l.8 2.2l2.3 .1l-1.8 1.4l.6 2.2l-1.9 -1.3l-1.9 1.3l.6 -2.2l-1.8 -1.4l2.3 -.1zM464.3 218.4l.8 2.2l2.3 .1l-1.8 1.4l.6 2.2l-1.9 -1.3l-1.9 1.3l.6 -2.2l-1.8 -1.4l2.3 -.1zM492.5 214.6l.8 2.2l2.3 .1l-1.8 1.4l.6 2.2l-1.9 -1.3l-1.9 1.3l.6 -2.2l-1.8 -1.4l2.3 -.1zM440.9 208.5l.8 2.2l2.3 .1l-1.8 1.4l.6 2.2l-1.9 -1.3l-1.9 1.3l.6 -2.2l-1.8 -1.4l2.3 -.1zM487.8 223.6l.8 2.2l2.3 .1l-1.8 1.4l.6 2.2l-1.9 -1.3l-1.9 1.3l.6 -2.2l-1.8 -1.4l2.3 -.1zM517.1 232.3l.8 2.2l2.3 .1l-1.8 1.4l.6 2.2l-1.9 -1.3l-1.9 1.3l.6 -2.2l-1.8 -1.4l2.3 -.1zM518.5 236.1l.8 2.2l2.3 .1l-1.8 1.4l.6 2.2l-1.9 -1.3l-1.9 1.3l.6 -2.2l-1.8 -1.4l2.3 -.1zM492.2 222.9l.8 2.2l2.3 .1l-1.8 1.4l.6 2.2l-1.9 -1.3l-1.9 1.3l.6 -2.2l-1.8 -1.4l2.3 -.1zM535.2 244l.8 2.2l2.3 .1l-1.8 1.4l.6 2.2l-1.9 -1.3l-1.9 1.3l.6 -2.2l-1.8 -1.4l2.3 -.1zM471.6 220l.8 2.2l2.3 .1l-1.8 1.4l.6 2.2l-1.9 -1.3l-1.9 1.3l.6 -2.2l-1.8 -1.4l2.3 -.1zM513.8 227.2l.8 2.2l2.3 .1l-1.8 1.4l.6 2.2l-1.9 -1.3l-1.9 1.3l.6 -2.2l-1.8 -1.4l2.3 -.1zM506.5 220.5l.8 2.2l2.3 .1l-1.8 1.4l.6 2.2l-1.9 -1.3l-1.9 1.3l.6 -2.2l-1.8 -1.4l2.3 -.1zM446.3 214.3l.8 2.2l2.3 .1l-1.8 1.4l.6 2.2l-1.9 -1.3l-1.9 1.3l.6 -2.2l-1.8 -1.4l2.3 -.1zM487.2 212.9l.8 2.2l2.3 .1l-1.8 1.4l.6 2.2l-1.9 -1.3l-1.9 1.3l.6 -2.2l-1.8 -1.4l2.3 -.1zM468 214.7l.8 2.2l2.3 .1l-1.8 1.4l.6 2.2l-1.9 -1.3l-1.9 1.3l.6 -2.2l-1.8 -1.4l2.3 -.1zM500.8 236l.8 2.2l2.3 .1l-1.8 1.4l.6 2.2l-1.9 -1.3l-1.9 1.3l.6 -2.2l-1.8 -1.4l2.3 -.1zM436.3 204.2l.8 2.2l2.3 .1l-1.8 1.4l.6 2.2l-1.9 -1.3l-1.9 1.3l.6 -2.2l-1.8 -1.4l2.3 -.1zM449.4 213l.8 2.2l2.3 .1l-1.8 1.4l.6 2.2l-1.9 -1.3l-1.9 1.3l.6 -2.2l-1.8 -1.4l2.3 -.1zM498.3 226.2l.8 2.2l2.3 .1l-1.8 1.4l.6 2.2l-1.9 -1.3l-1.9 1.3l.6 -2.2l-1.8 -1.4l2.3 -.1zM465.2 215.4l.8 2.2l2.3 .1l-1.8 1.4l.6 2.2l-1.9 -1.3l-1.9 1.3l.6 -2.2l-1.8 -1.4l2.3 -.1zM477 211.3l.8 2.2l2.3 .1l-1.8 1.4l.6 2.2l-1.9 -1.3l-1.9 1.3l.6 -2.2l-1.8 -1.4l2.3 -.1zM459.9 210.6l.8 2.2l2.3 .1l-1.8 1.4l.6 2.2l-1.9 -1.3l-1.9 1.3l.6 -2.2l-1.8 -1.4l2.3 -.1zM512.8 230.6l.8 2.2l2.3 .1l-1.8 1.4l.6 2.2l-1.9 -1.3l-1.9 1.3l.6 -2.2l-1.8 -1.4l2.3 -.1zM523.3 246.3l.8 2.2l2.3 .1l-1.8 1.4l.6 2.2l-1.9 -1.3l-1.9 1.3l.6 -2.2l-1.8 -1.4l2.3 -.1zM462.2 219.9l.8 2.2l2.3 .1l-1.8 1.4l.6 2.2l-1.9 -1.3l-1.9 1.3l.6 -2.2l-1.8 -1.4l2.3 -.1zM500.5 225l.8 2.2l2.3 .1l-1.8 1.4l.6 2.2l-1.9 -1.3l-1.9 1.3l.6 -2.2l-1.8 -1.4l2.3 -.1zM527.2 232.7l.8 2.2l2.3 .1l-1.8 1.4l.6 2.2l-1.9 -1.3l-1.9 1.3l.6 -2.2l-1.8 -1.4l2.3 -.1zM443.9 206.8l.8 2.2l2.3 .1l-1.8 1.4l.6 2.2l-1.9 -1.3l-1.9 1.3l.6 -2.2l-1.8 -1.4l2.3 -.1zM465.3 208l.8 2.2l2.3 .1l-1.8 1.4l.6 2.2l-1.9 -1.3l-1.9 1.3l.6 -2.2l-1.8 -1.4l2.3 -.1zM459.9 211l.8 2.2l2.3 .1l-1.8 1.4l.6 2.2l-1.9 -1.3l-1.9 1.3l.6 -2.2l-1.8 -1.4l2.3 -.1zM473.7 219.9l.8 2.2l2.3 .1l-1.8 1.4l.6 2.2l-1.9 -1.3l-1.9 1.3l.6 -2.2l-1.8 -1.4l2.3 -.1zM508.1 231.9l.8 2.2l2.3 .1l-1.8 1.4l.6 2.2l-1.9 -1.3l-1.9 1.3l.6 -2.2l-1.8 -1.4l2.3 -.1zM473.4 213.6l.8 2.2l2.3 .1l-1.8 1.4l.6 2.2l-1.9 -1.3l-1.9 1.3l.6 -2.2l-1.8 -1.4l2.3 -.1zM470.8 221.6l.8 2.2l2.3 .1l-1.8 1.4l.6 2.2l-1.9 -1.3l-1.9 1.3l.6 -2.2l-1.8 -1.4l2.3 -.1zM468.6 219.9l.8 2.2l2.3 .1l-1.8 1.4l.6 2.2l-1.9 -1.3l-1.9 1.3l.6 -2.2l-1.8 -1.4l2.3 -.1zM486.9 221.3l.8 2.2l2.3 .1l-1.8 1.4l.6 2.2l-1.9 -1.3l-1.9 1.3l.6 -2.2l-1.8 -1.4l2.3 -.1zM453.2 213.7l.8 2.2l2.3 .1l-1.8 1.4l.6 2.2l-1.9 -1.3l-1.9 1.3l.6 -2.2l-1.8 -1.4l2.3 -.1zM454.1 213.7l.8 2.2l2.3 .1l-1.8 1.4l.6 2.2l-1.9 -1.3l-1.9 1.3l.6 -2.2l-1.8 -1.4l2.3 -.1zM493.1 220l.8 2.2l2.3 .1l-1.8 1.4l.6 2.2l-1.9 -1.3l-1.9 1.3l.6 -2.2l-1.8 -1.4l2.3 -.1zM500 228.6l.8 2.2l2.3 .1l-1.8 1.4l.6 2.2l-1.9 -1.3l-1.9 1.3l.6 -2.2l-1.8 -1.4l2.3 -.1zM533.7 247.6l.8 2.2l2.3 .1l-1.8 1.4l.6 2.2l-1.9 -1.3l-1.9 1.3l.6 -2.2l-1.8 -1.4l2.3 -.1zM440 207.7l.8 2.2l2.3 .1l-1.8 1.4l.6 2.2l-1.9 -1.3l-1.9 1.3l.6 -2.2l-1.8 -1.4l2.3 -.1zM481 216l.8 2.2l2.3 .1l-1.8 1.4l.6 2.2l-1.9 -1.3l-1.9 1.3l.6 -2.2l-1.8 -1.4l2.3 -.1zM488.8 224.3l.8 2.2l2.3 .1l-1.8 1.4l.6 2.2l-1.9 -1.3l-1.9 1.3l.6 -2.2l-1.8 -1.4l2.3 -.1zM437.2 204.6l.8 2.2l2.3 .1l-1.8 1.4l.6 2.2l-1.9 -1.3l-1.9 1.3l.6 -2.2l-1.8 -1.4l2.3 -.1zM519.4 233.3l.8 2.2l2.3 .1l-1.8 1.4l.6 2.2l-1.9 -1.3l-1.9 1.3l.6 -2.2l-1.8 -1.4l2.3 -.1zM502.1 229.5l.8 2.2l2.3 .1l-1.8 1.4l.6 2.2l-1.9 -1.3l-1.9 1.3l.6 -2.2l-1.8 -1.4l2.3 -.1zM448.3 212.5l.8 2.2l2.3 .1l-1.8 1.4l.6 2.2l-1.9 -1.3l-1.9 1.3l.6 -2.2l-1.8 -1.4l2.3 -.1zM474.6 217.8l.8 2.2l2.3 .1l-1.8 1.4l.6 2.2l-1.9 -1.3l-1.9 1.3l.6 -2.2l-1.8 -1.4l2.3 -.1zM483.1 227.7l.8 2.2l2.3 .1l-1.8 1.4l.6 2.2l-1.9 -1.3l-1.9 1.3l.6 -2.2l-1.8 -1.4l2.3 -.1zM477.7 219.4l.8 2.2l2.3 .1l-1.8 1.4l.6 2.2l-1.9 -1.3l-1.9 1.3l.6 -2.2l-1.8 -1.4l2.3 -.1zM514.5 232.6l.8 2.2l2.3 .1l-1.8 1.4l.6 2.2l-1.9 -1.3l-1.9 1.3l.6 -2.2l-1.8 -1.4l2.3 -.1zM464.7 219.8l.8 2.2l2.3 .1l-1.8 1.4l.6 2.2l-1.9 -1.3l-1.9 1.3l.6 -2.2l-1.8 -1.4l2.3 -.1zM472.7 211.3l.8 2.2l2.3 .1l-1.8 1.4l.6 2.2l-1.9 -1.3l-1.9 1.3l.6 -2.2l-1.8 -1.4l2.3 -.1zM451.8 209.5l.8 2.2l2.3 .1l-1.8 1.4l.6 2.2l-1.9 -1.3l-1.9 1.3l.6 -2.2l-1.8 -1.4l2.3 -.1zM453.5 210.3l.8 2.2l2.3 .1l-1.8 1.4l.6 2.2l-1.9 -1.3l-1.9 1.3l.6 -2.2l-1.8 -1.4l2.3 -.1zM487.5 221.3l.8 2.2l2.3 .1l-1.8 1.4l.6 2.2l-1.9 -1.3l-1.9 1.3l.6 -2.2l-1.8 -1.4l2.3 -.1zM492.5 222.6l.8 2.2l2.3 .1l-1.8 1.4l.6 2.2l-1.9 -1.3l-1.9 1.3l.6 -2.2l-1.8 -1.4l2.3 -.1zM521.9 239.2l.8 2.2l2.3 .1l-1.8 1.4l.6 2.2l-1.9 -1.3l-1.9 1.3l.6 -2.2l-1.8 -1.4l2.3 -.1zM500.2 218.1l.8 2.2l2.3 .1l-1.8 1.4l.6 2.2l-1.9 -1.3l-1.9 1.3l.6 -2.2l-1.8 -1.4l2.3 -.1zM481.7 214.4l.8 2.2l2.3 .1l-1.8 1.4l.6 2.2l-1.9 -1.3l-1.9 1.3l.6 -2.2l-1.8 -1.4l2.3 -.1zM446.2 209.9l.8 2.2l2.3 .1l-1.8 1.4l.6 2.2l-1.9 -1.3l-1.9 1.3l.6 -2.2l-1.8 -1.4l2.3 -.1zM482 218.8l.8 2.2l2.3 .1l-1.8 1.4l.6 2.2l-1.9 -1.3l-1.9 1.3l.6 -2.2l-1.8 -1.4l2.3 -.1zM449.1 205.4l.8 2.2l2.3 .1l-1.8 1.4l.6 2.2l-1.9 -1.3l-1.9 1.3l.6 -2.2l-1.8 -1.4l2.3 -.1zM533.1 245.5l.8 2.2l2.3 .1l-1.8 1.4l.6 2.2l-1.9 -1.3l-1.9 1.3l.6 -2.2l-1.8 -1.4l2.3 -.1zM486.3 221.6l.8 2.2l2.3 .1l-1.8 1.4l.6 2.2l-1.9 -1.3l-1.9 1.3l.6 -2.2l-1.8 -1.4l2.3 -.1zM463.9 217.1l.8 2.2l2.3 .1l-1.8 1.4l.6 2.2l-1.9 -1.3l-1.9 1.3l.6 -2.2l-1.8 -1.4l2.3 -.1zM490.8 216.7l.8 2.2l2.3 .1l-1.8 1.4l.6 2.2l-1.9 -1.3l-1.9 1.3l.6 -2.2l-1.8 -1.4l2.3 -.1zM526.7 237.5l.8 2.2l2.3 .1l-1.8 1.4l.6 2.2l-1.9 -1.3l-1.9 1.3l.6 -2.2l-1.8 -1.4l2.3 -.1zM470.9 221.2l.8 2.2l2.3 .1l-1.8 1.4l.6 2.2l-1.9 -1.3l-1.9 1.3l.6 -2.2l-1.8 -1.4l2.3 -.1zM502.3 221.5l.8 2.2l2.3 .1l-1.8 1.4l.6 2.2l-1.9 -1.3l-1.9 1.3l.6 -2.2l-1.8 -1.4l2.3 -.1zM496.5 229.4l.8 2.2l2.3 .1l-1.8 1.4l.6 2.2l-1.9 -1.3l-1.9 1.3l.6 -2.2l-1.8 -1.4l2.3 -.1zM483.4 219.9l.8 2.2l2.3 .1l-1.8 1.4l.6 2.2l-1.9 -1.3l-1.9 1.3l.6 -2.2l-1.8 -1.4l2.3 -.1zM471.1 209.8l.8 2.2l2.3 .1l-1.8 1.4l.6 2.2l-1.9 -1.3l-1.9 1.3l.6 -2.2l-1.8 -1.4l2.3 -.1zM498.4 230.2l.8 2.2l2.3 .1l-1.8 1.4l.6 2.2l-1.9 -1.3l-1.9 1.3l.6 -2.2l-1.8 -1.4l2.3 -.1zM477.8 220.4l.8 2.2l2.3 .1l-1.8 1.4l.6 2.2l-1.9 -1.3l-1.9 1.3l.6 -2.2l-1.8 -1.4l2.3 -.1zM464.5 223.5l.8 2.2l2.3 .1l-1.8 1.4l.6 2.2l-1.9 -1.3l-1.9 1.3l.6 -2.2l-1.8 -1.4l2.3 -.1zM527.5 238.7l.8 2.2l2.3 .1l-1.8 1.4l.6 2.2l-1.9 -1.3l-1.9 1.3l.6 -2.2l-1.8 -1.4l2.3 -.1zM535.1 240.1l.8 2.2l2.3 .1l-1.8 1.4l.6 2.2l-1.9 -1.3l-1.9 1.3l.6 -2.2l-1.8 -1.4l2.3 -.1zM451.7 207.2l.8 2.2l2.3 .1l-1.8 1.4l.6 2.2l-1.9 -1.3l-1.9 1.3l.6 -2.2l-1.8 -1.4l2.3 -.1zM485.8 219.9l.8 2.2l2.3 .1l-1.8 1.4l.6 2.2l-1.9 -1.3l-1.9 1.3l.6 -2.2l-1.8 -1.4l2.3 -.1zM478.4 208.7l.8 2.2l2.3 .1l-1.8 1.4l.6 2.2l-1.9 -1.3l-1.9 1.3l.6 -2.2l-1.8 -1.4l2.3 -.1zM445 209.1l.8 2.2l2.3 .1l-1.8 1.4l.6 2.2l-1.9 -1.3l-1.9 1.3l.6 -2.2l-1.8 -1.4l2.3 -.1zM489.3 222.7l.8 2.2l2.3 .1l-1.8 1.4l.6 2.2l-1.9 -1.3l-1.9 1.3l.6 -2.2l-1.8 -1.4l2.3 -.1zM447.7 214.1l.8 2.2l2.3 .1l-1.8 1.4l.6 2.2l-1.9 -1.3l-1.9 1.3l.6 -2.2l-1.8 -1.4l2.3 -.1zM500.6 221.2l.8 2.2l2.3 .1l-1.8 1.4l.6 2.2l-1.9 -1.3l-1.9 1.3l.6 -2.2l-1.8 -1.4l2.3 -.1zM471 218l.8 2.2l2.3 .1l-1.8 1.4l.6 2.2l-1.9 -1.3l-1.9 1.3l.6 -2.2l-1.8 -1.4l2.3 -.1zM504.4 228.9l.8 2.2l2.3 .1l-1.8 1.4l.6 2.2l-1.9 -1.3l-1.9 1.3l.6 -2.2l-1.8 -1.4l2.3 -.1zM524.7 232.2l.8 2.2l2.3 .1l-1.8 1.4l.6 2.2l-1.9 -1.3l-1.9 1.3l.6 -2.2l-1.8 -1.4l2.3 -.1zM524.9 235.3l.8 2.2l2.3 .1l-1.8 1.4l.6 2.2l-1.9 -1.3l-1.9 1.3l.6 -2.2l-1.8 -1.4l2.3 -.1zM482.6 222.5l.8 2.2l2.3 .1l-1.8 1.4l.6 2.2l-1.9 -1.3l-1.9 1.3l.6 -2.2l-1.8 -1.4l2.3 -.1zM438.2 207.9l.8 2.2l2.3 .1l-1.8 1.4l.6 2.2l-1.9 -1.3l-1.9 1.3l.6 -2.2l-1.8 -1.4l2.3 -.1zM503.5 221.8l.8 2.2l2.3 .1l-1.8 1.4l.6 2.2l-1.9 -1.3l-1.9 1.3l.6 -2.2l-1.8 -1.4l2.3 -.1zM516.1 233.6l.8 2.2l2.3 .1l-1.8 1.4l.6 2.2l-1.9 -1.3l-1.9 1.3l.6 -2.2l-1.8 -1.4l2.3 -.1zM486.5 217.6l.8 2.2l2.3 .1l-1.8 1.4l.6 2.2l-1.9 -1.3l-1.9 1.3l.6 -2.2l-1.8 -1.4l2.3 -.1zM502.5 229.1l.8 2.2l2.3 .1l-1.8 1.4l.6 2.2l-1.9 -1.3l-1.9 1.3l.6 -2.2l-1.8 -1.4l2.3 -.1zM444.6 209l.8 2.2l2.3 .1l-1.8 1.4l.6 2.2l-1.9 -1.3l-1.9 1.3l.6 -2.2l-1.8 -1.4l2.3 -.1zM534.9 247.2l.8 2.2l2.3 .1l-1.8 1.4l.6 2.2l-1.9 -1.3l-1.9 1.3l.6 -2.2l-1.8 -1.4l2.3 -.1zM527.9 239l.8 2.2l2.3 .1l-1.8 1.4l.6 2.2l-1.9 -1.3l-1.9 1.3l.6 -2.2l-1.8 -1.4l2.3 -.1zM462.3 218.7l.8 2.2l2.3 .1l-1.8 1.4l.6 2.2l-1.9 -1.3l-1.9 1.3l.6 -2.2l-1.8 -1.4l2.3 -.1zM533.6 244.9l.8 2.2l2.3 .1l-1.8 1.4l.6 2.2l-1.9 -1.3l-1.9 1.3l.6 -2.2l-1.8 -1.4l2.3 -.1zM446.6 211.3l.8 2.2l2.3 .1l-1.8 1.4l.6 2.2l-1.9 -1.3l-1.9 1.3l.6 -2.2l-1.8 -1.4l2.3 -.1zM496.4 224.6l.8 2.2l2.3 .1l-1.8 1.4l.6 2.2l-1.9 -1.3l-1.9 1.3l.6 -2.2l-1.8 -1.4l2.3 -.1zM493.7 224.7l.8 2.2l2.3 .1l-1.8 1.4l.6 2.2l-1.9 -1.3l-1.9 1.3l.6 -2.2l-1.8 -1.4l2.3 -.1zM485 226.4l.8 2.2l2.3 .1l-1.8 1.4l.6 2.2l-1.9 -1.3l-1.9 1.3l.6 -2.2l-1.8 -1.4l2.3 -.1zM438.8 214.4l.8 2.2l2.3 .1l-1.8 1.4l.6 2.2l-1.9 -1.3l-1.9 1.3l.6 -2.2l-1.8 -1.4l2.3 -.1zM499.5 217.8l.8 2.2l2.3 .1l-1.8 1.4l.6 2.2l-1.9 -1.3l-1.9 1.3l.6 -2.2l-1.8 -1.4l2.3 -.1zM442.2 205.7l.8 2.2l2.3 .1l-1.8 1.4l.6 2.2l-1.9 -1.3l-1.9 1.3l.6 -2.2l-1.8 -1.4l2.3 -.1zM490 227.5l.8 2.2l2.3 .1l-1.8 1.4l.6 2.2l-1.9 -1.3l-1.9 1.3l.6 -2.2l-1.8 -1.4l2.3 -.1zM476.4 220.8l.8 2.2l2.3 .1l-1.8 1.4l.6 2.2l-1.9 -1.3l-1.9 1.3l.6 -2.2l-1.8 -1.4l2.3 -.1zM446.9 210.2l.8 2.2l2.3 .1l-1.8 1.4l.6 2.2l-1.9 -1.3l-1.9 1.3l.6 -2.2l-1.8 -1.4l2.3 -.1zM475.5 217.7l.8 2.2l2.3 .1l-1.8 1.4l.6 2.2l-1.9 -1.3l-1.9 1.3l.6 -2.2l-1.8 -1.4l2.3 -.1zM461.8 211.2l.8 2.2l2.3 .1l-1.8 1.4l.6 2.2l-1.9 -1.3l-1.9 1.3l.6 -2.2l-1.8 -1.4l2.3 -.1zM442.3 211.7l.8 2.2l2.3 .1l-1.8 1.4l.6 2.2l-1.9 -1.3l-1.9 1.3l.6 -2.2l-1.8 -1.4l2.3 -.1zM437.2 210.4l.8 2.2l2.3 .1l-1.8 1.4l.6 2.2l-1.9 -1.3l-1.9 1.3l.6 -2.2l-1.8 -1.4l2.3 -.1zM515.6 232.6l.8 2.2l2.3 .1l-1.8 1.4l.6 2.2l-1.9 -1.3l-1.9 1.3l.6 -2.2l-1.8 -1.4l2.3 -.1zM502.4 225.4l.8 2.2l2.3 .1l-1.8 1.4l.6 2.2l-1.9 -1.3l-1.9 1.3l.6 -2.2l-1.8 -1.4l2.3 -.1zM442 208.8l.8 2.2l2.3 .1l-1.8 1.4l.6 2.2l-1.9 -1.3l-1.9 1.3l.6 -2.2l-1.8 -1.4l2.3 -.1zM508.8 226.1l.8 2.2l2.3 .1l-1.8 1.4l.6 2.2l-1.9 -1.3l-1.9 1.3l.6 -2.2l-1.8 -1.4l2.3 -.1zM500 224.4l.8 2.2l2.3 .1l-1.8 1.4l.6 2.2l-1.9 -1.3l-1.9 1.3l.6 -2.2l-1.8 -1.4l2.3 -.1zM518.9 239.3l.8 2.2l2.3 .1l-1.8 1.4l.6 2.2l-1.9 -1.3l-1.9 1.3l.6 -2.2l-1.8 -1.4l2.3 -.1zM474.6 213.9l.8 2.2l2.3 .1l-1.8 1.4l.6 2.2l-1.9 -1.3l-1.9 1.3l.6 -2.2l-1.8 -1.4l2.3 -.1zM443.4 210.2l.8 2.2l2.3 .1l-1.8 1.4l.6 2.2l-1.9 -1.3l-1.9 1.3l.6 -2.2l-1.8 -1.4l2.3 -.1zM525.1 231.3l.8 2.2l2.3 .1l-1.8 1.4l.6 2.2l-1.9 -1.3l-1.9 1.3l.6 -2.2l-1.8 -1.4l2.3 -.1zM491.8 223.4l.8 2.2l2.3 .1l-1.8 1.4l.6 2.2l-1.9 -1.3l-1.9 1.3l.6 -2.2l-1.8 -1.4l2.3 -.1zM502.2 230.1l.8 2.2l2.3 .1l-1.8 1.4l.6 2.2l-1.9 -1.3l-1.9 1.3l.6 -2.2l-1.8 -1.4l2.3 -.1zM485.8 215.7l.8 2.2l2.3 .1l-1.8 1.4l.6 2.2l-1.9 -1.3l-1.9 1.3l.6 -2.2l-1.8 -1.4l2.3 -.1zM452.2 205.7l.8 2.2l2.3 .1l-1.8 1.4l.6 2.2l-1.9 -1.3l-1.9 1.3l.6 -2.2l-1.8 -1.4l2.3 -.1zM444.1 203.6l.8 2.2l2.3 .1l-1.8 1.4l.6 2.2l-1.9 -1.3l-1.9 1.3l.6 -2.2l-1.8 -1.4l2.3 -.1zM521.3 235.2l.8 2.2l2.3 .1l-1.8 1.4l.6 2.2l-1.9 -1.3l-1.9 1.3l.6 -2.2l-1.8 -1.4l2.3 -.1zM506 233.1l.8 2.2l2.3 .1l-1.8 1.4l.6 2.2l-1.9 -1.3l-1.9 1.3l.6 -2.2l-1.8 -1.4l2.3 -.1zM522.9 233.8l.8 2.2l2.3 .1l-1.8 1.4l.6 2.2l-1.9 -1.3l-1.9 1.3l.6 -2.2l-1.8 -1.4l2.3 -.1zM515.5 232.4l.8 2.2l2.3 .1l-1.8 1.4l.6 2.2l-1.9 -1.3l-1.9 1.3l.6 -2.2l-1.8 -1.4l2.3 -.1zM444.1 211l.8 2.2l2.3 .1l-1.8 1.4l.6 2.2l-1.9 -1.3l-1.9 1.3l.6 -2.2l-1.8 -1.4l2.3 -.1zM438 209.2l.8 2.2l2.3 .1l-1.8 1.4l.6 2.2l-1.9 -1.3l-1.9 1.3l.6 -2.2l-1.8 -1.4l2.3 -.1zM483.9 212.4l.8 2.2l2.3 .1l-1.8 1.4l.6 2.2l-1.9 -1.3l-1.9 1.3l.6 -2.2l-1.8 -1.4l2.3 -.1zM479.1 215.1l.8 2.2l2.3 .1l-1.8 1.4l.6 2.2l-1.9 -1.3l-1.9 1.3l.6 -2.2l-1.8 -1.4l2.3 -.1zM479.5 220.2l.8 2.2l2.3 .1l-1.8 1.4l.6 2.2l-1.9 -1.3l-1.9 1.3l.6 -2.2l-1.8 -1.4l2.3 -.1zM468.9 223.2l.8 2.2l2.3 .1l-1.8 1.4l.6 2.2l-1.9 -1.3l-1.9 1.3l.6 -2.2l-1.8 -1.4l2.3 -.1zM453.4 210.2l.8 2.2l2.3 .1l-1.8 1.4l.6 2.2l-1.9 -1.3l-1.9 1.3l.6 -2.2l-1.8 -1.4l2.3 -.1zM509.9 223.4l.8 2.2l2.3 .1l-1.8 1.4l.6 2.2l-1.9 -1.3l-1.9 1.3l.6 -2.2l-1.8 -1.4l2.3 -.1zM475.5 221.1l.8 2.2l2.3 .1l-1.8 1.4l.6 2.2l-1.9 -1.3l-1.9 1.3l.6 -2.2l-1.8 -1.4l2.3 -.1zM451.2 207.7l.8 2.2l2.3 .1l-1.8 1.4l.6 2.2l-1.9 -1.3l-1.9 1.3l.6 -2.2l-1.8 -1.4l2.3 -.1zM493 216.1l.8 2.2l2.3 .1l-1.8 1.4l.6 2.2l-1.9 -1.3l-1.9 1.3l.6 -2.2l-1.8 -1.4l2.3 -.1zM482.3 222l.8 2.2l2.3 .1l-1.8 1.4l.6 2.2l-1.9 -1.3l-1.9 1.3l.6 -2.2l-1.8 -1.4l2.3 -.1zM478.2 213.4l.8 2.2l2.3 .1l-1.8 1.4l.6 2.2l-1.9 -1.3l-1.9 1.3l.6 -2.2l-1.8 -1.4l2.3 -.1zM524 236.1l.8 2.2l2.3 .1l-1.8 1.4l.6 2.2l-1.9 -1.3l-1.9 1.3l.6 -2.2l-1.8 -1.4l2.3 -.1zM465.4 219.8l.8 2.2l2.3 .1l-1.8 1.4l.6 2.2l-1.9 -1.3l-1.9 1.3l.6 -2.2l-1.8 -1.4l2.3 -.1zM464.3 212.3l.8 2.2l2.3 .1l-1.8 1.4l.6 2.2l-1.9 -1.3l-1.9 1.3l.6 -2.2l-1.8 -1.4l2.3 -.1zM491 221.3l.8 2.2l2.3 .1l-1.8 1.4l.6 2.2l-1.9 -1.3l-1.9 1.3l.6 -2.2l-1.8 -1.4l2.3 -.1zM454.7 214.4l.8 2.2l2.3 .1l-1.8 1.4l.6 2.2l-1.9 -1.3l-1.9 1.3l.6 -2.2l-1.8 -1.4l2.3 -.1zM524 229.3l.8 2.2l2.3 .1l-1.8 1.4l.6 2.2l-1.9 -1.3l-1.9 1.3l.6 -2.2l-1.8 -1.4l2.3 -.1zM495.4 226.4l.8 2.2l2.3 .1l-1.8 1.4l.6 2.2l-1.9 -1.3l-1.9 1.3l.6 -2.2l-1.8 -1.4l2.3 -.1zM512.7 226.9l.8 2.2l2.3 .1l-1.8 1.4l.6 2.2l-1.9 -1.3l-1.9 1.3l.6 -2.2l-1.8 -1.4l2.3 -.1zM531.6 244.1l.8 2.2l2.3 .1l-1.8 1.4l.6 2.2l-1.9 -1.3l-1.9 1.3l.6 -2.2l-1.8 -1.4l2.3 -.1zM499 230.9l.8 2.2l2.3 .1l-1.8 1.4l.6 2.2l-1.9 -1.3l-1.9 1.3l.6 -2.2l-1.8 -1.4l2.3 -.1zM470.5 214.4l.8 2.2l2.3 .1l-1.8 1.4l.6 2.2l-1.9 -1.3l-1.9 1.3l.6 -2.2l-1.8 -1.4l2.3 -.1zM468.3 223.5l.8 2.2l2.3 .1l-1.8 1.4l.6 2.2l-1.9 -1.3l-1.9 1.3l.6 -2.2l-1.8 -1.4l2.3 -.1zM530.8 240l.8 2.2l2.3 .1l-1.8 1.4l.6 2.2l-1.9 -1.3l-1.9 1.3l.6 -2.2l-1.8 -1.4l2.3 -.1zM520.5 230.8l.8 2.2l2.3 .1l-1.8 1.4l.6 2.2l-1.9 -1.3l-1.9 1.3l.6 -2.2l-1.8 -1.4l2.3 -.1zM464.3 214.9l.8 2.2l2.3 .1l-1.8 1.4l.6 2.2l-1.9 -1.3l-1.9 1.3l.6 -2.2l-1.8 -1.4l2.3 -.1zM459.4 212.8l.8 2.2l2.3 .1l-1.8 1.4l.6 2.2l-1.9 -1.3l-1.9 1.3l.6 -2.2l-1.8 -1.4l2.3 -.1zM535.1 236.1l.8 2.2l2.3 .1l-1.8 1.4l.6 2.2l-1.9 -1.3l-1.9 1.3l.6 -2.2l-1.8 -1.4l2.3 -.1zM531.1 242.2l.8 2.2l2.3 .1l-1.8 1.4l.6 2.2l-1.9 -1.3l-1.9 1.3l.6 -2.2l-1.8 -1.4l2.3 -.1zM443.6 210.6l.8 2.2l2.3 .1l-1.8 1.4l.6 2.2l-1.9 -1.3l-1.9 1.3l.6 -2.2l-1.8 -1.4l2.3 -.1zM502 217.1l.8 2.2l2.3 .1l-1.8 1.4l.6 2.2l-1.9 -1.3l-1.9 1.3l.6 -2.2l-1.8 -1.4l2.3 -.1zM483.3 218.5l.8 2.2l2.3 .1l-1.8 1.4l.6 2.2l-1.9 -1.3l-1.9 1.3l.6 -2.2l-1.8 -1.4l2.3 -.1zM462.7 217.8l.8 2.2l2.3 .1l-1.8 1.4l.6 2.2l-1.9 -1.3l-1.9 1.3l.6 -2.2l-1.8 -1.4l2.3 -.1zM454.2 219.6l.8 2.2l2.3 .1l-1.8 1.4l.6 2.2l-1.9 -1.3l-1.9 1.3l.6 -2.2l-1.8 -1.4l2.3 -.1zM521.1 233.7l.8 2.2l2.3 .1l-1.8 1.4l.6 2.2l-1.9 -1.3l-1.9 1.3l.6 -2.2l-1.8 -1.4l2.3 -.1zM483.9 216l.8 2.2l2.3 .1l-1.8 1.4l.6 2.2l-1.9 -1.3l-1.9 1.3l.6 -2.2l-1.8 -1.4l2.3 -.1zM461 217l.8 2.2l2.3 .1l-1.8 1.4l.6 2.2l-1.9 -1.3l-1.9 1.3l.6 -2.2l-1.8 -1.4l2.3 -.1zM459.9 217.7l.8 2.2l2.3 .1l-1.8 1.4l.6 2.2l-1.9 -1.3l-1.9 1.3l.6 -2.2l-1.8 -1.4l2.3 -.1zM458.1 217.5l.8 2.2l2.3 .1l-1.8 1.4l.6 2.2l-1.9 -1.3l-1.9 1.3l.6 -2.2l-1.8 -1.4l2.3 -.1zM485.6 228.2l.8 2.2l2.3 .1l-1.8 1.4l.6 2.2l-1.9 -1.3l-1.9 1.3l.6 -2.2l-1.8 -1.4l2.3 -.1zM531.9 242.8l.8 2.2l2.3 .1l-1.8 1.4l.6 2.2l-1.9 -1.3l-1.9 1.3l.6 -2.2l-1.8 -1.4l2.3 -.1zM450.4 207.3l.8 2.2l2.3 .1l-1.8 1.4l.6 2.2l-1.9 -1.3l-1.9 1.3l.6 -2.2l-1.8 -1.4l2.3 -.1zM492 221l.8 2.2l2.3 .1l-1.8 1.4l.6 2.2l-1.9 -1.3l-1.9 1.3l.6 -2.2l-1.8 -1.4l2.3 -.1zM502.7 228l.8 2.2l2.3 .1l-1.8 1.4l.6 2.2l-1.9 -1.3l-1.9 1.3l.6 -2.2l-1.8 -1.4l2.3 -.1zM524.5 236.8l.8 2.2l2.3 .1l-1.8 1.4l.6 2.2l-1.9 -1.3l-1.9 1.3l.6 -2.2l-1.8 -1.4l2.3 -.1zM467.2 218.2l.8 2.2l2.3 .1l-1.8 1.4l.6 2.2l-1.9 -1.3l-1.9 1.3l.6 -2.2l-1.8 -1.4l2.3 -.1zM487.4 216.7l.8 2.2l2.3 .1l-1.8 1.4l.6 2.2l-1.9 -1.3l-1.9 1.3l.6 -2.2l-1.8 -1.4l2.3 -.1zM447.2 211.6l.8 2.2l2.3 .1l-1.8 1.4l.6 2.2l-1.9 -1.3l-1.9 1.3l.6 -2.2l-1.8 -1.4l2.3 -.1zM513.1 226.3l.8 2.2l2.3 .1l-1.8 1.4l.6 2.2l-1.9 -1.3l-1.9 1.3l.6 -2.2l-1.8 -1.4l2.3 -.1zM470.6 219.9l.8 2.2l2.3 .1l-1.8 1.4l.6 2.2l-1.9 -1.3l-1.9 1.3l.6 -2.2l-1.8 -1.4l2.3 -.1zM506.7 238.1l.8 2.2l2.3 .1l-1.8 1.4l.6 2.2l-1.9 -1.3l-1.9 1.3l.6 -2.2l-1.8 -1.4l2.3 -.1zM531.6 238l.8 2.2l2.3 .1l-1.8 1.4l.6 2.2l-1.9 -1.3l-1.9 1.3l.6 -2.2l-1.8 -1.4l2.3 -.1zM483.3 221.9l.8 2.2l2.3 .1l-1.8 1.4l.6 2.2l-1.9 -1.3l-1.9 1.3l.6 -2.2l-1.8 -1.4l2.3 -.1zM504.4 223.7l.8 2.2l2.3 .1l-1.8 1.4l.6 2.2l-1.9 -1.3l-1.9 1.3l.6 -2.2l-1.8 -1.4l2.3 -.1zM496.3 220.1l.8 2.2l2.3 .1l-1.8 1.4l.6 2.2l-1.9 -1.3l-1.9 1.3l.6 -2.2l-1.8 -1.4l2.3 -.1zM450.5 208l.8 2.2l2.3 .1l-1.8 1.4l.6 2.2l-1.9 -1.3l-1.9 1.3l.6 -2.2l-1.8 -1.4l2.3 -.1zM443.4 205.9l.8 2.2l2.3 .1l-1.8 1.4l.6 2.2l-1.9 -1.3l-1.9 1.3l.6 -2.2l-1.8 -1.4l2.3 -.1zM486.4 221.3l.8 2.2l2.3 .1l-1.8 1.4l.6 2.2l-1.9 -1.3l-1.9 1.3l.6 -2.2l-1.8 -1.4l2.3 -.1zM480.4 225.9l.8 2.2l2.3 .1l-1.8 1.4l.6 2.2l-1.9 -1.3l-1.9 1.3l.6 -2.2l-1.8 -1.4l2.3 -.1zM439.6 205.9l.8 2.2l2.3 .1l-1.8 1.4l.6 2.2l-1.9 -1.3l-1.9 1.3l.6 -2.2l-1.8 -1.4l2.3 -.1zM535.4 241.4l.8 2.2l2.3 .1l-1.8 1.4l.6 2.2l-1.9 -1.3l-1.9 1.3l.6 -2.2l-1.8 -1.4l2.3 -.1zM528.8 240.1l.8 2.2l2.3 .1l-1.8 1.4l.6 2.2l-1.9 -1.3l-1.9 1.3l.6 -2.2l-1.8 -1.4l2.3 -.1zM443.2 207.5l.8 2.2l2.3 .1l-1.8 1.4l.6 2.2l-1.9 -1.3l-1.9 1.3l.6 -2.2l-1.8 -1.4l2.3 -.1zM486.1 217.4l.8 2.2l2.3 .1l-1.8 1.4l.6 2.2l-1.9 -1.3l-1.9 1.3l.6 -2.2l-1.8 -1.4l2.3 -.1zM493.4 221.5l.8 2.2l2.3 .1l-1.8 1.4l.6 2.2l-1.9 -1.3l-1.9 1.3l.6 -2.2l-1.8 -1.4l2.3 -.1zM466.9 216.6l.8 2.2l2.3 .1l-1.8 1.4l.6 2.2l-1.9 -1.3l-1.9 1.3l.6 -2.2l-1.8 -1.4l2.3 -.1zM484.6 220.2l.8 2.2l2.3 .1l-1.8 1.4l.6 2.2l-1.9 -1.3l-1.9 1.3l.6 -2.2l-1.8 -1.4l2.3 -.1zM456.4 212.3l.8 2.2l2.3 .1l-1.8 1.4l.6 2.2l-1.9 -1.3l-1.9 1.3l.6 -2.2l-1.8 -1.4l2.3 -.1zM519.1 231.7l.8 2.2l2.3 .1l-1.8 1.4l.6 2.2l-1.9 -1.3l-1.9 1.3l.6 -2.2l-1.8 -1.4l2.3 -.1zM455.5 215.3l.8 2.2l2.3 .1l-1.8 1.4l.6 2.2l-1.9 -1.3l-1.9 1.3l.6 -2.2l-1.8 -1.4l2.3 -.1zM482.4 219.3l.8 2.2l2.3 .1l-1.8 1.4l.6 2.2l-1.9 -1.3l-1.9 1.3l.6 -2.2l-1.8 -1.4l2.3 -.1zM520.5 241l.8 2.2l2.3 .1l-1.8 1.4l.6 2.2l-1.9 -1.3l-1.9 1.3l.6 -2.2l-1.8 -1.4l2.3 -.1zM481.4 224.1l.8 2.2l2.3 .1l-1.8 1.4l.6 2.2l-1.9 -1.3l-1.9 1.3l.6 -2.2l-1.8 -1.4l2.3 -.1zM481.4 218.4l.8 2.2l2.3 .1l-1.8 1.4l.6 2.2l-1.9 -1.3l-1.9 1.3l.6 -2.2l-1.8 -1.4l2.3 -.1zM474 219.6l.8 2.2l2.3 .1l-1.8 1.4l.6 2.2l-1.9 -1.3l-1.9 1.3l.6 -2.2l-1.8 -1.4l2.3 -.1zM482.9 218.6l.8 2.2l2.3 .1l-1.8 1.4l.6 2.2l-1.9 -1.3l-1.9 1.3l.6 -2.2l-1.8 -1.4l2.3 -.1zM507.2 232l.8 2.2l2.3 .1l-1.8 1.4l.6 2.2l-1.9 -1.3l-1.9 1.3l.6 -2.2l-1.8 -1.4l2.3 -.1zM502.7 228.9l.8 2.2l2.3 .1l-1.8 1.4l.6 2.2l-1.9 -1.3l-1.9 1.3l.6 -2.2l-1.8 -1.4l2.3 -.1zM466.6 212l.8 2.2l2.3 .1l-1.8 1.4l.6 2.2l-1.9 -1.3l-1.9 1.3l.6 -2.2l-1.8 -1.4l2.3 -.1zM533.5 237.2l.8 2.2l2.3 .1l-1.8 1.4l.6 2.2l-1.9 -1.3l-1.9 1.3l.6 -2.2l-1.8 -1.4l2.3 -.1zM504 224.8l.8 2.2l2.3 .1l-1.8 1.4l.6 2.2l-1.9 -1.3l-1.9 1.3l.6 -2.2l-1.8 -1.4l2.3 -.1zM475.1 222.1l.8 2.2l2.3 .1l-1.8 1.4l.6 2.2l-1.9 -1.3l-1.9 1.3l.6 -2.2l-1.8 -1.4l2.3 -.1zM465.2 215.2l.8 2.2l2.3 .1l-1.8 1.4l.6 2.2l-1.9 -1.3l-1.9 1.3l.6 -2.2l-1.8 -1.4l2.3 -.1zM475 219.1l.8 2.2l2.3 .1l-1.8 1.4l.6 2.2l-1.9 -1.3l-1.9 1.3l.6 -2.2l-1.8 -1.4l2.3 -.1zM474.5 215.8l.8 2.2l2.3 .1l-1.8 1.4l.6 2.2l-1.9 -1.3l-1.9 1.3l.6 -2.2l-1.8 -1.4l2.3 -.1zM478.9 219.2l.8 2.2l2.3 .1l-1.8 1.4l.6 2.2l-1.9 -1.3l-1.9 1.3l.6 -2.2l-1.8 -1.4l2.3 -.1zM441.8 206.5l.8 2.2l2.3 .1l-1.8 1.4l.6 2.2l-1.9 -1.3l-1.9 1.3l.6 -2.2l-1.8 -1.4l2.3 -.1zM478.9 221.3l.8 2.2l2.3 .1l-1.8 1.4l.6 2.2l-1.9 -1.3l-1.9 1.3l.6 -2.2l-1.8 -1.4l2.3 -.1zM517.5 230.3l.8 2.2l2.3 .1l-1.8 1.4l.6 2.2l-1.9 -1.3l-1.9 1.3l.6 -2.2l-1.8 -1.4l2.3 -.1zM524.3 232.5l.8 2.2l2.3 .1l-1.8 1.4l.6 2.2l-1.9 -1.3l-1.9 1.3l.6 -2.2l-1.8 -1.4l2.3 -.1zM444.8 216.4l.8 2.2l2.3 .1l-1.8 1.4l.6 2.2l-1.9 -1.3l-1.9 1.3l.6 -2.2l-1.8 -1.4l2.3 -.1zM445.4 209.3l.8 2.2l2.3 .1l-1.8 1.4l.6 2.2l-1.9 -1.3l-1.9 1.3l.6 -2.2l-1.8 -1.4l2.3 -.1zM525.3 236.8l.8 2.2l2.3 .1l-1.8 1.4l.6 2.2l-1.9 -1.3l-1.9 1.3l.6 -2.2l-1.8 -1.4l2.3 -.1zM526.4 241.2l.8 2.2l2.3 .1l-1.8 1.4l.6 2.2l-1.9 -1.3l-1.9 1.3l.6 -2.2l-1.8 -1.4l2.3 -.1zM454 210.5l.8 2.2l2.3 .1l-1.8 1.4l.6 2.2l-1.9 -1.3l-1.9 1.3l.6 -2.2l-1.8 -1.4l2.3 -.1zM490.5 230.7l.8 2.2l2.3 .1l-1.8 1.4l.6 2.2l-1.9 -1.3l-1.9 1.3l.6 -2.2l-1.8 -1.4l2.3 -.1zM479.5 220.4l.8 2.2l2.3 .1l-1.8 1.4l.6 2.2l-1.9 -1.3l-1.9 1.3l.6 -2.2l-1.8 -1.4l2.3 -.1zM492.8 222.6l.8 2.2l2.3 .1l-1.8 1.4l.6 2.2l-1.9 -1.3l-1.9 1.3l.6 -2.2l-1.8 -1.4l2.3 -.1zM476.6 214.3l.8 2.2l2.3 .1l-1.8 1.4l.6 2.2l-1.9 -1.3l-1.9 1.3l.6 -2.2l-1.8 -1.4l2.3 -.1zM469.7 222.8l.8 2.2l2.3 .1l-1.8 1.4l.6 2.2l-1.9 -1.3l-1.9 1.3l.6 -2.2l-1.8 -1.4l2.3 -.1zM535.9 247.3l.8 2.2l2.3 .1l-1.8 1.4l.6 2.2l-1.9 -1.3l-1.9 1.3l.6 -2.2l-1.8 -1.4l2.3 -.1zM500 229.5l.8 2.2l2.3 .1l-1.8 1.4l.6 2.2l-1.9 -1.3l-1.9 1.3l.6 -2.2l-1.8 -1.4l2.3 -.1zM437.1 208l.8 2.2l2.3 .1l-1.8 1.4l.6 2.2l-1.9 -1.3l-1.9 1.3l.6 -2.2l-1.8 -1.4l2.3 -.1zM463.3 212.7l.8 2.2l2.3 .1l-1.8 1.4l.6 2.2l-1.9 -1.3l-1.9 1.3l.6 -2.2l-1.8 -1.4l2.3 -.1zM526.4 239.6l.8 2.2l2.3 .1l-1.8 1.4l.6 2.2l-1.9 -1.3l-1.9 1.3l.6 -2.2l-1.8 -1.4l2.3 -.1zM530.9 245.8l.8 2.2l2.3 .1l-1.8 1.4l.6 2.2l-1.9 -1.3l-1.9 1.3l.6 -2.2l-1.8 -1.4l2.3 -.1zM535 236.2l.8 2.2l2.3 .1l-1.8 1.4l.6 2.2l-1.9 -1.3l-1.9 1.3l.6 -2.2l-1.8 -1.4l2.3 -.1zM521.7 233.5l.8 2.2l2.3 .1l-1.8 1.4l.6 2.2l-1.9 -1.3l-1.9 1.3l.6 -2.2l-1.8 -1.4l2.3 -.1zM455.6 212.8l.8 2.2l2.3 .1l-1.8 1.4l.6 2.2l-1.9 -1.3l-1.9 1.3l.6 -2.2l-1.8 -1.4l2.3 -.1zM471.5 218.8l.8 2.2l2.3 .1l-1.8 1.4l.6 2.2l-1.9 -1.3l-1.9 1.3l.6 -2.2l-1.8 -1.4l2.3 -.1zM496.3 222.4l.8 2.2l2.3 .1l-1.8 1.4l.6 2.2l-1.9 -1.3l-1.9 1.3l.6 -2.2l-1.8 -1.4l2.3 -.1zM449.8 208.6l.8 2.2l2.3 .1l-1.8 1.4l.6 2.2l-1.9 -1.3l-1.9 1.3l.6 -2.2l-1.8 -1.4l2.3 -.1zM477.8 216.2l.8 2.2l2.3 .1l-1.8 1.4l.6 2.2l-1.9 -1.3l-1.9 1.3l.6 -2.2l-1.8 -1.4l2.3 -.1zM496.3 224l.8 2.2l2.3 .1l-1.8 1.4l.6 2.2l-1.9 -1.3l-1.9 1.3l.6 -2.2l-1.8 -1.4l2.3 -.1zM534.1 240.2l.8 2.2l2.3 .1l-1.8 1.4l.6 2.2l-1.9 -1.3l-1.9 1.3l.6 -2.2l-1.8 -1.4l2.3 -.1zM436.5 212.5l.8 2.2l2.3 .1l-1.8 1.4l.6 2.2l-1.9 -1.3l-1.9 1.3l.6 -2.2l-1.8 -1.4l2.3 -.1zM470.8 220.1l.8 2.2l2.3 .1l-1.8 1.4l.6 2.2l-1.9 -1.3l-1.9 1.3l.6 -2.2l-1.8 -1.4l2.3 -.1zM512.1 225l.8 2.2l2.3 .1l-1.8 1.4l.6 2.2l-1.9 -1.3l-1.9 1.3l.6 -2.2l-1.8 -1.4l2.3 -.1zM530.1 239.4l.8 2.2l2.3 .1l-1.8 1.4l.6 2.2l-1.9 -1.3l-1.9 1.3l.6 -2.2l-1.8 -1.4l2.3 -.1zM449.3 208.6l.8 2.2l2.3 .1l-1.8 1.4l.6 2.2l-1.9 -1.3l-1.9 1.3l.6 -2.2l-1.8 -1.4l2.3 -.1zM484.3 223.3l.8 2.2l2.3 .1l-1.8 1.4l.6 2.2l-1.9 -1.3l-1.9 1.3l.6 -2.2l-1.8 -1.4l2.3 -.1zM501.2 227.8l.8 2.2l2.3 .1l-1.8 1.4l.6 2.2l-1.9 -1.3l-1.9 1.3l.6 -2.2l-1.8 -1.4l2.3 -.1zM512.9 234.2l.8 2.2l2.3 .1l-1.8 1.4l.6 2.2l-1.9 -1.3l-1.9 1.3l.6 -2.2l-1.8 -1.4l2.3 -.1zM469.7 213.6l.8 2.2l2.3 .1l-1.8 1.4l.6 2.2l-1.9 -1.3l-1.9 1.3l.6 -2.2l-1.8 -1.4l2.3 -.1zM498.5 233.3l.8 2.2l2.3 .1l-1.8 1.4l.6 2.2l-1.9 -1.3l-1.9 1.3l.6 -2.2l-1.8 -1.4l2.3 -.1zM458.4 215.4l.8 2.2l2.3 .1l-1.8 1.4l.6 2.2l-1.9 -1.3l-1.9 1.3l.6 -2.2l-1.8 -1.4l2.3 -.1zM535.9 246.1l.8 2.2l2.3 .1l-1.8 1.4l.6 2.2l-1.9 -1.3l-1.9 1.3l.6 -2.2l-1.8 -1.4l2.3 -.1zM500 225.5l.8 2.2l2.3 .1l-1.8 1.4l.6 2.2l-1.9 -1.3l-1.9 1.3l.6 -2.2l-1.8 -1.4l2.3 -.1zM448.5 212.2l.8 2.2l2.3 .1l-1.8 1.4l.6 2.2l-1.9 -1.3l-1.9 1.3l.6 -2.2l-1.8 -1.4l2.3 -.1zM474.7 218l.8 2.2l2.3 .1l-1.8 1.4l.6 2.2l-1.9 -1.3l-1.9 1.3l.6 -2.2l-1.8 -1.4l2.3 -.1zM487.8 224l.8 2.2l2.3 .1l-1.8 1.4l.6 2.2l-1.9 -1.3l-1.9 1.3l.6 -2.2l-1.8 -1.4l2.3 -.1zM465.3 220.1l.8 2.2l2.3 .1l-1.8 1.4l.6 2.2l-1.9 -1.3l-1.9 1.3l.6 -2.2l-1.8 -1.4l2.3 -.1zM515.5 229.6l.8 2.2l2.3 .1l-1.8 1.4l.6 2.2l-1.9 -1.3l-1.9 1.3l.6 -2.2l-1.8 -1.4l2.3 -.1zM506 226.5l.8 2.2l2.3 .1l-1.8 1.4l.6 2.2l-1.9 -1.3l-1.9 1.3l.6 -2.2l-1.8 -1.4l2.3 -.1zM534.4 244.5l.8 2.2l2.3 .1l-1.8 1.4l.6 2.2l-1.9 -1.3l-1.9 1.3l.6 -2.2l-1.8 -1.4l2.3 -.1zM534 246.9l.8 2.2l2.3 .1l-1.8 1.4l.6 2.2l-1.9 -1.3l-1.9 1.3l.6 -2.2l-1.8 -1.4l2.3 -.1zM450.7 209.6l.8 2.2l2.3 .1l-1.8 1.4l.6 2.2l-1.9 -1.3l-1.9 1.3l.6 -2.2l-1.8 -1.4l2.3 -.1zM564 246.4l.8 2.2l2.3 .1l-1.8 1.4l.6 2.2l-1.9 -1.3l-1.9 1.3l.6 -2.2l-1.8 -1.4l2.3 -.1zM589.7 276.2l.8 2.2l2.3 .1l-1.8 1.4l.6 2.2l-1.9 -1.3l-1.9 1.3l.6 -2.2l-1.8 -1.4l2.3 -.1zM619.5 287.8l.8 2.2l2.3 .1l-1.8 1.4l.6 2.2l-1.9 -1.3l-1.9 1.3l.6 -2.2l-1.8 -1.4l2.3 -.1zM558.3 263.6l.8 2.2l2.3 .1l-1.8 1.4l.6 2.2l-1.9 -1.3l-1.9 1.3l.6 -2.2l-1.8 -1.4l2.3 -.1zM535.4 245.8l.8 2.2l2.3 .1l-1.8 1.4l.6 2.2l-1.9 -1.3l-1.9 1.3l.6 -2.2l-1.8 -1.4l2.3 -.1zM543 243.4l.8 2.2l2.3 .1l-1.8 1.4l.6 2.2l-1.9 -1.3l-1.9 1.3l.6 -2.2l-1.8 -1.4l2.3 -.1zM602.9 291.2l.8 2.2l2.3 .1l-1.8 1.4l.6 2.2l-1.9 -1.3l-1.9 1.3l.6 -2.2l-1.8 -1.4l2.3 -.1zM538.6 242.5l.8 2.2l2.3 .1l-1.8 1.4l.6 2.2l-1.9 -1.3l-1.9 1.3l.6 -2.2l-1.8 -1.4l2.3 -.1zM566.1 259.1l.8 2.2l2.3 .1l-1.8 1.4l.6 2.2l-1.9 -1.3l-1.9 1.3l.6 -2.2l-1.8 -1.4l2.3 -.1zM534.1 243.1l.8 2.2l2.3 .1l-1.8 1.4l.6 2.2l-1.9 -1.3l-1.9 1.3l.6 -2.2l-1.8 -1.4l2.3 -.1zM539.6 244.5l.8 2.2l2.3 .1l-1.8 1.4l.6 2.2l-1.9 -1.3l-1.9 1.3l.6 -2.2l-1.8 -1.4l2.3 -.1zM606.8 290l.8 2.2l2.3 .1l-1.8 1.4l.6 2.2l-1.9 -1.3l-1.9 1.3l.6 -2.2l-1.8 -1.4l2.3 -.1zM582.3 266.7l.8 2.2l2.3 .1l-1.8 1.4l.6 2.2l-1.9 -1.3l-1.9 1.3l.6 -2.2l-1.8 -1.4l2.3 -.1zM613.5 291.6l.8 2.2l2.3 .1l-1.8 1.4l.6 2.2l-1.9 -1.3l-1.9 1.3l.6 -2.2l-1.8 -1.4l2.3 -.1zM583.4 276.1l.8 2.2l2.3 .1l-1.8 1.4l.6 2.2l-1.9 -1.3l-1.9 1.3l.6 -2.2l-1.8 -1.4l2.3 -.1zM579.8 255.8l.8 2.2l2.3 .1l-1.8 1.4l.6 2.2l-1.9 -1.3l-1.9 1.3l.6 -2.2l-1.8 -1.4l2.3 -.1zM561.8 256.1l.8 2.2l2.3 .1l-1.8 1.4l.6 2.2l-1.9 -1.3l-1.9 1.3l.6 -2.2l-1.8 -1.4l2.3 -.1zM595.9 272.8l.8 2.2l2.3 .1l-1.8 1.4l.6 2.2l-1.9 -1.3l-1.9 1.3l.6 -2.2l-1.8 -1.4l2.3 -.1zM587.7 271.3l.8 2.2l2.3 .1l-1.8 1.4l.6 2.2l-1.9 -1.3l-1.9 1.3l.6 -2.2l-1.8 -1.4l2.3 -.1zM565 258.9l.8 2.2l2.3 .1l-1.8 1.4l.6 2.2l-1.9 -1.3l-1.9 1.3l.6 -2.2l-1.8 -1.4l2.3 -.1zM586.8 281l.8 2.2l2.3 .1l-1.8 1.4l.6 2.2l-1.9 -1.3l-1.9 1.3l.6 -2.2l-1.8 -1.4l2.3 -.1zM542.8 250.4l.8 2.2l2.3 .1l-1.8 1.4l.6 2.2l-1.9 -1.3l-1.9 1.3l.6 -2.2l-1.8 -1.4l2.3 -.1zM621.4 288.9l.8 2.2l2.3 .1l-1.8 1.4l.6 2.2l-1.9 -1.3l-1.9 1.3l.6 -2.2l-1.8 -1.4l2.3 -.1zM544.5 248l.8 2.2l2.3 .1l-1.8 1.4l.6 2.2l-1.9 -1.3l-1.9 1.3l.6 -2.2l-1.8 -1.4l2.3 -.1zM546.2 260.9l.8 2.2l2.3 .1l-1.8 1.4l.6 2.2l-1.9 -1.3l-1.9 1.3l.6 -2.2l-1.8 -1.4l2.3 -.1zM573.2 263.8l.8 2.2l2.3 .1l-1.8 1.4l.6 2.2l-1.9 -1.3l-1.9 1.3l.6 -2.2l-1.8 -1.4l2.3 -.1zM549 258.2l.8 2.2l2.3 .1l-1.8 1.4l.6 2.2l-1.9 -1.3l-1.9 1.3l.6 -2.2l-1.8 -1.4l2.3 -.1zM581.3 277.9l.8 2.2l2.3 .1l-1.8 1.4l.6 2.2l-1.9 -1.3l-1.9 1.3l.6 -2.2l-1.8 -1.4l2.3 -.1zM586.8 270l.8 2.2l2.3 .1l-1.8 1.4l.6 2.2l-1.9 -1.3l-1.9 1.3l.6 -2.2l-1.8 -1.4l2.3 -.1zM588.6 269.9l.8 2.2l2.3 .1l-1.8 1.4l.6 2.2l-1.9 -1.3l-1.9 1.3l.6 -2.2l-1.8 -1.4l2.3 -.1zM552.9 249.5l.8 2.2l2.3 .1l-1.8 1.4l.6 2.2l-1.9 -1.3l-1.9 1.3l.6 -2.2l-1.8 -1.4l2.3 -.1zM537.5 245l.8 2.2l2.3 .1l-1.8 1.4l.6 2.2l-1.9 -1.3l-1.9 1.3l.6 -2.2l-1.8 -1.4l2.3 -.1zM592.9 287.7l.8 2.2l2.3 .1l-1.8 1.4l.6 2.2l-1.9 -1.3l-1.9 1.3l.6 -2.2l-1.8 -1.4l2.3 -.1zM612.3 288.3l.8 2.2l2.3 .1l-1.8 1.4l.6 2.2l-1.9 -1.3l-1.9 1.3l.6 -2.2l-1.8 -1.4l2.3 -.1zM541.1 249.5l.8 2.2l2.3 .1l-1.8 1.4l.6 2.2l-1.9 -1.3l-1.9 1.3l.6 -2.2l-1.8 -1.4l2.3 -.1zM593.2 271.5l.8 2.2l2.3 .1l-1.8 1.4l.6 2.2l-1.9 -1.3l-1.9 1.3l.6 -2.2l-1.8 -1.4l2.3 -.1zM560.2 264l.8 2.2l2.3 .1l-1.8 1.4l.6 2.2l-1.9 -1.3l-1.9 1.3l.6 -2.2l-1.8 -1.4l2.3 -.1zM580.9 273.4l.8 2.2l2.3 .1l-1.8 1.4l.6 2.2l-1.9 -1.3l-1.9 1.3l.6 -2.2l-1.8 -1.4l2.3 -.1zM587.1 262l.8 2.2l2.3 .1l-1.8 1.4l.6 2.2l-1.9 -1.3l-1.9 1.3l.6 -2.2l-1.8 -1.4l2.3 -.1zM567 251.7l.8 2.2l2.3 .1l-1.8 1.4l.6 2.2l-1.9 -1.3l-1.9 1.3l.6 -2.2l-1.8 -1.4l2.3 -.1zM607.6 280.4l.8 2.2l2.3 .1l-1.8 1.4l.6 2.2l-1.9 -1.3l-1.9 1.3l.6 -2.2l-1.8 -1.4l2.3 -.1zM539.4 242.2l.8 2.2l2.3 .1l-1.8 1.4l.6 2.2l-1.9 -1.3l-1.9 1.3l.6 -2.2l-1.8 -1.4l2.3 -.1zM607 288.4l.8 2.2l2.3 .1l-1.8 1.4l.6 2.2l-1.9 -1.3l-1.9 1.3l.6 -2.2l-1.8 -1.4l2.3 -.1zM615.9 291.2l.8 2.2l2.3 .1l-1.8 1.4l.6 2.2l-1.9 -1.3l-1.9 1.3l.6 -2.2l-1.8 -1.4l2.3 -.1zM582.5 271.3l.8 2.2l2.3 .1l-1.8 1.4l.6 2.2l-1.9 -1.3l-1.9 1.3l.6 -2.2l-1.8 -1.4l2.3 -.1zM597.3 290.1l.8 2.2l2.3 .1l-1.8 1.4l.6 2.2l-1.9 -1.3l-1.9 1.3l.6 -2.2l-1.8 -1.4l2.3 -.1zM539.6 252.2l.8 2.2l2.3 .1l-1.8 1.4l.6 2.2l-1.9 -1.3l-1.9 1.3l.6 -2.2l-1.8 -1.4l2.3 -.1zM612.1 285.9l.8 2.2l2.3 .1l-1.8 1.4l.6 2.2l-1.9 -1.3l-1.9 1.3l.6 -2.2l-1.8 -1.4l2.3 -.1zM537.5 247l.8 2.2l2.3 .1l-1.8 1.4l.6 2.2l-1.9 -1.3l-1.9 1.3l.6 -2.2l-1.8 -1.4l2.3 -.1zM560.9 265.2l.8 2.2l2.3 .1l-1.8 1.4l.6 2.2l-1.9 -1.3l-1.9 1.3l.6 -2.2l-1.8 -1.4l2.3 -.1zM610.6 291.8l.8 2.2l2.3 .1l-1.8 1.4l.6 2.2l-1.9 -1.3l-1.9 1.3l.6 -2.2l-1.8 -1.4l2.3 -.1zM562.2 257.7l.8 2.2l2.3 .1l-1.8 1.4l.6 2.2l-1.9 -1.3l-1.9 1.3l.6 -2.2l-1.8 -1.4l2.3 -.1zM609.2 288.2l.8 2.2l2.3 .1l-1.8 1.4l.6 2.2l-1.9 -1.3l-1.9 1.3l.6 -2.2l-1.8 -1.4l2.3 -.1zM535 242l.8 2.2l2.3 .1l-1.8 1.4l.6 2.2l-1.9 -1.3l-1.9 1.3l.6 -2.2l-1.8 -1.4l2.3 -.1zM578.1 267.7l.8 2.2l2.3 .1l-1.8 1.4l.6 2.2l-1.9 -1.3l-1.9 1.3l.6 -2.2l-1.8 -1.4l2.3 -.1zM535.2 240.6l.8 2.2l2.3 .1l-1.8 1.4l.6 2.2l-1.9 -1.3l-1.9 1.3l.6 -2.2l-1.8 -1.4l2.3 -.1zM539.6 243.2l.8 2.2l2.3 .1l-1.8 1.4l.6 2.2l-1.9 -1.3l-1.9 1.3l.6 -2.2l-1.8 -1.4l2.3 -.1zM602.3 286.2l.8 2.2l2.3 .1l-1.8 1.4l.6 2.2l-1.9 -1.3l-1.9 1.3l.6 -2.2l-1.8 -1.4l2.3 -.1zM567.4 251.4l.8 2.2l2.3 .1l-1.8 1.4l.6 2.2l-1.9 -1.3l-1.9 1.3l.6 -2.2l-1.8 -1.4l2.3 -.1zM537.6 248.7l.8 2.2l2.3 .1l-1.8 1.4l.6 2.2l-1.9 -1.3l-1.9 1.3l.6 -2.2l-1.8 -1.4l2.3 -.1zM569.1 265.5l.8 2.2l2.3 .1l-1.8 1.4l.6 2.2l-1.9 -1.3l-1.9 1.3l.6 -2.2l-1.8 -1.4l2.3 -.1zM534.9 247.8l.8 2.2l2.3 .1l-1.8 1.4l.6 2.2l-1.9 -1.3l-1.9 1.3l.6 -2.2l-1.8 -1.4l2.3 -.1zM573.9 251.9l.8 2.2l2.3 .1l-1.8 1.4l.6 2.2l-1.9 -1.3l-1.9 1.3l.6 -2.2l-1.8 -1.4l2.3 -.1zM575.5 276.3l.8 2.2l2.3 .1l-1.8 1.4l.6 2.2l-1.9 -1.3l-1.9 1.3l.6 -2.2l-1.8 -1.4l2.3 -.1zM606.3 289.7l.8 2.2l2.3 .1l-1.8 1.4l.6 2.2l-1.9 -1.3l-1.9 1.3l.6 -2.2l-1.8 -1.4l2.3 -.1zM561.3 261l.8 2.2l2.3 .1l-1.8 1.4l.6 2.2l-1.9 -1.3l-1.9 1.3l.6 -2.2l-1.8 -1.4l2.3 -.1zM547.5 254.2l.8 2.2l2.3 .1l-1.8 1.4l.6 2.2l-1.9 -1.3l-1.9 1.3l.6 -2.2l-1.8 -1.4l2.3 -.1zM541.3 255.2l.8 2.2l2.3 .1l-1.8 1.4l.6 2.2l-1.9 -1.3l-1.9 1.3l.6 -2.2l-1.8 -1.4l2.3 -.1zM587.6 275.4l.8 2.2l2.3 .1l-1.8 1.4l.6 2.2l-1.9 -1.3l-1.9 1.3l.6 -2.2l-1.8 -1.4l2.3 -.1zM568.1 261.3l.8 2.2l2.3 .1l-1.8 1.4l.6 2.2l-1.9 -1.3l-1.9 1.3l.6 -2.2l-1.8 -1.4l2.3 -.1zM588.4 283.9l.8 2.2l2.3 .1l-1.8 1.4l.6 2.2l-1.9 -1.3l-1.9 1.3l.6 -2.2l-1.8 -1.4l2.3 -.1zM591.6 267.7l.8 2.2l2.3 .1l-1.8 1.4l.6 2.2l-1.9 -1.3l-1.9 1.3l.6 -2.2l-1.8 -1.4l2.3 -.1zM591.9 277.3l.8 2.2l2.3 .1l-1.8 1.4l.6 2.2l-1.9 -1.3l-1.9 1.3l.6 -2.2l-1.8 -1.4l2.3 -.1zM600.1 279.8l.8 2.2l2.3 .1l-1.8 1.4l.6 2.2l-1.9 -1.3l-1.9 1.3l.6 -2.2l-1.8 -1.4l2.3 -.1zM561.5 262.3l.8 2.2l2.3 .1l-1.8 1.4l.6 2.2l-1.9 -1.3l-1.9 1.3l.6 -2.2l-1.8 -1.4l2.3 -.1zM557.9 245.1l.8 2.2l2.3 .1l-1.8 1.4l.6 2.2l-1.9 -1.3l-1.9 1.3l.6 -2.2l-1.8 -1.4l2.3 -.1zM574.2 261.6l.8 2.2l2.3 .1l-1.8 1.4l.6 2.2l-1.9 -1.3l-1.9 1.3l.6 -2.2l-1.8 -1.4l2.3 -.1zM602.3 281.9l.8 2.2l2.3 .1l-1.8 1.4l.6 2.2l-1.9 -1.3l-1.9 1.3l.6 -2.2l-1.8 -1.4l2.3 -.1zM583.8 260.2l.8 2.2l2.3 .1l-1.8 1.4l.6 2.2l-1.9 -1.3l-1.9 1.3l.6 -2.2l-1.8 -1.4l2.3 -.1zM544.8 255.1l.8 2.2l2.3 .1l-1.8 1.4l.6 2.2l-1.9 -1.3l-1.9 1.3l.6 -2.2l-1.8 -1.4l2.3 -.1zM586.9 276l.8 2.2l2.3 .1l-1.8 1.4l.6 2.2l-1.9 -1.3l-1.9 1.3l.6 -2.2l-1.8 -1.4l2.3 -.1zM617.6 289.4l.8 2.2l2.3 .1l-1.8 1.4l.6 2.2l-1.9 -1.3l-1.9 1.3l.6 -2.2l-1.8 -1.4l2.3 -.1zM620.5 286.7l.8 2.2l2.3 .1l-1.8 1.4l.6 2.2l-1.9 -1.3l-1.9 1.3l.6 -2.2l-1.8 -1.4l2.3 -.1zM605.4 294.2l.8 2.2l2.3 .1l-1.8 1.4l.6 2.2l-1.9 -1.3l-1.9 1.3l.6 -2.2l-1.8 -1.4l2.3 -.1zM605.1 291.4l.8 2.2l2.3 .1l-1.8 1.4l.6 2.2l-1.9 -1.3l-1.9 1.3l.6 -2.2l-1.8 -1.4l2.3 -.1zM552.4 246.6l.8 2.2l2.3 .1l-1.8 1.4l.6 2.2l-1.9 -1.3l-1.9 1.3l.6 -2.2l-1.8 -1.4l2.3 -.1zM587 285l.8 2.2l2.3 .1l-1.8 1.4l.6 2.2l-1.9 -1.3l-1.9 1.3l.6 -2.2l-1.8 -1.4l2.3 -.1zM557.2 266.5l.8 2.2l2.3 .1l-1.8 1.4l.6 2.2l-1.9 -1.3l-1.9 1.3l.6 -2.2l-1.8 -1.4l2.3 -.1zM609.5 287.9l.8 2.2l2.3 .1l-1.8 1.4l.6 2.2l-1.9 -1.3l-1.9 1.3l.6 -2.2l-1.8 -1.4l2.3 -.1zM603.4 291.2l.8 2.2l2.3 .1l-1.8 1.4l.6 2.2l-1.9 -1.3l-1.9 1.3l.6 -2.2l-1.8 -1.4l2.3 -.1zM601.6 274.1l.8 2.2l2.3 .1l-1.8 1.4l.6 2.2l-1.9 -1.3l-1.9 1.3l.6 -2.2l-1.8 -1.4l2.3 -.1zM538.2 250.7l.8 2.2l2.3 .1l-1.8 1.4l.6 2.2l-1.9 -1.3l-1.9 1.3l.6 -2.2l-1.8 -1.4l2.3 -.1zM580.5 275.8l.8 2.2l2.3 .1l-1.8 1.4l.6 2.2l-1.9 -1.3l-1.9 1.3l.6 -2.2l-1.8 -1.4l2.3 -.1zM615 285.1l.8 2.2l2.3 .1l-1.8 1.4l.6 2.2l-1.9 -1.3l-1.9 1.3l.6 -2.2l-1.8 -1.4l2.3 -.1zM567.6 246.5l.8 2.2l2.3 .1l-1.8 1.4l.6 2.2l-1.9 -1.3l-1.9 1.3l.6 -2.2l-1.8 -1.4l2.3 -.1zM533.6 240.7l.8 2.2l2.3 .1l-1.8 1.4l.6 2.2l-1.9 -1.3l-1.9 1.3l.6 -2.2l-1.8 -1.4l2.3 -.1zM596.6 274.5l.8 2.2l2.3 .1l-1.8 1.4l.6 2.2l-1.9 -1.3l-1.9 1.3l.6 -2.2l-1.8 -1.4l2.3 -.1zM567 252.8l.8 2.2l2.3 .1l-1.8 1.4l.6 2.2l-1.9 -1.3l-1.9 1.3l.6 -2.2l-1.8 -1.4l2.3 -.1zM562.7 268l.8 2.2l2.3 .1l-1.8 1.4l.6 2.2l-1.9 -1.3l-1.9 1.3l.6 -2.2l-1.8 -1.4l2.3 -.1zM604.2 279.9l.8 2.2l2.3 .1l-1.8 1.4l.6 2.2l-1.9 -1.3l-1.9 1.3l.6 -2.2l-1.8 -1.4l2.3 -.1zM583.6 268.8l.8 2.2l2.3 .1l-1.8 1.4l.6 2.2l-1.9 -1.3l-1.9 1.3l.6 -2.2l-1.8 -1.4l2.3 -.1zM568.2 268.6l.8 2.2l2.3 .1l-1.8 1.4l.6 2.2l-1.9 -1.3l-1.9 1.3l.6 -2.2l-1.8 -1.4l2.3 -.1zM571.9 254.4l.8 2.2l2.3 .1l-1.8 1.4l.6 2.2l-1.9 -1.3l-1.9 1.3l.6 -2.2l-1.8 -1.4l2.3 -.1zM571.2 264.3l.8 2.2l2.3 .1l-1.8 1.4l.6 2.2l-1.9 -1.3l-1.9 1.3l.6 -2.2l-1.8 -1.4l2.3 -.1zM565.1 250l.8 2.2l2.3 .1l-1.8 1.4l.6 2.2l-1.9 -1.3l-1.9 1.3l.6 -2.2l-1.8 -1.4l2.3 -.1zM539.2 241.8l.8 2.2l2.3 .1l-1.8 1.4l.6 2.2l-1.9 -1.3l-1.9 1.3l.6 -2.2l-1.8 -1.4l2.3 -.1zM595.2 282.3l.8 2.2l2.3 .1l-1.8 1.4l.6 2.2l-1.9 -1.3l-1.9 1.3l.6 -2.2l-1.8 -1.4l2.3 -.1zM562 251.8l.8 2.2l2.3 .1l-1.8 1.4l.6 2.2l-1.9 -1.3l-1.9 1.3l.6 -2.2l-1.8 -1.4l2.3 -.1zM533.4 239l.8 2.2l2.3 .1l-1.8 1.4l.6 2.2l-1.9 -1.3l-1.9 1.3l.6 -2.2l-1.8 -1.4l2.3 -.1zM619.8 291.1l.8 2.2l2.3 .1l-1.8 1.4l.6 2.2l-1.9 -1.3l-1.9 1.3l.6 -2.2l-1.8 -1.4l2.3 -.1zM602.2 293.1l.8 2.2l2.3 .1l-1.8 1.4l.6 2.2l-1.9 -1.3l-1.9 1.3l.6 -2.2l-1.8 -1.4l2.3 -.1zM615.5 292.5l.8 2.2l2.3 .1l-1.8 1.4l.6 2.2l-1.9 -1.3l-1.9 1.3l.6 -2.2l-1.8 -1.4l2.3 -.1zM569.3 251l.8 2.2l2.3 .1l-1.8 1.4l.6 2.2l-1.9 -1.3l-1.9 1.3l.6 -2.2l-1.8 -1.4l2.3 -.1zM620.6 290.1l.8 2.2l2.3 .1l-1.8 1.4l.6 2.2l-1.9 -1.3l-1.9 1.3l.6 -2.2l-1.8 -1.4l2.3 -.1zM590.9 280l.8 2.2l2.3 .1l-1.8 1.4l.6 2.2l-1.9 -1.3l-1.9 1.3l.6 -2.2l-1.8 -1.4l2.3 -.1zM556.4 253.8l.8 2.2l2.3 .1l-1.8 1.4l.6 2.2l-1.9 -1.3l-1.9 1.3l.6 -2.2l-1.8 -1.4l2.3 -.1zM560 261.2l.8 2.2l2.3 .1l-1.8 1.4l.6 2.2l-1.9 -1.3l-1.9 1.3l.6 -2.2l-1.8 -1.4l2.3 -.1zM593.4 270.9l.8 2.2l2.3 .1l-1.8 1.4l.6 2.2l-1.9 -1.3l-1.9 1.3l.6 -2.2l-1.8 -1.4l2.3 -.1zM615.5 291.6l.8 2.2l2.3 .1l-1.8 1.4l.6 2.2l-1.9 -1.3l-1.9 1.3l.6 -2.2l-1.8 -1.4l2.3 -.1zM574 258.8l.8 2.2l2.3 .1l-1.8 1.4l.6 2.2l-1.9 -1.3l-1.9 1.3l.6 -2.2l-1.8 -1.4l2.3 -.1zM573 257.1l.8 2.2l2.3 .1l-1.8 1.4l.6 2.2l-1.9 -1.3l-1.9 1.3l.6 -2.2l-1.8 -1.4l2.3 -.1zM565.7 253.8l.8 2.2l2.3 .1l-1.8 1.4l.6 2.2l-1.9 -1.3l-1.9 1.3l.6 -2.2l-1.8 -1.4l2.3 -.1zM583.3 267.6l.8 2.2l2.3 .1l-1.8 1.4l.6 2.2l-1.9 -1.3l-1.9 1.3l.6 -2.2l-1.8 -1.4l2.3 -.1zM589.7 285l.8 2.2l2.3 .1l-1.8 1.4l.6 2.2l-1.9 -1.3l-1.9 1.3l.6 -2.2l-1.8 -1.4l2.3 -.1zM547.5 241.9l.8 2.2l2.3 .1l-1.8 1.4l.6 2.2l-1.9 -1.3l-1.9 1.3l.6 -2.2l-1.8 -1.4l2.3 -.1zM616.1 292.6l.8 2.2l2.3 .1l-1.8 1.4l.6 2.2l-1.9 -1.3l-1.9 1.3l.6 -2.2l-1.8 -1.4l2.3 -.1zM612.5 286.8l.8 2.2l2.3 .1l-1.8 1.4l.6 2.2l-1.9 -1.3l-1.9 1.3l.6 -2.2l-1.8 -1.4l2.3 -.1zM549.9 245.7l.8 2.2l2.3 .1l-1.8 1.4l.6 2.2l-1.9 -1.3l-1.9 1.3l.6 -2.2l-1.8 -1.4l2.3 -.1zM618.6 285l.8 2.2l2.3 .1l-1.8 1.4l.6 2.2l-1.9 -1.3l-1.9 1.3l.6 -2.2l-1.8 -1.4l2.3 -.1zM607.6 289.3l.8 2.2l2.3 .1l-1.8 1.4l.6 2.2l-1.9 -1.3l-1.9 1.3l.6 -2.2l-1.8 -1.4l2.3 -.1zM591.9 266l.8 2.2l2.3 .1l-1.8 1.4l.6 2.2l-1.9 -1.3l-1.9 1.3l.6 -2.2l-1.8 -1.4l2.3 -.1zM533.5 239.6l.8 2.2l2.3 .1l-1.8 1.4l.6 2.2l-1.9 -1.3l-1.9 1.3l.6 -2.2l-1.8 -1.4l2.3 -.1zM575.7 261.4l.8 2.2l2.3 .1l-1.8 1.4l.6 2.2l-1.9 -1.3l-1.9 1.3l.6 -2.2l-1.8 -1.4l2.3 -.1zM615.3 289.3l.8 2.2l2.3 .1l-1.8 1.4l.6 2.2l-1.9 -1.3l-1.9 1.3l.6 -2.2l-1.8 -1.4l2.3 -.1zM583.7 259.8l.8 2.2l2.3 .1l-1.8 1.4l.6 2.2l-1.9 -1.3l-1.9 1.3l.6 -2.2l-1.8 -1.4l2.3 -.1zM612.4 292.8l.8 2.2l2.3 .1l-1.8 1.4l.6 2.2l-1.9 -1.3l-1.9 1.3l.6 -2.2l-1.8 -1.4l2.3 -.1zM554.3 263.8l.8 2.2l2.3 .1l-1.8 1.4l.6 2.2l-1.9 -1.3l-1.9 1.3l.6 -2.2l-1.8 -1.4l2.3 -.1zM618.3 290.4l.8 2.2l2.3 .1l-1.8 1.4l.6 2.2l-1.9 -1.3l-1.9 1.3l.6 -2.2l-1.8 -1.4l2.3 -.1zM549.6 255.1l.8 2.2l2.3 .1l-1.8 1.4l.6 2.2l-1.9 -1.3l-1.9 1.3l.6 -2.2l-1.8 -1.4l2.3 -.1zM586.9 282l.8 2.2l2.3 .1l-1.8 1.4l.6 2.2l-1.9 -1.3l-1.9 1.3l.6 -2.2l-1.8 -1.4l2.3 -.1zM617.1 286.5l.8 2.2l2.3 .1l-1.8 1.4l.6 2.2l-1.9 -1.3l-1.9 1.3l.6 -2.2l-1.8 -1.4l2.3 -.1zM533.5 242.1l.8 2.2l2.3 .1l-1.8 1.4l.6 2.2l-1.9 -1.3l-1.9 1.3l.6 -2.2l-1.8 -1.4l2.3 -.1zM603.8 281.1l.8 2.2l2.3 .1l-1.8 1.4l.6 2.2l-1.9 -1.3l-1.9 1.3l.6 -2.2l-1.8 -1.4l2.3 -.1zM535.3 239l.8 2.2l2.3 .1l-1.8 1.4l.6 2.2l-1.9 -1.3l-1.9 1.3l.6 -2.2l-1.8 -1.4l2.3 -.1zM590.6 282l.8 2.2l2.3 .1l-1.8 1.4l.6 2.2l-1.9 -1.3l-1.9 1.3l.6 -2.2l-1.8 -1.4l2.3 -.1zM591.9 273.5l.8 2.2l2.3 .1l-1.8 1.4l.6 2.2l-1.9 -1.3l-1.9 1.3l.6 -2.2l-1.8 -1.4l2.3 -.1zM608.6 283.4l.8 2.2l2.3 .1l-1.8 1.4l.6 2.2l-1.9 -1.3l-1.9 1.3l.6 -2.2l-1.8 -1.4l2.3 -.1zM596.4 275.3l.8 2.2l2.3 .1l-1.8 1.4l.6 2.2l-1.9 -1.3l-1.9 1.3l.6 -2.2l-1.8 -1.4l2.3 -.1zM572.1 260.1l.8 2.2l2.3 .1l-1.8 1.4l.6 2.2l-1.9 -1.3l-1.9 1.3l.6 -2.2l-1.8 -1.4l2.3 -.1zM587.4 269l.8 2.2l2.3 .1l-1.8 1.4l.6 2.2l-1.9 -1.3l-1.9 1.3l.6 -2.2l-1.8 -1.4l2.3 -.1zM582 270.6l.8 2.2l2.3 .1l-1.8 1.4l.6 2.2l-1.9 -1.3l-1.9 1.3l.6 -2.2l-1.8 -1.4l2.3 -.1zM604 284.6l.8 2.2l2.3 .1l-1.8 1.4l.6 2.2l-1.9 -1.3l-1.9 1.3l.6 -2.2l-1.8 -1.4l2.3 -.1zM558.1 262.6l.8 2.2l2.3 .1l-1.8 1.4l.6 2.2l-1.9 -1.3l-1.9 1.3l.6 -2.2l-1.8 -1.4l2.3 -.1zM576.8 258.3l.8 2.2l2.3 .1l-1.8 1.4l.6 2.2l-1.9 -1.3l-1.9 1.3l.6 -2.2l-1.8 -1.4l2.3 -.1zM576 258.2l.8 2.2l2.3 .1l-1.8 1.4l.6 2.2l-1.9 -1.3l-1.9 1.3l.6 -2.2l-1.8 -1.4l2.3 -.1zM580.9 269l.8 2.2l2.3 .1l-1.8 1.4l.6 2.2l-1.9 -1.3l-1.9 1.3l.6 -2.2l-1.8 -1.4l2.3 -.1zM552 240l.8 2.2l2.3 .1l-1.8 1.4l.6 2.2l-1.9 -1.3l-1.9 1.3l.6 -2.2l-1.8 -1.4l2.3 -.1zM552.7 248.5l.8 2.2l2.3 .1l-1.8 1.4l.6 2.2l-1.9 -1.3l-1.9 1.3l.6 -2.2l-1.8 -1.4l2.3 -.1zM549.1 241.3l.8 2.2l2.3 .1l-1.8 1.4l.6 2.2l-1.9 -1.3l-1.9 1.3l.6 -2.2l-1.8 -1.4l2.3 -.1zM599.2 279.6l.8 2.2l2.3 .1l-1.8 1.4l.6 2.2l-1.9 -1.3l-1.9 1.3l.6 -2.2l-1.8 -1.4l2.3 -.1zM550.8 245.4l.8 2.2l2.3 .1l-1.8 1.4l.6 2.2l-1.9 -1.3l-1.9 1.3l.6 -2.2l-1.8 -1.4l2.3 -.1zM553.3 253.3l.8 2.2l2.3 .1l-1.8 1.4l.6 2.2l-1.9 -1.3l-1.9 1.3l.6 -2.2l-1.8 -1.4l2.3 -.1zM541.7 254.6l.8 2.2l2.3 .1l-1.8 1.4l.6 2.2l-1.9 -1.3l-1.9 1.3l.6 -2.2l-1.8 -1.4l2.3 -.1zM619 288.2l.8 2.2l2.3 .1l-1.8 1.4l.6 2.2l-1.9 -1.3l-1.9 1.3l.6 -2.2l-1.8 -1.4l2.3 -.1zM603.2 281.1l.8 2.2l2.3 .1l-1.8 1.4l.6 2.2l-1.9 -1.3l-1.9 1.3l.6 -2.2l-1.8 -1.4l2.3 -.1zM565.6 267.6l.8 2.2l2.3 .1l-1.8 1.4l.6 2.2l-1.9 -1.3l-1.9 1.3l.6 -2.2l-1.8 -1.4l2.3 -.1zM572.3 266.9l.8 2.2l2.3 .1l-1.8 1.4l.6 2.2l-1.9 -1.3l-1.9 1.3l.6 -2.2l-1.8 -1.4l2.3 -.1zM614 286.2l.8 2.2l2.3 .1l-1.8 1.4l.6 2.2l-1.9 -1.3l-1.9 1.3l.6 -2.2l-1.8 -1.4l2.3 -.1zM604.1 291.6l.8 2.2l2.3 .1l-1.8 1.4l.6 2.2l-1.9 -1.3l-1.9 1.3l.6 -2.2l-1.8 -1.4l2.3 -.1zM610.1 289.3l.8 2.2l2.3 .1l-1.8 1.4l.6 2.2l-1.9 -1.3l-1.9 1.3l.6 -2.2l-1.8 -1.4l2.3 -.1zM539 245.8l.8 2.2l2.3 .1l-1.8 1.4l.6 2.2l-1.9 -1.3l-1.9 1.3l.6 -2.2l-1.8 -1.4l2.3 -.1zM593.2 278.7l.8 2.2l2.3 .1l-1.8 1.4l.6 2.2l-1.9 -1.3l-1.9 1.3l.6 -2.2l-1.8 -1.4l2.3 -.1zM587.4 274.1l.8 2.2l2.3 .1l-1.8 1.4l.6 2.2l-1.9 -1.3l-1.9 1.3l.6 -2.2l-1.8 -1.4l2.3 -.1zM605.4 277.9l.8 2.2l2.3 .1l-1.8 1.4l.6 2.2l-1.9 -1.3l-1.9 1.3l.6 -2.2l-1.8 -1.4l2.3 -.1zM603.4 279.6l.8 2.2l2.3 .1l-1.8 1.4l.6 2.2l-1.9 -1.3l-1.9 1.3l.6 -2.2l-1.8 -1.4l2.3 -.1zM586.5 263.4l.8 2.2l2.3 .1l-1.8 1.4l.6 2.2l-1.9 -1.3l-1.9 1.3l.6 -2.2l-1.8 -1.4l2.3 -.1zM538 248.1l.8 2.2l2.3 .1l-1.8 1.4l.6 2.2l-1.9 -1.3l-1.9 1.3l.6 -2.2l-1.8 -1.4l2.3 -.1zM538.4 236l.8 2.2l2.3 .1l-1.8 1.4l.6 2.2l-1.9 -1.3l-1.9 1.3l.6 -2.2l-1.8 -1.4l2.3 -.1zM534.7 244.7l.8 2.2l2.3 .1l-1.8 1.4l.6 2.2l-1.9 -1.3l-1.9 1.3l.6 -2.2l-1.8 -1.4l2.3 -.1zM549.4 258.2l.8 2.2l2.3 .1l-1.8 1.4l.6 2.2l-1.9 -1.3l-1.9 1.3l.6 -2.2l-1.8 -1.4l2.3 -.1zM552 260.6l.8 2.2l2.3 .1l-1.8 1.4l.6 2.2l-1.9 -1.3l-1.9 1.3l.6 -2.2l-1.8 -1.4l2.3 -.1zM548.4 244.9l.8 2.2l2.3 .1l-1.8 1.4l.6 2.2l-1.9 -1.3l-1.9 1.3l.6 -2.2l-1.8 -1.4l2.3 -.1zM559.1 256.5l.8 2.2l2.3 .1l-1.8 1.4l.6 2.2l-1.9 -1.3l-1.9 1.3l.6 -2.2l-1.8 -1.4l2.3 -.1zM598.8 286.4l.8 2.2l2.3 .1l-1.8 1.4l.6 2.2l-1.9 -1.3l-1.9 1.3l.6 -2.2l-1.8 -1.4l2.3 -.1zM540.6 257.3l.8 2.2l2.3 .1l-1.8 1.4l.6 2.2l-1.9 -1.3l-1.9 1.3l.6 -2.2l-1.8 -1.4l2.3 -.1zM621.9 288.4l.8 2.2l2.3 .1l-1.8 1.4l.6 2.2l-1.9 -1.3l-1.9 1.3l.6 -2.2l-1.8 -1.4l2.3 -.1zM604.9 287.6l.8 2.2l2.3 .1l-1.8 1.4l.6 2.2l-1.9 -1.3l-1.9 1.3l.6 -2.2l-1.8 -1.4l2.3 -.1zM608.2 281.6l.8 2.2l2.3 .1l-1.8 1.4l.6 2.2l-1.9 -1.3l-1.9 1.3l.6 -2.2l-1.8 -1.4l2.3 -.1zM570.5 270.7l.8 2.2l2.3 .1l-1.8 1.4l.6 2.2l-1.9 -1.3l-1.9 1.3l.6 -2.2l-1.8 -1.4l2.3 -.1zM593.9 269.8l.8 2.2l2.3 .1l-1.8 1.4l.6 2.2l-1.9 -1.3l-1.9 1.3l.6 -2.2l-1.8 -1.4l2.3 -.1zM591.2 285.8l.8 2.2l2.3 .1l-1.8 1.4l.6 2.2l-1.9 -1.3l-1.9 1.3l.6 -2.2l-1.8 -1.4l2.3 -.1zM547.3 245.4l.8 2.2l2.3 .1l-1.8 1.4l.6 2.2l-1.9 -1.3l-1.9 1.3l.6 -2.2l-1.8 -1.4l2.3 -.1zM621 291.8l.8 2.2l2.3 .1l-1.8 1.4l.6 2.2l-1.9 -1.3l-1.9 1.3l.6 -2.2l-1.8 -1.4l2.3 -.1zM614.6 284.3l.8 2.2l2.3 .1l-1.8 1.4l.6 2.2l-1.9 -1.3l-1.9 1.3l.6 -2.2l-1.8 -1.4l2.3 -.1zM566.8 264.6l.8 2.2l2.3 .1l-1.8 1.4l.6 2.2l-1.9 -1.3l-1.9 1.3l.6 -2.2l-1.8 -1.4l2.3 -.1zM556.1 243.4l.8 2.2l2.3 .1l-1.8 1.4l.6 2.2l-1.9 -1.3l-1.9 1.3l.6 -2.2l-1.8 -1.4l2.3 -.1zM544 239.1l.8 2.2l2.3 .1l-1.8 1.4l.6 2.2l-1.9 -1.3l-1.9 1.3l.6 -2.2l-1.8 -1.4l2.3 -.1zM562.6 264.9l.8 2.2l2.3 .1l-1.8 1.4l.6 2.2l-1.9 -1.3l-1.9 1.3l.6 -2.2l-1.8 -1.4l2.3 -.1zM595.8 287l.8 2.2l2.3 .1l-1.8 1.4l.6 2.2l-1.9 -1.3l-1.9 1.3l.6 -2.2l-1.8 -1.4l2.3 -.1zM587.9 266.2l.8 2.2l2.3 .1l-1.8 1.4l.6 2.2l-1.9 -1.3l-1.9 1.3l.6 -2.2l-1.8 -1.4l2.3 -.1zM597 277.3l.8 2.2l2.3 .1l-1.8 1.4l.6 2.2l-1.9 -1.3l-1.9 1.3l.6 -2.2l-1.8 -1.4l2.3 -.1zM565.7 265.5l.8 2.2l2.3 .1l-1.8 1.4l.6 2.2l-1.9 -1.3l-1.9 1.3l.6 -2.2l-1.8 -1.4l2.3 -.1zM621.2 286.4l.8 2.2l2.3 .1l-1.8 1.4l.6 2.2l-1.9 -1.3l-1.9 1.3l.6 -2.2l-1.8 -1.4l2.3 -.1zM602.7 289.5l.8 2.2l2.3 .1l-1.8 1.4l.6 2.2l-1.9 -1.3l-1.9 1.3l.6 -2.2l-1.8 -1.4l2.3 -.1zM594.4 274.2l.8 2.2l2.3 .1l-1.8 1.4l.6 2.2l-1.9 -1.3l-1.9 1.3l.6 -2.2l-1.8 -1.4l2.3 -.1zM550.3 248.2l.8 2.2l2.3 .1l-1.8 1.4l.6 2.2l-1.9 -1.3l-1.9 1.3l.6 -2.2l-1.8 -1.4l2.3 -.1zM535 237.7l.8 2.2l2.3 .1l-1.8 1.4l.6 2.2l-1.9 -1.3l-1.9 1.3l.6 -2.2l-1.8 -1.4l2.3 -.1zM608.2 283.1l.8 2.2l2.3 .1l-1.8 1.4l.6 2.2l-1.9 -1.3l-1.9 1.3l.6 -2.2l-1.8 -1.4l2.3 -.1zM584.8 273.7l.8 2.2l2.3 .1l-1.8 1.4l.6 2.2l-1.9 -1.3l-1.9 1.3l.6 -2.2l-1.8 -1.4l2.3 -.1zM567.8 256.1l.8 2.2l2.3 .1l-1.8 1.4l.6 2.2l-1.9 -1.3l-1.9 1.3l.6 -2.2l-1.8 -1.4l2.3 -.1zM557.3 248.9l.8 2.2l2.3 .1l-1.8 1.4l.6 2.2l-1.9 -1.3l-1.9 1.3l.6 -2.2l-1.8 -1.4l2.3 -.1zM570.6 262l.8 2.2l2.3 .1l-1.8 1.4l.6 2.2l-1.9 -1.3l-1.9 1.3l.6 -2.2l-1.8 -1.4l2.3 -.1zM570.5 268.2l.8 2.2l2.3 .1l-1.8 1.4l.6 2.2l-1.9 -1.3l-1.9 1.3l.6 -2.2l-1.8 -1.4l2.3 -.1zM571.7 249.1l.8 2.2l2.3 .1l-1.8 1.4l.6 2.2l-1.9 -1.3l-1.9 1.3l.6 -2.2l-1.8 -1.4l2.3 -.1zM584.9 270.7l.8 2.2l2.3 .1l-1.8 1.4l.6 2.2l-1.9 -1.3l-1.9 1.3l.6 -2.2l-1.8 -1.4l2.3 -.1zM591.6 274.7l.8 2.2l2.3 .1l-1.8 1.4l.6 2.2l-1.9 -1.3l-1.9 1.3l.6 -2.2l-1.8 -1.4l2.3 -.1zM609.3 285.3l.8 2.2l2.3 .1l-1.8 1.4l.6 2.2l-1.9 -1.3l-1.9 1.3l.6 -2.2l-1.8 -1.4l2.3 -.1zM564 254.6l.8 2.2l2.3 .1l-1.8 1.4l.6 2.2l-1.9 -1.3l-1.9 1.3l.6 -2.2l-1.8 -1.4l2.3 -.1zM621.6 288.7l.8 2.2l2.3 .1l-1.8 1.4l.6 2.2l-1.9 -1.3l-1.9 1.3l.6 -2.2l-1.8 -1.4l2.3 -.1zM571.9 263.8l.8 2.2l2.3 .1l-1.8 1.4l.6 2.2l-1.9 -1.3l-1.9 1.3l.6 -2.2l-1.8 -1.4l2.3 -.1zM618 291.7l.8 2.2l2.3 .1l-1.8 1.4l.6 2.2l-1.9 -1.3l-1.9 1.3l.6 -2.2l-1.8 -1.4l2.3 -.1zM592.3 269.6l.8 2.2l2.3 .1l-1.8 1.4l.6 2.2l-1.9 -1.3l-1.9 1.3l.6 -2.2l-1.8 -1.4l2.3 -.1zM617.7 289.4l.8 2.2l2.3 .1l-1.8 1.4l.6 2.2l-1.9 -1.3l-1.9 1.3l.6 -2.2l-1.8 -1.4l2.3 -.1zM569 262l.8 2.2l2.3 .1l-1.8 1.4l.6 2.2l-1.9 -1.3l-1.9 1.3l.6 -2.2l-1.8 -1.4l2.3 -.1zM559.9 247.3l.8 2.2l2.3 .1l-1.8 1.4l.6 2.2l-1.9 -1.3l-1.9 1.3l.6 -2.2l-1.8 -1.4l2.3 -.1zM568.7 252.7l.8 2.2l2.3 .1l-1.8 1.4l.6 2.2l-1.9 -1.3l-1.9 1.3l.6 -2.2l-1.8 -1.4l2.3 -.1zM556.7 257.5l.8 2.2l2.3 .1l-1.8 1.4l.6 2.2l-1.9 -1.3l-1.9 1.3l.6 -2.2l-1.8 -1.4l2.3 -.1zM534.2 236l.8 2.2l2.3 .1l-1.8 1.4l.6 2.2l-1.9 -1.3l-1.9 1.3l.6 -2.2l-1.8 -1.4l2.3 -.1zM597.6 274.1l.8 2.2l2.3 .1l-1.8 1.4l.6 2.2l-1.9 -1.3l-1.9 1.3l.6 -2.2l-1.8 -1.4l2.3 -.1zM541.4 253.6l.8 2.2l2.3 .1l-1.8 1.4l.6 2.2l-1.9 -1.3l-1.9 1.3l.6 -2.2l-1.8 -1.4l2.3 -.1zM533.6 245l.8 2.2l2.3 .1l-1.8 1.4l.6 2.2l-1.9 -1.3l-1.9 1.3l.6 -2.2l-1.8 -1.4l2.3 -.1zM579.1 267.1l.8 2.2l2.3 .1l-1.8 1.4l.6 2.2l-1.9 -1.3l-1.9 1.3l.6 -2.2l-1.8 -1.4l2.3 -.1zM585.6 270.7l.8 2.2l2.3 .1l-1.8 1.4l.6 2.2l-1.9 -1.3l-1.9 1.3l.6 -2.2l-1.8 -1.4l2.3 -.1zM552.4 253.3l.8 2.2l2.3 .1l-1.8 1.4l.6 2.2l-1.9 -1.3l-1.9 1.3l.6 -2.2l-1.8 -1.4l2.3 -.1zM609.2 289.2l.8 2.2l2.3 .1l-1.8 1.4l.6 2.2l-1.9 -1.3l-1.9 1.3l.6 -2.2l-1.8 -1.4l2.3 -.1zM548.1 256.1l.8 2.2l2.3 .1l-1.8 1.4l.6 2.2l-1.9 -1.3l-1.9 1.3l.6 -2.2l-1.8 -1.4l2.3 -.1zM600.1 283.8l.8 2.2l2.3 .1l-1.8 1.4l.6 2.2l-1.9 -1.3l-1.9 1.3l.6 -2.2l-1.8 -1.4l2.3 -.1zM570.2 254.4l.8 2.2l2.3 .1l-1.8 1.4l.6 2.2l-1.9 -1.3l-1.9 1.3l.6 -2.2l-1.8 -1.4l2.3 -.1zM533.6 239.3l.8 2.2l2.3 .1l-1.8 1.4l.6 2.2l-1.9 -1.3l-1.9 1.3l.6 -2.2l-1.8 -1.4l2.3 -.1zM552.2 259.3l.8 2.2l2.3 .1l-1.8 1.4l.6 2.2l-1.9 -1.3l-1.9 1.3l.6 -2.2l-1.8 -1.4l2.3 -.1zM545.7 246.6l.8 2.2l2.3 .1l-1.8 1.4l.6 2.2l-1.9 -1.3l-1.9 1.3l.6 -2.2l-1.8 -1.4l2.3 -.1zM622 290.1l.8 2.2l2.3 .1l-1.8 1.4l.6 2.2l-1.9 -1.3l-1.9 1.3l.6 -2.2l-1.8 -1.4l2.3 -.1zM566 262.6l.8 2.2l2.3 .1l-1.8 1.4l.6 2.2l-1.9 -1.3l-1.9 1.3l.6 -2.2l-1.8 -1.4l2.3 -.1zM589.5 285.7l.8 2.2l2.3 .1l-1.8 1.4l.6 2.2l-1.9 -1.3l-1.9 1.3l.6 -2.2l-1.8 -1.4l2.3 -.1zM620.1 292.3l.8 2.2l2.3 .1l-1.8 1.4l.6 2.2l-1.9 -1.3l-1.9 1.3l.6 -2.2l-1.8 -1.4l2.3 -.1zM580 259.2l.8 2.2l2.3 .1l-1.8 1.4l.6 2.2l-1.9 -1.3l-1.9 1.3l.6 -2.2l-1.8 -1.4l2.3 -.1zM551.6 246.9l.8 2.2l2.3 .1l-1.8 1.4l.6 2.2l-1.9 -1.3l-1.9 1.3l.6 -2.2l-1.8 -1.4l2.3 -.1zM548.1 241l.8 2.2l2.3 .1l-1.8 1.4l.6 2.2l-1.9 -1.3l-1.9 1.3l.6 -2.2l-1.8 -1.4l2.3 -.1zM569.6 262.7l.8 2.2l2.3 .1l-1.8 1.4l.6 2.2l-1.9 -1.3l-1.9 1.3l.6 -2.2l-1.8 -1.4l2.3 -.1zM607.6 283.3l.8 2.2l2.3 .1l-1.8 1.4l.6 2.2l-1.9 -1.3l-1.9 1.3l.6 -2.2l-1.8 -1.4l2.3 -.1zM582.9 273.9l.8 2.2l2.3 .1l-1.8 1.4l.6 2.2l-1.9 -1.3l-1.9 1.3l.6 -2.2l-1.8 -1.4l2.3 -.1zM612.8 289.9l.8 2.2l2.3 .1l-1.8 1.4l.6 2.2l-1.9 -1.3l-1.9 1.3l.6 -2.2l-1.8 -1.4l2.3 -.1zM553.5 252.7l.8 2.2l2.3 .1l-1.8 1.4l.6 2.2l-1.9 -1.3l-1.9 1.3l.6 -2.2l-1.8 -1.4l2.3 -.1zM552.4 248.5l.8 2.2l2.3 .1l-1.8 1.4l.6 2.2l-1.9 -1.3l-1.9 1.3l.6 -2.2l-1.8 -1.4l2.3 -.1zM586.4 271.8l.8 2.2l2.3 .1l-1.8 1.4l.6 2.2l-1.9 -1.3l-1.9 1.3l.6 -2.2l-1.8 -1.4l2.3 -.1zM617.7 277.4l.8 2.2l2.3 .1l-1.8 1.4l.6 2.2l-1.9 -1.3l-1.9 1.3l.6 -2.2l-1.8 -1.4l2.3 -.1zM618.2 277.9l.8 2.2l2.3 .1l-1.8 1.4l.6 2.2l-1.9 -1.3l-1.9 1.3l.6 -2.2l-1.8 -1.4l2.3 -.1zM620.3 278.1l.8 2.2l2.3 .1l-1.8 1.4l.6 2.2l-1.9 -1.3l-1.9 1.3l.6 -2.2l-1.8 -1.4l2.3 -.1zM618.2 277.5l.8 2.2l2.3 .1l-1.8 1.4l.6 2.2l-1.9 -1.3l-1.9 1.3l.6 -2.2l-1.8 -1.4l2.3 -.1zM619.2 272.1l.8 2.2l2.3 .1l-1.8 1.4l.6 2.2l-1.9 -1.3l-1.9 1.3l.6 -2.2l-1.8 -1.4l2.3 -.1zM618.8 276l.8 2.2l2.3 .1l-1.8 1.4l.6 2.2l-1.9 -1.3l-1.9 1.3l.6 -2.2l-1.8 -1.4l2.3 -.1zM618.9 274.1l.8 2.2l2.3 .1l-1.8 1.4l.6 2.2l-1.9 -1.3l-1.9 1.3l.6 -2.2l-1.8 -1.4l2.3 -.1zM618.2 275.3l.8 2.2l2.3 .1l-1.8 1.4l.6 2.2l-1.9 -1.3l-1.9 1.3l.6 -2.2l-1.8 -1.4l2.3 -.1zM619.5 275.3l.8 2.2l2.3 .1l-1.8 1.4l.6 2.2l-1.9 -1.3l-1.9 1.3l.6 -2.2l-1.8 -1.4l2.3 -.1zM619.1 278.9l.8 2.2l2.3 .1l-1.8 1.4l.6 2.2l-1.9 -1.3l-1.9 1.3l.6 -2.2l-1.8 -1.4l2.3 -.1zM618.9 277.4l.8 2.2l2.3 .1l-1.8 1.4l.6 2.2l-1.9 -1.3l-1.9 1.3l.6 -2.2l-1.8 -1.4l2.3 -.1zM618.4 279l.8 2.2l2.3 .1l-1.8 1.4l.6 2.2l-1.9 -1.3l-1.9 1.3l.6 -2.2l-1.8 -1.4l2.3 -.1zM617.6 276.9l.8 2.2l2.3 .1l-1.8 1.4l.6 2.2l-1.9 -1.3l-1.9 1.3l.6 -2.2l-1.8 -1.4l2.3 -.1zM617.4 273.4l.8 2.2l2.3 .1l-1.8 1.4l.6 2.2l-1.9 -1.3l-1.9 1.3l.6 -2.2l-1.8 -1.4l2.3 -.1zM617.9 275.6l.8 2.2l2.3 .1l-1.8 1.4l.6 2.2l-1.9 -1.3l-1.9 1.3l.6 -2.2l-1.8 -1.4l2.3 -.1zM618.7 279.1l.8 2.2l2.3 .1l-1.8 1.4l.6 2.2l-1.9 -1.3l-1.9 1.3l.6 -2.2l-1.8 -1.4l2.3 -.1zM616.4 277.4l.8 2.2l2.3 .1l-1.8 1.4l.6 2.2l-1.9 -1.3l-1.9 1.3l.6 -2.2l-1.8 -1.4l2.3 -.1zM619.6 276.7l.8 2.2l2.3 .1l-1.8 1.4l.6 2.2l-1.9 -1.3l-1.9 1.3l.6 -2.2l-1.8 -1.4l2.3 -.1zM619.3 277.2l.8 2.2l2.3 .1l-1.8 1.4l.6 2.2l-1.9 -1.3l-1.9 1.3l.6 -2.2l-1.8 -1.4l2.3 -.1zM620.3 275.6l.8 2.2l2.3 .1l-1.8 1.4l.6 2.2l-1.9 -1.3l-1.9 1.3l.6 -2.2l-1.8 -1.4l2.3 -.1zM618.9 280.9l.8 2.2l2.3 .1l-1.8 1.4l.6 2.2l-1.9 -1.3l-1.9 1.3l.6 -2.2l-1.8 -1.4l2.3 -.1zM618.8 273.9l.8 2.2l2.3 .1l-1.8 1.4l.6 2.2l-1.9 -1.3l-1.9 1.3l.6 -2.2l-1.8 -1.4l2.3 -.1zM569.8 227.6l.8 2.2l2.3 .1l-1.8 1.4l.6 2.2l-1.9 -1.3l-1.9 1.3l.6 -2.2l-1.8 -1.4l2.3 -.1zM569 225.9l.8 2.2l2.3 .1l-1.8 1.4l.6 2.2l-1.9 -1.3l-1.9 1.3l.6 -2.2l-1.8 -1.4l2.3 -.1zM569.3 229.7l.8 2.2l2.3 .1l-1.8 1.4l.6 2.2l-1.9 -1.3l-1.9 1.3l.6 -2.2l-1.8 -1.4l2.3 -.1zM569 227.2l.8 2.2l2.3 .1l-1.8 1.4l.6 2.2l-1.9 -1.3l-1.9 1.3l.6 -2.2l-1.8 -1.4l2.3 -.1zM570.7 225.5l.8 2.2l2.3 .1l-1.8 1.4l.6 2.2l-1.9 -1.3l-1.9 1.3l.6 -2.2l-1.8 -1.4l2.3 -.1zM569.4 233.6l.8 2.2l2.3 .1l-1.8 1.4l.6 2.2l-1.9 -1.3l-1.9 1.3l.6 -2.2l-1.8 -1.4l2.3 -.1zM569.1 229.7l.8 2.2l2.3 .1l-1.8 1.4l.6 2.2l-1.9 -1.3l-1.9 1.3l.6 -2.2l-1.8 -1.4l2.3 -.1zM568.6 232.1l.8 2.2l2.3 .1l-1.8 1.4l.6 2.2l-1.9 -1.3l-1.9 1.3l.6 -2.2l-1.8 -1.4l2.3 -.1zM568.9 227.5l.8 2.2l2.3 .1l-1.8 1.4l.6 2.2l-1.9 -1.3l-1.9 1.3l.6 -2.2l-1.8 -1.4l2.3 -.1zM569.9 226.5l.8 2.2l2.3 .1l-1.8 1.4l.6 2.2l-1.9 -1.3l-1.9 1.3l.6 -2.2l-1.8 -1.4l2.3 -.1zM568.8 226l.8 2.2l2.3 .1l-1.8 1.4l.6 2.2l-1.9 -1.3l-1.9 1.3l.6 -2.2l-1.8 -1.4l2.3 -.1zM570 226l.8 2.2l2.3 .1l-1.8 1.4l.6 2.2l-1.9 -1.3l-1.9 1.3l.6 -2.2l-1.8 -1.4l2.3 -.1zM569.5 227.9l.8 2.2l2.3 .1l-1.8 1.4l.6 2.2l-1.9 -1.3l-1.9 1.3l.6 -2.2l-1.8 -1.4l2.3 -.1zM570.2 229.1l.8 2.2l2.3 .1l-1.8 1.4l.6 2.2l-1.9 -1.3l-1.9 1.3l.6 -2.2l-1.8 -1.4l2.3 -.1zM568.9 226.3l.8 2.2l2.3 .1l-1.8 1.4l.6 2.2l-1.9 -1.3l-1.9 1.3l.6 -2.2l-1.8 -1.4l2.3 -.1zM569.6 223.3l.8 2.2l2.3 .1l-1.8 1.4l.6 2.2l-1.9 -1.3l-1.9 1.3l.6 -2.2l-1.8 -1.4l2.3 -.1zM569.4 227.5l.8 2.2l2.3 .1l-1.8 1.4l.6 2.2l-1.9 -1.3l-1.9 1.3l.6 -2.2l-1.8 -1.4l2.3 -.1zM568.6 227.1l.8 2.2l2.3 .1l-1.8 1.4l.6 2.2l-1.9 -1.3l-1.9 1.3l.6 -2.2l-1.8 -1.4l2.3 -.1zM568.9 230.3l.8 2.2l2.3 .1l-1.8 1.4l.6 2.2l-1.9 -1.3l-1.9 1.3l.6 -2.2l-1.8 -1.4l2.3 -.1zM569.1 229.7l.8 2.2l2.3 .1l-1.8 1.4l.6 2.2l-1.9 -1.3l-1.9 1.3l.6 -2.2l-1.8 -1.4l2.3 -.1zM570.3 229.4l.8 2.2l2.3 .1l-1.8 1.4l.6 2.2l-1.9 -1.3l-1.9 1.3l.6 -2.2l-1.8 -1.4l2.3 -.1zM568.9 230.2l.8 2.2l2.3 .1l-1.8 1.4l.6 2.2l-1.9 -1.3l-1.9 1.3l.6 -2.2l-1.8 -1.4l2.3 -.1zM526.2 237.2l.8 2.2l2.3 .1l-1.8 1.4l.6 2.2l-1.9 -1.3l-1.9 1.3l.6 -2.2l-1.8 -1.4l2.3 -.1zM522.5 234.2l.8 2.2l2.3 .1l-1.8 1.4l.6 2.2l-1.9 -1.3l-1.9 1.3l.6 -2.2l-1.8 -1.4l2.3 -.1zM532.1 228.7l.8 2.2l2.3 .1l-1.8 1.4l.6 2.2l-1.9 -1.3l-1.9 1.3l.6 -2.2l-1.8 -1.4l2.3 -.1zM529.4 236.4l.8 2.2l2.3 .1l-1.8 1.4l.6 2.2l-1.9 -1.3l-1.9 1.3l.6 -2.2l-1.8 -1.4l2.3 -.1zM529.4 230.4l.8 2.2l2.3 .1l-1.8 1.4l.6 2.2l-1.9 -1.3l-1.9 1.3l.6 -2.2l-1.8 -1.4l2.3 -.1zM521.5 236.4l.8 2.2l2.3 .1l-1.8 1.4l.6 2.2l-1.9 -1.3l-1.9 1.3l.6 -2.2l-1.8 -1.4l2.3 -.1zM526.8 233.4l.8 2.2l2.3 .1l-1.8 1.4l.6 2.2l-1.9 -1.3l-1.9 1.3l.6 -2.2l-1.8 -1.4l2.3 -.1zM526.3 239.4l.8 2.2l2.3 .1l-1.8 1.4l.6 2.2l-1.9 -1.3l-1.9 1.3l.6 -2.2l-1.8 -1.4l2.3 -.1zM525.8 234.2l.8 2.2l2.3 .1l-1.8 1.4l.6 2.2l-1.9 -1.3l-1.9 1.3l.6 -2.2l-1.8 -1.4l2.3 -.1zM525.2 235.2l.8 2.2l2.3 .1l-1.8 1.4l.6 2.2l-1.9 -1.3l-1.9 1.3l.6 -2.2l-1.8 -1.4l2.3 -.1zM528.1 238.9l.8 2.2l2.3 .1l-1.8 1.4l.6 2.2l-1.9 -1.3l-1.9 1.3l.6 -2.2l-1.8 -1.4l2.3 -.1zM533 233.9l.8 2.2l2.3 .1l-1.8 1.4l.6 2.2l-1.9 -1.3l-1.9 1.3l.6 -2.2l-1.8 -1.4l2.3 -.1zM522.8 235.1l.8 2.2l2.3 .1l-1.8 1.4l.6 2.2l-1.9 -1.3l-1.9 1.3l.6 -2.2l-1.8 -1.4l2.3 -.1zM531.2 231.8l.8 2.2l2.3 .1l-1.8 1.4l.6 2.2l-1.9 -1.3l-1.9 1.3l.6 -2.2l-1.8 -1.4l2.3 -.1zM528.2 232.9l.8 2.2l2.3 .1l-1.8 1.4l.6 2.2l-1.9 -1.3l-1.9 1.3l.6 -2.2l-1.8 -1.4l2.3 -.1zM526.2 232.8l.8 2.2l2.3 .1l-1.8 1.4l.6 2.2l-1.9 -1.3l-1.9 1.3l.6 -2.2l-1.8 -1.4l2.3 -.1zM524 239.2l.8 2.2l2.3 .1l-1.8 1.4l.6 2.2l-1.9 -1.3l-1.9 1.3l.6 -2.2l-1.8 -1.4l2.3 -.1zM527.6 236.3l.8 2.2l2.3 .1l-1.8 1.4l.6 2.2l-1.9 -1.3l-1.9 1.3l.6 -2.2l-1.8 -1.4l2.3 -.1zM528.6 237.2l.8 2.2l2.3 .1l-1.8 1.4l.6 2.2l-1.9 -1.3l-1.9 1.3l.6 -2.2l-1.8 -1.4l2.3 -.1zM530.7 235.7l.8 2.2l2.3 .1l-1.8 1.4l.6 2.2l-1.9 -1.3l-1.9 1.3l.6 -2.2l-1.8 -1.4l2.3 -.1zM522.2 237.6l.8 2.2l2.3 .1l-1.8 1.4l.6 2.2l-1.9 -1.3l-1.9 1.3l.6 -2.2l-1.8 -1.4l2.3 -.1zM528 232.2l.8 2.2l2.3 .1l-1.8 1.4l.6 2.2l-1.9 -1.3l-1.9 1.3l.6 -2.2l-1.8 -1.4l2.3 -.1zM529.7 236l.8 2.2l2.3 .1l-1.8 1.4l.6 2.2l-1.9 -1.3l-1.9 1.3l.6 -2.2l-1.8 -1.4l2.3 -.1zM525.3 237.5l.8 2.2l2.3 .1l-1.8 1.4l.6 2.2l-1.9 -1.3l-1.9 1.3l.6 -2.2l-1.8 -1.4l2.3 -.1zM528.5 238.5l.8 2.2l2.3 .1l-1.8 1.4l.6 2.2l-1.9 -1.3l-1.9 1.3l.6 -2.2l-1.8 -1.4l2.3 -.1zM319.6 114.8l.8 2.2l2.3 .1l-1.8 1.4l.6 2.2l-1.9 -1.3l-1.9 1.3l.6 -2.2l-1.8 -1.4l2.3 -.1zM299.1 168.7l.8 2.2l2.3 .1l-1.8 1.4l.6 2.2l-1.9 -1.3l-1.9 1.3l.6 -2.2l-1.8 -1.4l2.3 -.1zM301.9 166.4l.8 2.2l2.3 .1l-1.8 1.4l.6 2.2l-1.9 -1.3l-1.9 1.3l.6 -2.2l-1.8 -1.4l2.3 -.1zM308.8 163.2l.8 2.2l2.3 .1l-1.8 1.4l.6 2.2l-1.9 -1.3l-1.9 1.3l.6 -2.2l-1.8 -1.4l2.3 -.1zM308 151.7l.8 2.2l2.3 .1l-1.8 1.4l.6 2.2l-1.9 -1.3l-1.9 1.3l.6 -2.2l-1.8 -1.4l2.3 -.1zM311.7 145.9l.8 2.2l2.3 .1l-1.8 1.4l.6 2.2l-1.9 -1.3l-1.9 1.3l.6 -2.2l-1.8 -1.4l2.3 -.1zM308.4 151.7l.8 2.2l2.3 .1l-1.8 1.4l.6 2.2l-1.9 -1.3l-1.9 1.3l.6 -2.2l-1.8 -1.4l2.3 -.1zM309 163.1l.8 2.2l2.3 .1l-1.8 1.4l.6 2.2l-1.9 -1.3l-1.9 1.3l.6 -2.2l-1.8 -1.4l2.3 -.1zM312 146.7l.8 2.2l2.3 .1l-1.8 1.4l.6 2.2l-1.9 -1.3l-1.9 1.3l.6 -2.2l-1.8 -1.4l2.3 -.1zM354.2 146.2l.8 2.2l2.3 .1l-1.8 1.4l.6 2.2l-1.9 -1.3l-1.9 1.3l.6 -2.2l-1.8 -1.4l2.3 -.1zM348.8 152.8l.8 2.2l2.3 .1l-1.8 1.4l.6 2.2l-1.9 -1.3l-1.9 1.3l.6 -2.2l-1.8 -1.4l2.3 -.1zM335 152.7l.8 2.2l2.3 .1l-1.8 1.4l.6 2.2l-1.9 -1.3l-1.9 1.3l.6 -2.2l-1.8 -1.4l2.3 -.1zM359 179.4l.8 2.2l2.3 .1l-1.8 1.4l.6 2.2l-1.9 -1.3l-1.9 1.3l.6 -2.2l-1.8 -1.4l2.3 -.1zM388 174.7l.8 2.2l2.3 .1l-1.8 1.4l.6 2.2l-1.9 -1.3l-1.9 1.3l.6 -2.2l-1.8 -1.4l2.3 -.1zM417.8 137.8l.8 2.2l2.3 .1l-1.8 1.4l.6 2.2l-1.9 -1.3l-1.9 1.3l.6 -2.2l-1.8 -1.4l2.3 -.1zM389.8 174.9l.8 2.2l2.3 .1l-1.8 1.4l.6 2.2l-1.9 -1.3l-1.9 1.3l.6 -2.2l-1.8 -1.4l2.3 -.1zM402.5 177.3l.8 2.2l2.3 .1l-1.8 1.4l.6 2.2l-1.9 -1.3l-1.9 1.3l.6 -2.2l-1.8 -1.4l2.3 -.1zM412.7 178.5l.8 2.2l2.3 .1l-1.8 1.4l.6 2.2l-1.9 -1.3l-1.9 1.3l.6 -2.2l-1.8 -1.4l2.3 -.1zM427.2 180.9l.8 2.2l2.3 .1l-1.8 1.4l.6 2.2l-1.9 -1.3l-1.9 1.3l.6 -2.2l-1.8 -1.4l2.3 -.1zM431.4 186.9l.8 2.2l2.3 .1l-1.8 1.4l.6 2.2l-1.9 -1.3l-1.9 1.3l.6 -2.2l-1.8 -1.4l2.3 -.1zM442.2 196.6l.8 2.2l2.3 .1l-1.8 1.4l.6 2.2l-1.9 -1.3l-1.9 1.3l.6 -2.2l-1.8 -1.4l2.3 -.1zM448.9 199l.8 2.2l2.3 .1l-1.8 1.4l.6 2.2l-1.9 -1.3l-1.9 1.3l.6 -2.2l-1.8 -1.4l2.3 -.1zM471.7 209.7l.8 2.2l2.3 .1l-1.8 1.4l.6 2.2l-1.9 -1.3l-1.9 1.3l.6 -2.2l-1.8 -1.4l2.3 -.1zM404 172.7l.8 2.2l2.3 .1l-1.8 1.4l.6 2.2l-1.9 -1.3l-1.9 1.3l.6 -2.2l-1.8 -1.4l2.3 -.1zM410 171.7l.8 2.2l2.3 .1l-1.8 1.4l.6 2.2l-1.9 -1.3l-1.9 1.3l.6 -2.2l-1.8 -1.4l2.3 -.1zM472 228.7l.8 2.2l2.3 .1l-1.8 1.4l.6 2.2l-1.9 -1.3l-1.9 1.3l.6 -2.2l-1.8 -1.4l2.3 -.1zM488 226.7l.8 2.2l2.3 .1l-1.8 1.4l.6 2.2l-1.9 -1.3l-1.9 1.3l.6 -2.2l-1.8 -1.4l2.3 -.1zM579.4 243l.8 2.2l2.3 .1l-1.8 1.4l.6 2.2l-1.9 -1.3l-1.9 1.3l.6 -2.2l-1.8 -1.4l2.3 -.1zM586.6 247.3l.8 2.2l2.3 .1l-1.8 1.4l.6 2.2l-1.9 -1.3l-1.9 1.3l.6 -2.2l-1.8 -1.4l2.3 -.1zM588.8 258.9l.8 2.2l2.3 .1l-1.8 1.4l.6 2.2l-1.9 -1.3l-1.9 1.3l.6 -2.2l-1.8 -1.4l2.3 -.1zM595.3 262.5l.8 2.2l2.3 .1l-1.8 1.4l.6 2.2l-1.9 -1.3l-1.9 1.3l.6 -2.2l-1.8 -1.4l2.3 -.1zM600.4 263.2l.8 2.2l2.3 .1l-1.8 1.4l.6 2.2l-1.9 -1.3l-1.9 1.3l.6 -2.2l-1.8 -1.4l2.3 -.1zM599.6 271.9l.8 2.2l2.3 .1l-1.8 1.4l.6 2.2l-1.9 -1.3l-1.9 1.3l.6 -2.2l-1.8 -1.4l2.3 -.1zM559.2 232.8l.8 2.2l2.3 .1l-1.8 1.4l.6 2.2l-1.9 -1.3l-1.9 1.3l.6 -2.2l-1.8 -1.4l2.3 -.1zM554.8 235.7l.8 2.2l2.3 .1l-1.8 1.4l.6 2.2l-1.9 -1.3l-1.9 1.3l.6 -2.2l-1.8 -1.4l2.3 -.1zM595.4 261.9l.8 2.2l2.3 .1l-1.8 1.4l.6 2.2l-1.9 -1.3l-1.9 1.3l.6 -2.2l-1.8 -1.4l2.3 -.1zM600.5 263.3l.8 2.2l2.3 .1l-1.8 1.4l.6 2.2l-1.9 -1.3l-1.9 1.3l.6 -2.2l-1.8 -1.4l2.3 -.1zM587.5 257.5l.8 2.2l2.3 .1l-1.8 1.4l.6 2.2l-1.9 -1.3l-1.9 1.3l.6 -2.2l-1.8 -1.4l2.3 -.1zM599 272.7l.8 2.2l2.3 .1l-1.8 1.4l.6 2.2l-1.9 -1.3l-1.9 1.3l.6 -2.2l-1.8 -1.4l2.3 -.1zM620.7 265.5l.8 2.2l2.3 .1l-1.8 1.4l.6 2.2l-1.9 -1.3l-1.9 1.3l.6 -2.2l-1.8 -1.4l2.3 -.1zM658.3 290.7l.8 2.2l2.3 .1l-1.8 1.4l.6 2.2l-1.9 -1.3l-1.9 1.3l.6 -2.2l-1.8 -1.4l2.3 -.1zM675 288.7l.8 2.2l2.3 .1l-1.8 1.4l.6 2.2l-1.9 -1.3l-1.9 1.3l.6 -2.2l-1.8 -1.4l2.3 -.1zM658.3 299.5l.8 2.2l2.3 .1l-1.8 1.4l.6 2.2l-1.9 -1.3l-1.9 1.3l.6 -2.2l-1.8 -1.4l2.3 -.1zM633.7 299.5l.8 2.2l2.3 .1l-1.8 1.4l.6 2.2l-1.9 -1.3l-1.9 1.3l.6 -2.2l-1.8 -1.4l2.3 -.1zM622.9 303.7l.8 2.2l2.3 .1l-1.8 1.4l.6 2.2l-1.9 -1.3l-1.9 1.3l.6 -2.2l-1.8 -1.4l2.3 -.1zM664 302.3l.8 2.2l2.3 .1l-1.8 1.4l.6 2.2l-1.9 -1.3l-1.9 1.3l.6 -2.2l-1.8 -1.4l2.3 -.1zM622.8 304.4l.8 2.2l2.3 .1l-1.8 1.4l.6 2.2l-1.9 -1.3l-1.9 1.3l.6 -2.2l-1.8 -1.4l2.3 -.1zM674.8 288.8l.8 2.2l2.3 .1l-1.8 1.4l.6 2.2l-1.9 -1.3l-1.9 1.3l.6 -2.2l-1.8 -1.4l2.3 -.1zM658 291l.8 2.2l2.3 .1l-1.8 1.4l.6 2.2l-1.9 -1.3l-1.9 1.3l.6 -2.2l-1.8 -1.4l2.3 -.1zM622.5 285.1l.8 2.2l2.3 .1l-1.8 1.4l.6 2.2l-1.9 -1.3l-1.9 1.3l.6 -2.2l-1.8 -1.4l2.3 -.1zM622.5 293.6l.8 2.2l2.3 .1l-1.8 1.4l.6 2.2l-1.9 -1.3l-1.9 1.3l.6 -2.2l-1.8 -1.4l2.3 -.1zM633.5 299.5l.8 2.2l2.3 .1l-1.8 1.4l.6 2.2l-1.9 -1.3l-1.9 1.3l.6 -2.2l-1.8 -1.4l2.3 -.1zM622.5 304.5l.8 2.2l2.3 .1l-1.8 1.4l.6 2.2l-1.9 -1.3l-1.9 1.3l.6 -2.2l-1.8 -1.4l2.3 -.1zM658.8 298.6l.8 2.2l2.3 .1l-1.8 1.4l.6 2.2l-1.9 -1.3l-1.9 1.3l.6 -2.2l-1.8 -1.4l2.3 -.1zM663.9 301.7l.8 2.2l2.3 .1l-1.8 1.4l.6 2.2l-1.9 -1.3l-1.9 1.3l.6 -2.2l-1.8 -1.4l2.3 -.1zM663.9 305.2l.8 2.2l2.3 .1l-1.8 1.4l.6 2.2l-1.9 -1.3l-1.9 1.3l.6 -2.2l-1.8 -1.4l2.3 -.1zM663.9 308.7l.8 2.2l2.3 .1l-1.8 1.4l.6 2.2l-1.9 -1.3l-1.9 1.3l.6 -2.2l-1.8 -1.4l2.3 -.1zM668.9 307.1l.8 2.2l2.3 .1l-1.8 1.4l.6 2.2l-1.9 -1.3l-1.9 1.3l.6 -2.2l-1.8 -1.4l2.3 -.1zM660.5 307.9l.8 2.2l2.3 .1l-1.8 1.4l.6 2.2l-1.9 -1.3l-1.9 1.3l.6 -2.2l-1.8 -1.4l2.3 -.1zM650.4 307.9l.8 2.2l2.3 .1l-1.8 1.4l.6 2.2l-1.9 -1.3l-1.9 1.3l.6 -2.2l-1.8 -1.4l2.3 -.1zM674 312.1l.8 2.2l2.3 .1l-1.8 1.4l.6 2.2l-1.9 -1.3l-1.9 1.3l.6 -2.2l-1.8 -1.4l2.3 -.1zM678.2 311.3l.8 2.2l2.3 .1l-1.8 1.4l.6 2.2l-1.9 -1.3l-1.9 1.3l.6 -2.2l-1.8 -1.4l2.3 -.1zM679 315.5l.8 2.2l2.3 .1l-1.8 1.4l.6 2.2l-1.9 -1.3l-1.9 1.3l.6 -2.2l-1.8 -1.4l2.3 -.1zM683.2 317.2l.8 2.2l2.3 .1l-1.8 1.4l.6 2.2l-1.9 -1.3l-1.9 1.3l.6 -2.2l-1.8 -1.4l2.3 -.1zM698.4 314.7l.8 2.2l2.3 .1l-1.8 1.4l.6 2.2l-1.9 -1.3l-1.9 1.3l.6 -2.2l-1.8 -1.4l2.3 -.1zM641.9 314.7l.8 2.2l2.3 .1l-1.8 1.4l.6 2.2l-1.9 -1.3l-1.9 1.3l.6 -2.2l-1.8 -1.4l2.3 -.1zM644.5 318l.8 2.2l2.3 .1l-1.8 1.4l.6 2.2l-1.9 -1.3l-1.9 1.3l.6 -2.2l-1.8 -1.4l2.3 -.1zM652 318.9l.8 2.2l2.3 .1l-1.8 1.4l.6 2.2l-1.9 -1.3l-1.9 1.3l.6 -2.2l-1.8 -1.4l2.3 -.1zM660.5 322.2l.8 2.2l2.3 .1l-1.8 1.4l.6 2.2l-1.9 -1.3l-1.9 1.3l.6 -2.2l-1.8 -1.4l2.3 -.1zM663.9 323.1l.8 2.2l2.3 .1l-1.8 1.4l.6 2.2l-1.9 -1.3l-1.9 1.3l.6 -2.2l-1.8 -1.4l2.3 -.1zM672.3 330.7l.8 2.2l2.3 .1l-1.8 1.4l.6 2.2l-1.9 -1.3l-1.9 1.3l.6 -2.2l-1.8 -1.4l2.3 -.1zM689.2 335.7l.8 2.2l2.3 .1l-1.8 1.4l.6 2.2l-1.9 -1.3l-1.9 1.3l.6 -2.2l-1.8 -1.4l2.3 -.1zM712.8 335.7l.8 2.2l2.3 .1l-1.8 1.4l.6 2.2l-1.9 -1.3l-1.9 1.3l.6 -2.2l-1.8 -1.4l2.3 -.1zM683.2 345.9l.8 2.2l2.3 .1l-1.8 1.4l.6 2.2l-1.9 -1.3l-1.9 1.3l.6 -2.2l-1.8 -1.4l2.3 -.1zM683.6 346.5l.8 2.2l2.3 .1l-1.8 1.4l.6 2.2l-1.9 -1.3l-1.9 1.3l.6 -2.2l-1.8 -1.4l2.3 -.1zM695 346.7l.8 2.2l2.3 .1l-1.8 1.4l.6 2.2l-1.9 -1.3l-1.9 1.3l.6 -2.2l-1.8 -1.4l2.3 -.1zM710.2 375.4l.8 2.2l2.3 .1l-1.8 1.4l.6 2.2l-1.9 -1.3l-1.9 1.3l.6 -2.2l-1.8 -1.4l2.3 -.1zM718.7 373.7l.8 2.2l2.3 .1l-1.8 1.4l.6 2.2l-1.9 -1.3l-1.9 1.3l.6 -2.2l-1.8 -1.4l2.3 -.1zM762.3 372.7l.8 2.2l2.3 .1l-1.8 1.4l.6 2.2l-1.9 -1.3l-1.9 1.3l.6 -2.2l-1.8 -1.4l2.3 -.1zM626 296.7l.8 2.2l2.3 .1l-1.8 1.4l.6 2.2l-1.9 -1.3l-1.9 1.3l.6 -2.2l-1.8 -1.4l2.3 -.1zM630 293.7l.8 2.2l2.3 .1l-1.8 1.4l.6 2.2l-1.9 -1.3l-1.9 1.3l.6 -2.2l-1.8 -1.4l2.3 -.1zM640 301.7l.8 2.2l2.3 .1l-1.8 1.4l.6 2.2l-1.9 -1.3l-1.9 1.3l.6 -2.2l-1.8 -1.4l2.3 -.1zM646 305.7l.8 2.2l2.3 .1l-1.8 1.4l.6 2.2l-1.9 -1.3l-1.9 1.3l.6 -2.2l-1.8 -1.4l2.3 -.1zM655 304.7l.8 2.2l2.3 .1l-1.8 1.4l.6 2.2l-1.9 -1.3l-1.9 1.3l.6 -2.2l-1.8 -1.4l2.3 -.1zM657 309.7l.8 2.2l2.3 .1l-1.8 1.4l.6 2.2l-1.9 -1.3l-1.9 1.3l.6 -2.2l-1.8 -1.4l2.3 -.1zM666 312.7l.8 2.2l2.3 .1l-1.8 1.4l.6 2.2l-1.9 -1.3l-1.9 1.3l.6 -2.2l-1.8 -1.4l2.3 -.1zM670 309.7l.8 2.2l2.3 .1l-1.8 1.4l.6 2.2l-1.9 -1.3l-1.9 1.3l.6 -2.2l-1.8 -1.4l2.3 -.1zM612 292.7l.8 2.2l2.3 .1l-1.8 1.4l.6 2.2l-1.9 -1.3l-1.9 1.3l.6 -2.2l-1.8 -1.4l2.3 -.1zM608 280.7l.8 2.2l2.3 .1l-1.8 1.4l.6 2.2l-1.9 -1.3l-1.9 1.3l.6 -2.2l-1.8 -1.4l2.3 -.1zM587.5 323.7l.8 2.2l2.3 .1l-1.8 1.4l.6 2.2l-1.9 -1.3l-1.9 1.3l.6 -2.2l-1.8 -1.4l2.3 -.1z" fill="#0f0"/>
<path d="M185.6 344l1.6 4.4l4.6 .2l-3.6 2.9l1.2 4.5l-3.9 -2.6l-3.9 2.6l1.2 -4.5l-3.6 -2.9l4.6 -.2z" fill="#0f0"/>
<circle cx="185.5" cy="381.3" r="4.7" fill="#f00"/><circle cx="199.6" cy="381.3" r="1.8" fill="#f00"/>
<path d="M185.6 406l6 10h-12z" fill="none" stroke="#00f" stroke-width="1.2"/>
<circle cx="199.6" cy="412.2" r="1.8" fill="#00f"/>
<path d="M114 641.7H829" stroke="#f00" stroke-width="1.1" stroke-opacity=".85"/>
<g fill="#f00"><circle cx="377.6" cy="646.5" r="6.8"/><circle cx="377.6" cy="653.2" r="6.8"/><circle cx="389.8" cy="621.2" r="6.8"/><circle cx="407.2" cy="627.1" r="6.8"/><circle cx="403" cy="632.2" r="6.8"/><circle cx="417.3" cy="644.3" r="6.8"/></g>
<path d="M252.6 641.8l5.4 9.4h-10.8zM284.2 637.6l5.4 9.4h-10.8zM295.7 636.7l5.4 9.4h-10.8zM306.3 641.3l5.4 9.4h-10.8zM305.4 647.3l5.4 9.4h-10.8zM312.5 684.8l5.4 9.4h-10.8zM326 650.3l5.4 9.4h-10.8zM329.4 645.3l5.4 9.4h-10.8zM332 647.7l5.4 9.4h-10.8zM338.7 643.5l5.4 9.4h-10.8zM341.2 644.3l5.4 9.4h-10.8zM344.6 633.3l5.4 9.4h-10.8zM350.5 629.2l5.4 9.4h-10.8zM353.8 625.8l5.4 9.4h-10.8zM357.2 627.5l5.4 9.4h-10.8zM361.4 620.7l5.4 9.4h-10.8zM368.2 624.9l5.4 9.4h-10.8zM372.4 618.2l5.4 9.4h-10.8zM379.1 626.6l5.4 9.4h-10.8zM381 624.9l5.4 9.4h-10.8zM385.2 630l5.4 9.4h-10.8zM388.6 635.1l5.4 9.4h-10.8zM392.8 630l5.4 9.4h-10.8zM396.2 620.7l5.4 9.4h-10.8zM399.6 624.9l5.4 9.4h-10.8zM403.8 625.8l5.4 9.4h-10.8zM407.2 625.8l5.4 9.4h-10.8zM410.5 624.1l5.4 9.4h-10.8zM419 629.2l5.4 9.4h-10.8zM422.3 630.8l5.4 9.4h-10.8zM424.9 628.3l5.4 9.4h-10.8zM428.2 626.6l5.4 9.4h-10.8zM432.5 630.8l5.4 9.4h-10.8zM435.8 621.6l5.4 9.4h-10.8zM440.9 623.3l5.4 9.4h-10.8zM444.3 627.5l5.4 9.4h-10.8zM449.3 621.6l5.4 9.4h-10.8zM452.7 618.2l5.4 9.4h-10.8zM454.4 615.7l5.4 9.4h-10.8zM456.9 620.7l5.4 9.4h-10.8zM462 626.6l5.4 9.4h-10.8zM464.5 625.8l5.4 9.4h-10.8zM467.9 621.6l5.4 9.4h-10.8zM472.9 619l5.4 9.4h-10.8zM477.2 619l5.4 9.4h-10.8zM481.4 616.5l5.4 9.4h-10.8zM483.1 618.2l5.4 9.4h-10.8zM485.6 621.6l5.4 9.4h-10.8zM490.7 619l5.4 9.4h-10.8zM494.9 620.7l5.4 9.4h-10.8zM499.1 619l5.4 9.4h-10.8zM503.3 614.8l5.4 9.4h-10.8zM506 615.1l5.4 9.4h-10.8zM508.6 619.3l5.4 9.4h-10.8zM511.9 615.9l5.4 9.4h-10.8zM515.3 615.9l5.4 9.4h-10.8zM518.7 617.6l5.4 9.4h-10.8zM525.4 615.1l5.4 9.4h-10.8zM530.5 600.7l5.4 9.4h-10.8zM531.3 604.9l5.4 9.4h-10.8zM542.3 609.2l5.4 9.4h-10.8zM543.1 611.7l5.4 9.4h-10.8zM544 595.7l5.4 9.4h-10.8zM547.3 598.2l5.4 9.4h-10.8zM549 599.9l5.4 9.4h-10.8zM555.8 593.1l5.4 9.4h-10.8zM557.5 590.6l5.4 9.4h-10.8zM559.2 592.3l5.4 9.4h-10.8zM562.5 590.6l5.4 9.4h-10.8zM620.7 630.2l5.4 9.4h-10.8zM622.4 628.5l5.4 9.4h-10.8zM629.1 647.9l5.4 9.4h-10.8zM619.9 632.1l5.4 9.4h-10.8zM632.9 642.5l5.4 9.4h-10.8zM632 645.9l5.4 9.4h-10.8zM631.2 649.3l5.4 9.4h-10.8zM635.4 647.6l5.4 9.4h-10.8zM641.3 644.2l5.4 9.4h-10.8zM649.8 658.5l5.4 9.4h-10.8zM648.9 662.8l5.4 9.4h-10.8zM652.3 665.3l5.4 9.4h-10.8zM659 673.7l5.4 9.4h-10.8zM664.9 673.7l5.4 9.4h-10.8zM664.9 671.2l5.4 9.4h-10.8zM665.8 664.5l5.4 9.4h-10.8zM702.9 654.3l5.4 9.4h-10.8zM701.2 662.8l5.4 9.4h-10.8zM713 667.8l5.4 9.4h-10.8zM704.2 679.3l5.4 9.4h-10.8zM414 627.3l5.4 9.4h-10.8zM416 631.3l5.4 9.4h-10.8zM437 627.3l5.4 9.4h-10.8zM446 625.3l5.4 9.4h-10.8zM459 623.3l5.4 9.4h-10.8zM470 624.3l5.4 9.4h-10.8zM475 622.3l5.4 9.4h-10.8zM488 617.3l5.4 9.4h-10.8zM497 617.3l5.4 9.4h-10.8zM521 616.3l5.4 9.4h-10.8zM527 609.3l5.4 9.4h-10.8zM535 605.3l5.4 9.4h-10.8zM539 607.3l5.4 9.4h-10.8zM552 595.3l5.4 9.4h-10.8zM395 627.3l5.4 9.4h-10.8zM401 629.3l5.4 9.4h-10.8zM405 628.3l5.4 9.4h-10.8zM384 626.2l5.4 9.4h-10.8zM387.3 627.4l5.4 9.4h-10.8zM392.3 625.9l5.4 9.4h-10.8zM395.5 622.7l5.4 9.4h-10.8zM400.3 624.8l5.4 9.4h-10.8zM404.5 626.1l5.4 9.4h-10.8zM407.9 629.2l5.4 9.4h-10.8zM411.4 626.6l5.4 9.4h-10.8zM414.7 625.8l5.4 9.4h-10.8zM418.6 629.6l5.4 9.4h-10.8zM422.1 630.1l5.4 9.4h-10.8zM426.2 632l5.4 9.4h-10.8zM431.7 627.2l5.4 9.4h-10.8zM435.4 623.6l5.4 9.4h-10.8zM440 622.5l5.4 9.4h-10.8zM443.7 622.8l5.4 9.4h-10.8zM447.5 623.2l5.4 9.4h-10.8zM451.1 621.7l5.4 9.4h-10.8zM456 620.4l5.4 9.4h-10.8zM459.2 624.4l5.4 9.4h-10.8zM462.3 619.9l5.4 9.4h-10.8zM467 623l5.4 9.4h-10.8zM470.2 624.4l5.4 9.4h-10.8zM476 620.8l5.4 9.4h-10.8zM479.3 619.3l5.4 9.4h-10.8zM483.1 620l5.4 9.4h-10.8zM485.9 619l5.4 9.4h-10.8zM489.7 615.9l5.4 9.4h-10.8zM492.7 620.9l5.4 9.4h-10.8zM496.3 619.7l5.4 9.4h-10.8zM499.8 617.3l5.4 9.4h-10.8zM502.3 616.2l5.4 9.4h-10.8zM505.8 620.2l5.4 9.4h-10.8zM508.7 617l5.4 9.4h-10.8zM512.5 616.8l5.4 9.4h-10.8zM515.6 616.4l5.4 9.4h-10.8zM519.1 617.2l5.4 9.4h-10.8zM521.8 616.9l5.4 9.4h-10.8zM524.7 613.3l5.4 9.4h-10.8z" fill="none" stroke="#00f" stroke-width="1.3"/>
<path d="M313.4 641.2l1.1 3l3.2 .1l-2.5 2l.8 3.1l-2.6 -1.8l-2.6 1.8l.8 -3.1l-2.5 -2l3.2 -.1zM313.4 643.7l1.1 3l3.2 .1l-2.5 2l.8 3.1l-2.6 -1.8l-2.6 1.8l.8 -3.1l-2.5 -2l3.2 -.1zM311.7 650.4l1.1 3l3.2 .1l-2.5 2l.8 3.1l-2.6 -1.8l-2.6 1.8l.8 -3.1l-2.5 -2l3.2 -.1zM332.8 664.8l1.1 3l3.2 .1l-2.5 2l.8 3.1l-2.6 -1.8l-2.6 1.8l.8 -3.1l-2.5 -2l3.2 -.1zM332.8 668.1l1.1 3l3.2 .1l-2.5 2l.8 3.1l-2.6 -1.8l-2.6 1.8l.8 -3.1l-2.5 -2l3.2 -.1zM331.9 686.7l1.1 3l3.2 .1l-2.5 2l.8 3.1l-2.6 -1.8l-2.6 1.8l.8 -3.1l-2.5 -2l3.2 -.1zM331.9 689.2l1.1 3l3.2 .1l-2.5 2l.8 3.1l-2.6 -1.8l-2.6 1.8l.8 -3.1l-2.5 -2l3.2 -.1zM331.6 691.8l1.1 3l3.2 .1l-2.5 2l.8 3.1l-2.6 -1.8l-2.6 1.8l.8 -3.1l-2.5 -2l3.2 -.1zM345.4 665.6l1.1 3l3.2 .1l-2.5 2l.8 3.1l-2.6 -1.8l-2.6 1.8l.8 -3.1l-2.5 -2l3.2 -.1zM345.4 669l1.1 3l3.2 .1l-2.5 2l.8 3.1l-2.6 -1.8l-2.6 1.8l.8 -3.1l-2.5 -2l3.2 -.1zM341.2 676.6l1.1 3l3.2 .1l-2.5 2l.8 3.1l-2.6 -1.8l-2.6 1.8l.8 -3.1l-2.5 -2l3.2 -.1zM345.4 677.4l1.1 3l3.2 .1l-2.5 2l.8 3.1l-2.6 -1.8l-2.6 1.8l.8 -3.1l-2.5 -2l3.2 -.1zM344.6 680.8l1.1 3l3.2 .1l-2.5 2l.8 3.1l-2.6 -1.8l-2.6 1.8l.8 -3.1l-2.5 -2l3.2 -.1zM357.2 660.6l1.1 3l3.2 .1l-2.5 2l.8 3.1l-2.6 -1.8l-2.6 1.8l.8 -3.1l-2.5 -2l3.2 -.1zM355.5 669l1.1 3l3.2 .1l-2.5 2l.8 3.1l-2.6 -1.8l-2.6 1.8l.8 -3.1l-2.5 -2l3.2 -.1zM367.3 623.5l1.1 3l3.2 .1l-2.5 2l.8 3.1l-2.6 -1.8l-2.6 1.8l.8 -3.1l-2.5 -2l3.2 -.1zM368.2 626l1.1 3l3.2 .1l-2.5 2l.8 3.1l-2.6 -1.8l-2.6 1.8l.8 -3.1l-2.5 -2l3.2 -.1zM368.2 632.7l1.1 3l3.2 .1l-2.5 2l.8 3.1l-2.6 -1.8l-2.6 1.8l.8 -3.1l-2.5 -2l3.2 -.1zM374.1 669l1.1 3l3.2 .1l-2.5 2l.8 3.1l-2.6 -1.8l-2.6 1.8l.8 -3.1l-2.5 -2l3.2 -.1zM378.3 668.1l1.1 3l3.2 .1l-2.5 2l.8 3.1l-2.6 -1.8l-2.6 1.8l.8 -3.1l-2.5 -2l3.2 -.1zM377.5 679.9l1.1 3l3.2 .1l-2.5 2l.8 3.1l-2.6 -1.8l-2.6 1.8l.8 -3.1l-2.5 -2l3.2 -.1zM377.5 683.3l1.1 3l3.2 .1l-2.5 2l.8 3.1l-2.6 -1.8l-2.6 1.8l.8 -3.1l-2.5 -2l3.2 -.1zM377.5 686.7l1.1 3l3.2 .1l-2.5 2l.8 3.1l-2.6 -1.8l-2.6 1.8l.8 -3.1l-2.5 -2l3.2 -.1zM376.6 696l1.1 3l3.2 .1l-2.5 2l.8 3.1l-2.6 -1.8l-2.6 1.8l.8 -3.1l-2.5 -2l3.2 -.1zM368.4 624.3l1.1 3l3.2 .1l-2.5 2l.8 3.1l-2.6 -1.8l-2.6 1.8l.8 -3.1l-2.5 -2l3.2 -.1zM368.4 632.7l1.1 3l3.2 .1l-2.5 2l.8 3.1l-2.6 -1.8l-2.6 1.8l.8 -3.1l-2.5 -2l3.2 -.1zM414.8 620.9l1.1 3l3.2 .1l-2.5 2l.8 3.1l-2.6 -1.8l-2.6 1.8l.8 -3.1l-2.5 -2l3.2 -.1zM413.5 618.5l1.1 3l3.2 .1l-2.5 2l.8 3.1l-2.6 -1.8l-2.6 1.8l.8 -3.1l-2.5 -2l3.2 -.1zM416 622.5l1.1 3l3.2 .1l-2.5 2l.8 3.1l-2.6 -1.8l-2.6 1.8l.8 -3.1l-2.5 -2l3.2 -.1zM472.1 609.1l1.1 3l3.2 .1l-2.5 2l.8 3.1l-2.6 -1.8l-2.6 1.8l.8 -3.1l-2.5 -2l3.2 -.1zM472.1 611.6l1.1 3l3.2 .1l-2.5 2l.8 3.1l-2.6 -1.8l-2.6 1.8l.8 -3.1l-2.5 -2l3.2 -.1zM469.6 629.4l1.1 3l3.2 .1l-2.5 2l.8 3.1l-2.6 -1.8l-2.6 1.8l.8 -3.1l-2.5 -2l3.2 -.1zM498.2 617.5l1.1 3l3.2 .1l-2.5 2l.8 3.1l-2.6 -1.8l-2.6 1.8l.8 -3.1l-2.5 -2l3.2 -.1zM493.2 626l1.1 3l3.2 .1l-2.5 2l.8 3.1l-2.6 -1.8l-2.6 1.8l.8 -3.1l-2.5 -2l3.2 -.1zM499.9 626l1.1 3l3.2 .1l-2.5 2l.8 3.1l-2.6 -1.8l-2.6 1.8l.8 -3.1l-2.5 -2l3.2 -.1zM489.8 631l1.1 3l3.2 .1l-2.5 2l.8 3.1l-2.6 -1.8l-2.6 1.8l.8 -3.1l-2.5 -2l3.2 -.1zM481.4 634.4l1.1 3l3.2 .1l-2.5 2l.8 3.1l-2.6 -1.8l-2.6 1.8l.8 -3.1l-2.5 -2l3.2 -.1zM486.4 636.1l1.1 3l3.2 .1l-2.5 2l.8 3.1l-2.6 -1.8l-2.6 1.8l.8 -3.1l-2.5 -2l3.2 -.1zM499.9 637.8l1.1 3l3.2 .1l-2.5 2l.8 3.1l-2.6 -1.8l-2.6 1.8l.8 -3.1l-2.5 -2l3.2 -.1zM489.8 643.7l1.1 3l3.2 .1l-2.5 2l.8 3.1l-2.6 -1.8l-2.6 1.8l.8 -3.1l-2.5 -2l3.2 -.1zM482.2 647.1l1.1 3l3.2 .1l-2.5 2l.8 3.1l-2.6 -1.8l-2.6 1.8l.8 -3.1l-2.5 -2l3.2 -.1zM489.8 647.9l1.1 3l3.2 .1l-2.5 2l.8 3.1l-2.6 -1.8l-2.6 1.8l.8 -3.1l-2.5 -2l3.2 -.1zM469.6 646.2l1.1 3l3.2 .1l-2.5 2l.8 3.1l-2.6 -1.8l-2.6 1.8l.8 -3.1l-2.5 -2l3.2 -.1zM472.9 650.4l1.1 3l3.2 .1l-2.5 2l.8 3.1l-2.6 -1.8l-2.6 1.8l.8 -3.1l-2.5 -2l3.2 -.1zM429.1 646.2l1.1 3l3.2 .1l-2.5 2l.8 3.1l-2.6 -1.8l-2.6 1.8l.8 -3.1l-2.5 -2l3.2 -.1zM430 649.5l1.1 3l3.2 .1l-2.5 2l.8 3.1l-2.6 -1.8l-2.6 1.8l.8 -3.1l-2.5 -2l3.2 -.1zM422.3 653l1.1 3l3.2 .1l-2.5 2l.8 3.1l-2.6 -1.8l-2.6 1.8l.8 -3.1l-2.5 -2l3.2 -.1zM424.9 656.3l1.1 3l3.2 .1l-2.5 2l.8 3.1l-2.6 -1.8l-2.6 1.8l.8 -3.1l-2.5 -2l3.2 -.1zM431.6 658l1.1 3l3.2 .1l-2.5 2l.8 3.1l-2.6 -1.8l-2.6 1.8l.8 -3.1l-2.5 -2l3.2 -.1zM419.8 663.9l1.1 3l3.2 .1l-2.5 2l.8 3.1l-2.6 -1.8l-2.6 1.8l.8 -3.1l-2.5 -2l3.2 -.1zM425.7 669.8l1.1 3l3.2 .1l-2.5 2l.8 3.1l-2.6 -1.8l-2.6 1.8l.8 -3.1l-2.5 -2l3.2 -.1zM424.9 672.4l1.1 3l3.2 .1l-2.5 2l.8 3.1l-2.6 -1.8l-2.6 1.8l.8 -3.1l-2.5 -2l3.2 -.1zM451.9 659.4l1.1 3l3.2 .1l-2.5 2l.8 3.1l-2.6 -1.8l-2.6 1.8l.8 -3.1l-2.5 -2l3.2 -.1zM459.5 666.5l1.1 3l3.2 .1l-2.5 2l.8 3.1l-2.6 -1.8l-2.6 1.8l.8 -3.1l-2.5 -2l3.2 -.1zM459.5 669.8l1.1 3l3.2 .1l-2.5 2l.8 3.1l-2.6 -1.8l-2.6 1.8l.8 -3.1l-2.5 -2l3.2 -.1zM459.5 672.4l1.1 3l3.2 .1l-2.5 2l.8 3.1l-2.6 -1.8l-2.6 1.8l.8 -3.1l-2.5 -2l3.2 -.1zM472.1 683.3l1.1 3l3.2 .1l-2.5 2l.8 3.1l-2.6 -1.8l-2.6 1.8l.8 -3.1l-2.5 -2l3.2 -.1zM472.1 689.2l1.1 3l3.2 .1l-2.5 2l.8 3.1l-2.6 -1.8l-2.6 1.8l.8 -3.1l-2.5 -2l3.2 -.1zM394.5 652.1l1.1 3l3.2 .1l-2.5 2l.8 3.1l-2.6 -1.8l-2.6 1.8l.8 -3.1l-2.5 -2l3.2 -.1zM401.3 659.7l1.1 3l3.2 .1l-2.5 2l.8 3.1l-2.6 -1.8l-2.6 1.8l.8 -3.1l-2.5 -2l3.2 -.1zM405.5 658.9l1.1 3l3.2 .1l-2.5 2l.8 3.1l-2.6 -1.8l-2.6 1.8l.8 -3.1l-2.5 -2l3.2 -.1zM408.9 661.4l1.1 3l3.2 .1l-2.5 2l.8 3.1l-2.6 -1.8l-2.6 1.8l.8 -3.1l-2.5 -2l3.2 -.1zM408.9 669l1.1 3l3.2 .1l-2.5 2l.8 3.1l-2.6 -1.8l-2.6 1.8l.8 -3.1l-2.5 -2l3.2 -.1zM400.4 670.7l1.1 3l3.2 .1l-2.5 2l.8 3.1l-2.6 -1.8l-2.6 1.8l.8 -3.1l-2.5 -2l3.2 -.1zM392.8 668.1l1.1 3l3.2 .1l-2.5 2l.8 3.1l-2.6 -1.8l-2.6 1.8l.8 -3.1l-2.5 -2l3.2 -.1zM382.7 661.4l1.1 3l3.2 .1l-2.5 2l.8 3.1l-2.6 -1.8l-2.6 1.8l.8 -3.1l-2.5 -2l3.2 -.1zM384.4 665.6l1.1 3l3.2 .1l-2.5 2l.8 3.1l-2.6 -1.8l-2.6 1.8l.8 -3.1l-2.5 -2l3.2 -.1zM373.4 669l1.1 3l3.2 .1l-2.5 2l.8 3.1l-2.6 -1.8l-2.6 1.8l.8 -3.1l-2.5 -2l3.2 -.1zM379.3 668.1l1.1 3l3.2 .1l-2.5 2l.8 3.1l-2.6 -1.8l-2.6 1.8l.8 -3.1l-2.5 -2l3.2 -.1zM386.1 672.4l1.1 3l3.2 .1l-2.5 2l.8 3.1l-2.6 -1.8l-2.6 1.8l.8 -3.1l-2.5 -2l3.2 -.1zM386.1 674.9l1.1 3l3.2 .1l-2.5 2l.8 3.1l-2.6 -1.8l-2.6 1.8l.8 -3.1l-2.5 -2l3.2 -.1zM378.5 679.1l1.1 3l3.2 .1l-2.5 2l.8 3.1l-2.6 -1.8l-2.6 1.8l.8 -3.1l-2.5 -2l3.2 -.1zM377.6 682.5l1.1 3l3.2 .1l-2.5 2l.8 3.1l-2.6 -1.8l-2.6 1.8l.8 -3.1l-2.5 -2l3.2 -.1zM377.6 685.9l1.1 3l3.2 .1l-2.5 2l.8 3.1l-2.6 -1.8l-2.6 1.8l.8 -3.1l-2.5 -2l3.2 -.1zM376.8 688.4l1.1 3l3.2 .1l-2.5 2l.8 3.1l-2.6 -1.8l-2.6 1.8l.8 -3.1l-2.5 -2l3.2 -.1zM376.5 696l1.1 3l3.2 .1l-2.5 2l.8 3.1l-2.6 -1.8l-2.6 1.8l.8 -3.1l-2.5 -2l3.2 -.1zM560 601.8l1.1 3l3.2 .1l-2.5 2l.8 3.1l-2.6 -1.8l-2.6 1.8l.8 -3.1l-2.5 -2l3.2 -.1zM554.9 607.7l1.1 3l3.2 .1l-2.5 2l.8 3.1l-2.6 -1.8l-2.6 1.8l.8 -3.1l-2.5 -2l3.2 -.1zM560.8 611l1.1 3l3.2 .1l-2.5 2l.8 3.1l-2.6 -1.8l-2.6 1.8l.8 -3.1l-2.5 -2l3.2 -.1zM562.2 619.1l1.1 3l3.2 .1l-2.5 2l.8 3.1l-2.6 -1.8l-2.6 1.8l.8 -3.1l-2.5 -2l3.2 -.1zM576 614.4l1.1 3l3.2 .1l-2.5 2l.8 3.1l-2.6 -1.8l-2.6 1.8l.8 -3.1l-2.5 -2l3.2 -.1zM587.8 615.3l1.1 3l3.2 .1l-2.5 2l.8 3.1l-2.6 -1.8l-2.6 1.8l.8 -3.1l-2.5 -2l3.2 -.1zM538.1 625.4l1.1 3l3.2 .1l-2.5 2l.8 3.1l-2.6 -1.8l-2.6 1.8l.8 -3.1l-2.5 -2l3.2 -.1zM543.1 622.8l1.1 3l3.2 .1l-2.5 2l.8 3.1l-2.6 -1.8l-2.6 1.8l.8 -3.1l-2.5 -2l3.2 -.1zM547.3 626.2l1.1 3l3.2 .1l-2.5 2l.8 3.1l-2.6 -1.8l-2.6 1.8l.8 -3.1l-2.5 -2l3.2 -.1zM538.9 630.4l1.1 3l3.2 .1l-2.5 2l.8 3.1l-2.6 -1.8l-2.6 1.8l.8 -3.1l-2.5 -2l3.2 -.1zM525.4 611.9l1.1 3l3.2 .1l-2.5 2l.8 3.1l-2.6 -1.8l-2.6 1.8l.8 -3.1l-2.5 -2l3.2 -.1zM534.7 611.9l1.1 3l3.2 .1l-2.5 2l.8 3.1l-2.6 -1.8l-2.6 1.8l.8 -3.1l-2.5 -2l3.2 -.1zM524.6 617.8l1.1 3l3.2 .1l-2.5 2l.8 3.1l-2.6 -1.8l-2.6 1.8l.8 -3.1l-2.5 -2l3.2 -.1zM517.8 620.3l1.1 3l3.2 .1l-2.5 2l.8 3.1l-2.6 -1.8l-2.6 1.8l.8 -3.1l-2.5 -2l3.2 -.1zM522.9 621.2l1.1 3l3.2 .1l-2.5 2l.8 3.1l-2.6 -1.8l-2.6 1.8l.8 -3.1l-2.5 -2l3.2 -.1zM500.1 638l1.1 3l3.2 .1l-2.5 2l.8 3.1l-2.6 -1.8l-2.6 1.8l.8 -3.1l-2.5 -2l3.2 -.1zM490.8 644.8l1.1 3l3.2 .1l-2.5 2l.8 3.1l-2.6 -1.8l-2.6 1.8l.8 -3.1l-2.5 -2l3.2 -.1zM506.9 632.1l1.1 3l3.2 .1l-2.5 2l.8 3.1l-2.6 -1.8l-2.6 1.8l.8 -3.1l-2.5 -2l3.2 -.1zM427 650.5l1.1 3l3.2 .1l-2.5 2l.8 3.1l-2.6 -1.8l-2.6 1.8l.8 -3.1l-2.5 -2l3.2 -.1zM433 647.5l1.1 3l3.2 .1l-2.5 2l.8 3.1l-2.6 -1.8l-2.6 1.8l.8 -3.1l-2.5 -2l3.2 -.1zM428 658.5l1.1 3l3.2 .1l-2.5 2l.8 3.1l-2.6 -1.8l-2.6 1.8l.8 -3.1l-2.5 -2l3.2 -.1zM447.2 646l1.1 3l3.2 .1l-2.5 2l.8 3.1l-2.6 -1.8l-2.6 1.8l.8 -3.1l-2.5 -2l3.2 -.1zM452.8 642.1l1.1 3l3.2 .1l-2.5 2l.8 3.1l-2.6 -1.8l-2.6 1.8l.8 -3.1l-2.5 -2l3.2 -.1zM436.7 643.8l1.1 3l3.2 .1l-2.5 2l.8 3.1l-2.6 -1.8l-2.6 1.8l.8 -3.1l-2.5 -2l3.2 -.1zM453.8 641l1.1 3l3.2 .1l-2.5 2l.8 3.1l-2.6 -1.8l-2.6 1.8l.8 -3.1l-2.5 -2l3.2 -.1zM438.7 640.8l1.1 3l3.2 .1l-2.5 2l.8 3.1l-2.6 -1.8l-2.6 1.8l.8 -3.1l-2.5 -2l3.2 -.1zM453.2 641.5l1.1 3l3.2 .1l-2.5 2l.8 3.1l-2.6 -1.8l-2.6 1.8l.8 -3.1l-2.5 -2l3.2 -.1zM448.4 642.7l1.1 3l3.2 .1l-2.5 2l.8 3.1l-2.6 -1.8l-2.6 1.8l.8 -3.1l-2.5 -2l3.2 -.1zM442.9 642.9l1.1 3l3.2 .1l-2.5 2l.8 3.1l-2.6 -1.8l-2.6 1.8l.8 -3.1l-2.5 -2l3.2 -.1zM454.2 641.2l1.1 3l3.2 .1l-2.5 2l.8 3.1l-2.6 -1.8l-2.6 1.8l.8 -3.1l-2.5 -2l3.2 -.1zM448.1 641.6l1.1 3l3.2 .1l-2.5 2l.8 3.1l-2.6 -1.8l-2.6 1.8l.8 -3.1l-2.5 -2l3.2 -.1zM448.9 639.9l1.1 3l3.2 .1l-2.5 2l.8 3.1l-2.6 -1.8l-2.6 1.8l.8 -3.1l-2.5 -2l3.2 -.1zM449.8 644.2l1.1 3l3.2 .1l-2.5 2l.8 3.1l-2.6 -1.8l-2.6 1.8l.8 -3.1l-2.5 -2l3.2 -.1zM442.2 641.6l1.1 3l3.2 .1l-2.5 2l.8 3.1l-2.6 -1.8l-2.6 1.8l.8 -3.1l-2.5 -2l3.2 -.1zM453.2 642.8l1.1 3l3.2 .1l-2.5 2l.8 3.1l-2.6 -1.8l-2.6 1.8l.8 -3.1l-2.5 -2l3.2 -.1zM451 640.8l1.1 3l3.2 .1l-2.5 2l.8 3.1l-2.6 -1.8l-2.6 1.8l.8 -3.1l-2.5 -2l3.2 -.1zM445.7 643.4l1.1 3l3.2 .1l-2.5 2l.8 3.1l-2.6 -1.8l-2.6 1.8l.8 -3.1l-2.5 -2l3.2 -.1zM445.5 643.5l1.1 3l3.2 .1l-2.5 2l.8 3.1l-2.6 -1.8l-2.6 1.8l.8 -3.1l-2.5 -2l3.2 -.1zM449.3 644.3l1.1 3l3.2 .1l-2.5 2l.8 3.1l-2.6 -1.8l-2.6 1.8l.8 -3.1l-2.5 -2l3.2 -.1zM454.4 636.7l1.1 3l3.2 .1l-2.5 2l.8 3.1l-2.6 -1.8l-2.6 1.8l.8 -3.1l-2.5 -2l3.2 -.1zM452.1 640.4l1.1 3l3.2 .1l-2.5 2l.8 3.1l-2.6 -1.8l-2.6 1.8l.8 -3.1l-2.5 -2l3.2 -.1zM455 641.8l1.1 3l3.2 .1l-2.5 2l.8 3.1l-2.6 -1.8l-2.6 1.8l.8 -3.1l-2.5 -2l3.2 -.1zM442.1 642.4l1.1 3l3.2 .1l-2.5 2l.8 3.1l-2.6 -1.8l-2.6 1.8l.8 -3.1l-2.5 -2l3.2 -.1zM454.6 640.6l1.1 3l3.2 .1l-2.5 2l.8 3.1l-2.6 -1.8l-2.6 1.8l.8 -3.1l-2.5 -2l3.2 -.1zM440.7 642.3l1.1 3l3.2 .1l-2.5 2l.8 3.1l-2.6 -1.8l-2.6 1.8l.8 -3.1l-2.5 -2l3.2 -.1zM439.1 641l1.1 3l3.2 .1l-2.5 2l.8 3.1l-2.6 -1.8l-2.6 1.8l.8 -3.1l-2.5 -2l3.2 -.1zM440.5 639.4l1.1 3l3.2 .1l-2.5 2l.8 3.1l-2.6 -1.8l-2.6 1.8l.8 -3.1l-2.5 -2l3.2 -.1zM446.3 639.4l1.1 3l3.2 .1l-2.5 2l.8 3.1l-2.6 -1.8l-2.6 1.8l.8 -3.1l-2.5 -2l3.2 -.1zM448.7 641.7l1.1 3l3.2 .1l-2.5 2l.8 3.1l-2.6 -1.8l-2.6 1.8l.8 -3.1l-2.5 -2l3.2 -.1zM436.4 642.5l1.1 3l3.2 .1l-2.5 2l.8 3.1l-2.6 -1.8l-2.6 1.8l.8 -3.1l-2.5 -2l3.2 -.1zM450.7 639.5l1.1 3l3.2 .1l-2.5 2l.8 3.1l-2.6 -1.8l-2.6 1.8l.8 -3.1l-2.5 -2l3.2 -.1zM444.8 640.2l1.1 3l3.2 .1l-2.5 2l.8 3.1l-2.6 -1.8l-2.6 1.8l.8 -3.1l-2.5 -2l3.2 -.1zM448.3 644.3l1.1 3l3.2 .1l-2.5 2l.8 3.1l-2.6 -1.8l-2.6 1.8l.8 -3.1l-2.5 -2l3.2 -.1zM452.8 642.2l1.1 3l3.2 .1l-2.5 2l.8 3.1l-2.6 -1.8l-2.6 1.8l.8 -3.1l-2.5 -2l3.2 -.1zM436.6 644.5l1.1 3l3.2 .1l-2.5 2l.8 3.1l-2.6 -1.8l-2.6 1.8l.8 -3.1l-2.5 -2l3.2 -.1zM456.3 647.1l1.1 3l3.2 .1l-2.5 2l.8 3.1l-2.6 -1.8l-2.6 1.8l.8 -3.1l-2.5 -2l3.2 -.1zM466.7 651.2l1.1 3l3.2 .1l-2.5 2l.8 3.1l-2.6 -1.8l-2.6 1.8l.8 -3.1l-2.5 -2l3.2 -.1zM457.9 645.5l1.1 3l3.2 .1l-2.5 2l.8 3.1l-2.6 -1.8l-2.6 1.8l.8 -3.1l-2.5 -2l3.2 -.1zM460.8 647.3l1.1 3l3.2 .1l-2.5 2l.8 3.1l-2.6 -1.8l-2.6 1.8l.8 -3.1l-2.5 -2l3.2 -.1zM457.2 647.9l1.1 3l3.2 .1l-2.5 2l.8 3.1l-2.6 -1.8l-2.6 1.8l.8 -3.1l-2.5 -2l3.2 -.1zM463.6 649.1l1.1 3l3.2 .1l-2.5 2l.8 3.1l-2.6 -1.8l-2.6 1.8l.8 -3.1l-2.5 -2l3.2 -.1zM460.5 646.3l1.1 3l3.2 .1l-2.5 2l.8 3.1l-2.6 -1.8l-2.6 1.8l.8 -3.1l-2.5 -2l3.2 -.1zM466.6 653l1.1 3l3.2 .1l-2.5 2l.8 3.1l-2.6 -1.8l-2.6 1.8l.8 -3.1l-2.5 -2l3.2 -.1zM458.7 645.5l1.1 3l3.2 .1l-2.5 2l.8 3.1l-2.6 -1.8l-2.6 1.8l.8 -3.1l-2.5 -2l3.2 -.1zM461.3 650.6l1.1 3l3.2 .1l-2.5 2l.8 3.1l-2.6 -1.8l-2.6 1.8l.8 -3.1l-2.5 -2l3.2 -.1zM456.6 649.4l1.1 3l3.2 .1l-2.5 2l.8 3.1l-2.6 -1.8l-2.6 1.8l.8 -3.1l-2.5 -2l3.2 -.1zM458.3 646.2l1.1 3l3.2 .1l-2.5 2l.8 3.1l-2.6 -1.8l-2.6 1.8l.8 -3.1l-2.5 -2l3.2 -.1zM459.7 652.7l1.1 3l3.2 .1l-2.5 2l.8 3.1l-2.6 -1.8l-2.6 1.8l.8 -3.1l-2.5 -2l3.2 -.1zM457.6 642.9l1.1 3l3.2 .1l-2.5 2l.8 3.1l-2.6 -1.8l-2.6 1.8l.8 -3.1l-2.5 -2l3.2 -.1zM459 650.6l1.1 3l3.2 .1l-2.5 2l.8 3.1l-2.6 -1.8l-2.6 1.8l.8 -3.1l-2.5 -2l3.2 -.1zM466.3 648.9l1.1 3l3.2 .1l-2.5 2l.8 3.1l-2.6 -1.8l-2.6 1.8l.8 -3.1l-2.5 -2l3.2 -.1zM460.2 646.6l1.1 3l3.2 .1l-2.5 2l.8 3.1l-2.6 -1.8l-2.6 1.8l.8 -3.1l-2.5 -2l3.2 -.1zM460.3 649.3l1.1 3l3.2 .1l-2.5 2l.8 3.1l-2.6 -1.8l-2.6 1.8l.8 -3.1l-2.5 -2l3.2 -.1zM455.9 644.2l1.1 3l3.2 .1l-2.5 2l.8 3.1l-2.6 -1.8l-2.6 1.8l.8 -3.1l-2.5 -2l3.2 -.1zM466.9 646.1l1.1 3l3.2 .1l-2.5 2l.8 3.1l-2.6 -1.8l-2.6 1.8l.8 -3.1l-2.5 -2l3.2 -.1zM454.8 648.4l1.1 3l3.2 .1l-2.5 2l.8 3.1l-2.6 -1.8l-2.6 1.8l.8 -3.1l-2.5 -2l3.2 -.1zM463.8 641.9l1.1 3l3.2 .1l-2.5 2l.8 3.1l-2.6 -1.8l-2.6 1.8l.8 -3.1l-2.5 -2l3.2 -.1zM462.9 651.4l1.1 3l3.2 .1l-2.5 2l.8 3.1l-2.6 -1.8l-2.6 1.8l.8 -3.1l-2.5 -2l3.2 -.1zM467 645.4l1.1 3l3.2 .1l-2.5 2l.8 3.1l-2.6 -1.8l-2.6 1.8l.8 -3.1l-2.5 -2l3.2 -.1zM456.1 647.7l1.1 3l3.2 .1l-2.5 2l.8 3.1l-2.6 -1.8l-2.6 1.8l.8 -3.1l-2.5 -2l3.2 -.1zM457.8 651l1.1 3l3.2 .1l-2.5 2l.8 3.1l-2.6 -1.8l-2.6 1.8l.8 -3.1l-2.5 -2l3.2 -.1zM490.5 629.5l1.1 3l3.2 .1l-2.5 2l.8 3.1l-2.6 -1.8l-2.6 1.8l.8 -3.1l-2.5 -2l3.2 -.1zM503.8 619.2l1.1 3l3.2 .1l-2.5 2l.8 3.1l-2.6 -1.8l-2.6 1.8l.8 -3.1l-2.5 -2l3.2 -.1zM503 626.7l1.1 3l3.2 .1l-2.5 2l.8 3.1l-2.6 -1.8l-2.6 1.8l.8 -3.1l-2.5 -2l3.2 -.1zM489.4 632.2l1.1 3l3.2 .1l-2.5 2l.8 3.1l-2.6 -1.8l-2.6 1.8l.8 -3.1l-2.5 -2l3.2 -.1zM505.6 624.6l1.1 3l3.2 .1l-2.5 2l.8 3.1l-2.6 -1.8l-2.6 1.8l.8 -3.1l-2.5 -2l3.2 -.1zM492.7 629.8l1.1 3l3.2 .1l-2.5 2l.8 3.1l-2.6 -1.8l-2.6 1.8l.8 -3.1l-2.5 -2l3.2 -.1zM496.2 624l1.1 3l3.2 .1l-2.5 2l.8 3.1l-2.6 -1.8l-2.6 1.8l.8 -3.1l-2.5 -2l3.2 -.1zM500.2 622.2l1.1 3l3.2 .1l-2.5 2l.8 3.1l-2.6 -1.8l-2.6 1.8l.8 -3.1l-2.5 -2l3.2 -.1zM501.8 618.1l1.1 3l3.2 .1l-2.5 2l.8 3.1l-2.6 -1.8l-2.6 1.8l.8 -3.1l-2.5 -2l3.2 -.1zM519.7 617.5l1.1 3l3.2 .1l-2.5 2l.8 3.1l-2.6 -1.8l-2.6 1.8l.8 -3.1l-2.5 -2l3.2 -.1zM510.2 619.6l1.1 3l3.2 .1l-2.5 2l.8 3.1l-2.6 -1.8l-2.6 1.8l.8 -3.1l-2.5 -2l3.2 -.1zM512.8 617.9l1.1 3l3.2 .1l-2.5 2l.8 3.1l-2.6 -1.8l-2.6 1.8l.8 -3.1l-2.5 -2l3.2 -.1z" fill="#0f0"/>
<path d="M114 875.6H829" stroke="#f00" stroke-width="1.1" stroke-opacity=".85"/>
<g fill="#f00"><circle cx="377.6" cy="909.7" r="6.8"/><circle cx="392" cy="867.9" r="6.8"/><circle cx="403.8" cy="867.9" r="6.8"/><circle cx="407.2" cy="872.1" r="6.8"/></g>
<path d="M252.6 897.8l5.4 9.4h-10.8zM284.2 884.6l5.4 9.4h-10.8zM295.7 891.3l5.4 9.4h-10.8zM307 887.1l5.4 9.4h-10.8zM305.8 939.1l5.4 9.4h-10.8zM326 868.8l5.4 9.4h-10.8zM330.2 861.5l5.4 9.4h-10.8zM331.9 858.1l5.4 9.4h-10.8zM333.6 854.8l5.4 9.4h-10.8zM337.8 848.9l5.4 9.4h-10.8zM339.5 844.6l5.4 9.4h-10.8zM343.7 855.6l5.4 9.4h-10.8zM351.3 854.8l5.4 9.4h-10.8zM353 863.2l5.4 9.4h-10.8zM358.1 864l5.4 9.4h-10.8zM369 863.2l5.4 9.4h-10.8zM361.8 875.8l5.4 9.4h-10.8zM372.4 881.7l5.4 9.4h-10.8zM379.1 863.2l5.4 9.4h-10.8zM381 862.3l5.4 9.4h-10.8zM385.2 873.3l5.4 9.4h-10.8zM365 877.5l5.4 9.4h-10.8zM430.8 857.3l5.4 9.4h-10.8zM440.9 857.3l5.4 9.4h-10.8zM448.5 858.1l5.4 9.4h-10.8zM465.9 855.6l5.4 9.4h-10.8zM486.4 859l5.4 9.4h-10.8zM501.6 858.1l5.4 9.4h-10.8zM452.7 866.6l5.4 9.4h-10.8zM478 869.9l5.4 9.4h-10.8zM474.6 868.3l5.4 9.4h-10.8zM501.6 868.3l5.4 9.4h-10.8zM491.7 861.5l5.4 9.4h-10.8zM495 860.7l5.4 9.4h-10.8zM505.2 866.6l5.4 9.4h-10.8zM508.6 862.3l5.4 9.4h-10.8zM511.9 866.6l5.4 9.4h-10.8zM515.3 863.2l5.4 9.4h-10.8zM521.2 864.9l5.4 9.4h-10.8zM524.6 868.3l5.4 9.4h-10.8zM527.1 874.2l5.4 9.4h-10.8zM530.5 871.6l5.4 9.4h-10.8zM532.2 875l5.4 9.4h-10.8zM535.5 878.4l5.4 9.4h-10.8zM538.1 870.8l5.4 9.4h-10.8zM541.4 869.9l5.4 9.4h-10.8zM542.3 875l5.4 9.4h-10.8zM544 877.5l5.4 9.4h-10.8zM547.3 875l5.4 9.4h-10.8zM549 886.8l5.4 9.4h-10.8zM554.1 875.8l5.4 9.4h-10.8zM557.5 880.9l5.4 9.4h-10.8zM558.3 866.6l5.4 9.4h-10.8zM559.2 887.6l5.4 9.4h-10.8zM562.5 887.6l5.4 9.4h-10.8zM622.4 911.3l5.4 9.4h-10.8zM619.9 926.4l5.4 9.4h-10.8zM629.1 918l5.4 9.4h-10.8zM629.1 938.2l5.4 9.4h-10.8zM632.9 914.3l5.4 9.4h-10.8zM634.6 925.3l5.4 9.4h-10.8zM641.3 925.3l5.4 9.4h-10.8zM649.8 922.8l5.4 9.4h-10.8zM652.3 921.9l5.4 9.4h-10.8zM651.4 926.1l5.4 9.4h-10.8zM659 927l5.4 9.4h-10.8zM663.2 929.5l5.4 9.4h-10.8zM665.8 928.7l5.4 9.4h-10.8zM664.9 912.6l5.4 9.4h-10.8zM665.4 938.8l5.4 9.4h-10.8zM713 881.4l5.4 9.4h-10.8zM704.1 902.5l5.4 9.4h-10.8zM702.9 911.8l5.4 9.4h-10.8zM701.2 922.8l5.4 9.4h-10.8zM700.9 932.9l5.4 9.4h-10.8zM387 861.7l5.4 9.4h-10.8zM391.7 862l5.4 9.4h-10.8zM397.4 861.6l5.4 9.4h-10.8zM401.9 865.2l5.4 9.4h-10.8zM406.6 862.2l5.4 9.4h-10.8zM411.1 863.5l5.4 9.4h-10.8zM416.1 862.7l5.4 9.4h-10.8zM421.7 863.6l5.4 9.4h-10.8zM426.1 860.4l5.4 9.4h-10.8zM430.8 861.3l5.4 9.4h-10.8zM435.3 863.4l5.4 9.4h-10.8zM439.5 861.5l5.4 9.4h-10.8zM445.2 863.2l5.4 9.4h-10.8zM449.7 862.9l5.4 9.4h-10.8zM454.1 863.4l5.4 9.4h-10.8zM458.5 862.1l5.4 9.4h-10.8zM464 863.1l5.4 9.4h-10.8zM468.5 864.5l5.4 9.4h-10.8zM472.7 865.3l5.4 9.4h-10.8zM476.2 866.4l5.4 9.4h-10.8zM479.6 862.7l5.4 9.4h-10.8zM485.2 865.8l5.4 9.4h-10.8zM488.8 860.4l5.4 9.4h-10.8zM494 862.7l5.4 9.4h-10.8zM497.6 861.6l5.4 9.4h-10.8zM502.3 864.3l5.4 9.4h-10.8z" fill="none" stroke="#00f" stroke-width="1.3"/>
<path d="M154.9 452v-6.5M154.9 11v6.5M195.7 452v-6.5M195.7 11v6.5M236.6 452v-6.5M236.6 11v6.5M277.4 452v-6.5M277.4 11v6.5M318.3 452v-12.5M318.3 11v12.5M359.1 452v-6.5M359.1 11v6.5M400 452v-6.5M400 11v6.5M440.9 452v-6.5M440.9 11v6.5M481.7 452v-6.5M481.7 11v6.5M522.6 452v-12.5M522.6 11v12.5M563.4 452v-6.5M563.4 11v6.5M604.3 452v-6.5M604.3 11v6.5M645.1 452v-6.5M645.1 11v6.5M686 452v-6.5M686 11v6.5M726.9 452v-12.5M726.9 11v12.5M767.7 452v-6.5M767.7 11v6.5M808.6 452v-6.5M808.6 11v6.5M114 158h12.5M829 158h-12.5M114 305h12.5M829 305h-12.5M114 40.4h6.5M829 40.4h-6.5M114 69.8h6.5M829 69.8h-6.5M114 99.2h6.5M829 99.2h-6.5M114 128.6h6.5M829 128.6h-6.5M114 187.4h6.5M829 187.4h-6.5M114 216.8h6.5M829 216.8h-6.5M114 246.2h6.5M829 246.2h-6.5M114 275.6h6.5M829 275.6h-6.5M114 334.4h6.5M829 334.4h-6.5M114 363.8h6.5M829 363.8h-6.5M114 393.2h6.5M829 393.2h-6.5M114 422.6h6.5M829 422.6h-6.5" stroke="#000" stroke-width="2" stroke-linecap="round" fill="none"/>
<rect x="114" y="11" width="715" height="441" fill="none" stroke="#000" stroke-width="2"/>
<path d="M154.9 738.7v-6.5M154.9 550.2v6.5M195.7 738.7v-6.5M195.7 550.2v6.5M236.6 738.7v-6.5M236.6 550.2v6.5M277.4 738.7v-6.5M277.4 550.2v6.5M318.3 738.7v-12.5M318.3 550.2v12.5M359.1 738.7v-6.5M359.1 550.2v6.5M400 738.7v-6.5M400 550.2v6.5M440.9 738.7v-6.5M440.9 550.2v6.5M481.7 738.7v-6.5M481.7 550.2v6.5M522.6 738.7v-12.5M522.6 550.2v12.5M563.4 738.7v-6.5M563.4 550.2v6.5M604.3 738.7v-6.5M604.3 550.2v6.5M645.1 738.7v-6.5M645.1 550.2v6.5M686 738.7v-6.5M686 550.2v6.5M726.9 738.7v-12.5M726.9 550.2v12.5M767.7 738.7v-6.5M767.7 550.2v6.5M808.6 738.7v-6.5M808.6 550.2v6.5M114 597.3h12.5M829 597.3h-12.5M114 644.5h12.5M829 644.5h-12.5M114 691.6h12.5M829 691.6h-12.5M114 559.6h6.5M829 559.6h-6.5M114 569.1h6.5M829 569.1h-6.5M114 578.5h6.5M829 578.5h-6.5M114 587.9h6.5M829 587.9h-6.5M114 606.8h6.5M829 606.8h-6.5M114 616.2h6.5M829 616.2h-6.5M114 625.6h6.5M829 625.6h-6.5M114 635h6.5M829 635h-6.5M114 653.9h6.5M829 653.9h-6.5M114 663.3h6.5M829 663.3h-6.5M114 672.7h6.5M829 672.7h-6.5M114 682.2h6.5M829 682.2h-6.5M114 701h6.5M829 701h-6.5M114 710.4h6.5M829 710.4h-6.5M114 719.9h6.5M829 719.9h-6.5M114 729.3h6.5M829 729.3h-6.5" stroke="#000" stroke-width="2" stroke-linecap="round" fill="none"/>
<rect x="114" y="550.2" width="715" height="188.5" fill="none" stroke="#000" stroke-width="2"/>
<path d="M154.9 1014v-6.5M154.9 826v6.5M195.7 1014v-6.5M195.7 826v6.5M236.6 1014v-6.5M236.6 826v6.5M277.4 1014v-6.5M277.4 826v6.5M318.3 1014v-12.5M318.3 826v12.5M359.1 1014v-6.5M359.1 826v6.5M400 1014v-6.5M400 826v6.5M440.9 1014v-6.5M440.9 826v6.5M481.7 1014v-6.5M481.7 826v6.5M522.6 1014v-12.5M522.6 826v12.5M563.4 1014v-6.5M563.4 826v6.5M604.3 1014v-6.5M604.3 826v6.5M645.1 1014v-6.5M645.1 826v6.5M686 1014v-6.5M686 826v6.5M726.9 1014v-12.5M726.9 826v12.5M767.7 1014v-6.5M767.7 826v6.5M808.6 1014v-6.5M808.6 826v6.5M114 873h12.5M829 873h-12.5M114 920h12.5M829 920h-12.5M114 967h12.5M829 967h-12.5M114 835.4h6.5M829 835.4h-6.5M114 844.8h6.5M829 844.8h-6.5M114 854.2h6.5M829 854.2h-6.5M114 863.6h6.5M829 863.6h-6.5M114 882.4h6.5M829 882.4h-6.5M114 891.8h6.5M829 891.8h-6.5M114 901.2h6.5M829 901.2h-6.5M114 910.6h6.5M829 910.6h-6.5M114 929.4h6.5M829 929.4h-6.5M114 938.8h6.5M829 938.8h-6.5M114 948.2h6.5M829 948.2h-6.5M114 957.6h6.5M829 957.6h-6.5M114 976.4h6.5M829 976.4h-6.5M114 985.8h6.5M829 985.8h-6.5M114 995.2h6.5M829 995.2h-6.5M114 1004.6h6.5M829 1004.6h-6.5" stroke="#000" stroke-width="2" stroke-linecap="round" fill="none"/>
<rect x="114" y="826" width="715" height="188" fill="none" stroke="#000" stroke-width="2"/>
<g font-family="Liberation Sans, sans-serif">
<text transform="translate(95.8,19.7) scale(1.065,1)" font-size="26.5" text-anchor="end">5</text>
<text transform="translate(95.8,167.2) scale(1.065,1)" font-size="26.5" text-anchor="end">10</text>
<text transform="translate(95.8,314.2) scale(1.065,1)" font-size="26.5" text-anchor="end">15</text>
<text transform="translate(95.8,461.2) scale(1.065,1)" font-size="26.5" text-anchor="end">20</text>
<text transform="translate(92.8,559.4) scale(1.065,1)" font-size="26.5" text-anchor="end">&#8722;1</text>
<text transform="translate(95.8,606.5) scale(1.065,1)" font-size="26.5" text-anchor="end">&#8722;0.5</text>
<text transform="translate(95.8,653.7) scale(1.065,1)" font-size="26.5" text-anchor="end">0</text>
<text transform="translate(95.8,700.8) scale(1.065,1)" font-size="26.5" text-anchor="end">0.5</text>
<text transform="translate(92.8,747.9) scale(1.065,1)" font-size="26.5" text-anchor="end">1</text>
<text transform="translate(95.8,835.2) scale(1.065,1)" font-size="26.5" text-anchor="end">&#8722;1.5</text>
<text transform="translate(92.8,882.2) scale(1.065,1)" font-size="26.5" text-anchor="end">&#8722;1</text>
<text transform="translate(95.8,929.2) scale(1.065,1)" font-size="26.5" text-anchor="end">&#8722;0.5</text>
<text transform="translate(95.8,976.2) scale(1.065,1)" font-size="26.5" text-anchor="end">0</text>
<text transform="translate(95.8,1023.2) scale(1.065,1)" font-size="26.5" text-anchor="end">0.5</text>
<text transform="translate(114,483.3) scale(1.065,1)" font-size="26.5" text-anchor="middle">0</text>
<text transform="translate(318.3,483.3) scale(1.065,1)" font-size="26.5" text-anchor="middle">1</text>
<text transform="translate(522.6,483.3) scale(1.065,1)" font-size="26.5" text-anchor="middle">2</text>
<text transform="translate(726.9,483.3) scale(1.065,1)" font-size="26.5" text-anchor="middle">3</text>
<text transform="translate(114,770) scale(1.065,1)" font-size="26.5" text-anchor="middle">0</text>
<text transform="translate(318.3,770) scale(1.065,1)" font-size="26.5" text-anchor="middle">1</text>
<text transform="translate(522.6,770) scale(1.065,1)" font-size="26.5" text-anchor="middle">2</text>
<text transform="translate(726.9,770) scale(1.065,1)" font-size="26.5" text-anchor="middle">3</text>
<text transform="translate(114,1045.3) scale(1.065,1)" font-size="26.5" text-anchor="middle">0</text>
<text transform="translate(318.3,1045.3) scale(1.065,1)" font-size="26.5" text-anchor="middle">1</text>
<text transform="translate(522.6,1045.3) scale(1.065,1)" font-size="26.5" text-anchor="middle">2</text>
<text transform="translate(726.9,1045.3) scale(1.065,1)" font-size="26.5" text-anchor="middle">3</text>
<text transform="translate(149.8,47.1) scale(1.13,1.04)" font-size="26.5">(a)</text>
<text transform="translate(138.8,579.6) scale(1.13,1.04)" font-size="26.5">(b)</text>
<text transform="translate(138.8,855) scale(1.13,1.04)" font-size="26.5">(c)</text>
<text transform="translate(23.2,231.7) rotate(-90) scale(.86,1)" font-size="26.5" text-anchor="middle">V</text>
<text transform="translate(23,684.5) rotate(-90) scale(1.05,1)" font-size="27">(B&#8722;V)<tspan dy="9.6" font-size="21">0</tspan></text>
<text transform="translate(23,963) rotate(-90) scale(1.05,1)" font-size="27">(U&#8722;B)<tspan dy="9.6" font-size="21">0</tspan></text>
<text x="321.7" y="1097.4" font-size="27.5">log[days</text>
<text x="438" y="1097.4" font-size="27.5" textLength="58" lengthAdjust="spacingAndGlyphs">after</text>
<text x="509.5" y="1097.4" font-size="27.5" textLength="112.5" lengthAdjust="spacingAndGlyphs">outburst]</text>
<text x="220.8" y="355.7" font-size="20.5" textLength="49.5" lengthAdjust="spacing" fill="#0f0">V458</text>
<text x="280" y="355.7" font-size="20.5" textLength="28.8" lengthAdjust="spacing" fill="#0f0">Vul</text>
<text x="318.5" y="355.7" font-size="20.5" textLength="67" lengthAdjust="spacing" fill="#0f0">V+1.0,</text>
<text x="395.2" y="355.7" font-size="20.5" textLength="30.5" lengthAdjust="spacing" fill="#0f0">2.0</text>
<text x="436" y="355.7" font-size="20.5" fill="#0f0">t</text>
<text x="220.8" y="386.7" font-size="20.5" textLength="49.5" lengthAdjust="spacing" fill="#f00">V443</text>
<text x="280" y="386.7" font-size="20.5" textLength="31" lengthAdjust="spacing" fill="#f00">Sct</text>
<text x="322" y="386.7" font-size="20.5" textLength="65" lengthAdjust="spacing" fill="#f00">V+0.0,</text>
<text x="398" y="386.7" font-size="20.5" textLength="32" lengthAdjust="spacing" fill="#f00">1.0</text>
<text x="438.8" y="386.7" font-size="20.5" fill="#f00">t</text>
<text x="220.6" y="417.8" font-size="20.5" textLength="29.5" fill="#00f" lengthAdjust="spacingAndGlyphs">PW</text>
<text x="259" y="417.8" font-size="20.5" textLength="28.8" lengthAdjust="spacing" fill="#00f">Vul</text>
<text x="297.4" y="417.8" font-size="20.5" textLength="66.5" lengthAdjust="spacing" fill="#00f">V+2.5,</text>
<text x="373.5" y="417.8" font-size="20.5" textLength="32" lengthAdjust="spacing" fill="#00f">1.0</text>
<text x="414.8" y="417.8" font-size="20.5" fill="#00f">t</text>
</g>
</svg></body></html>
